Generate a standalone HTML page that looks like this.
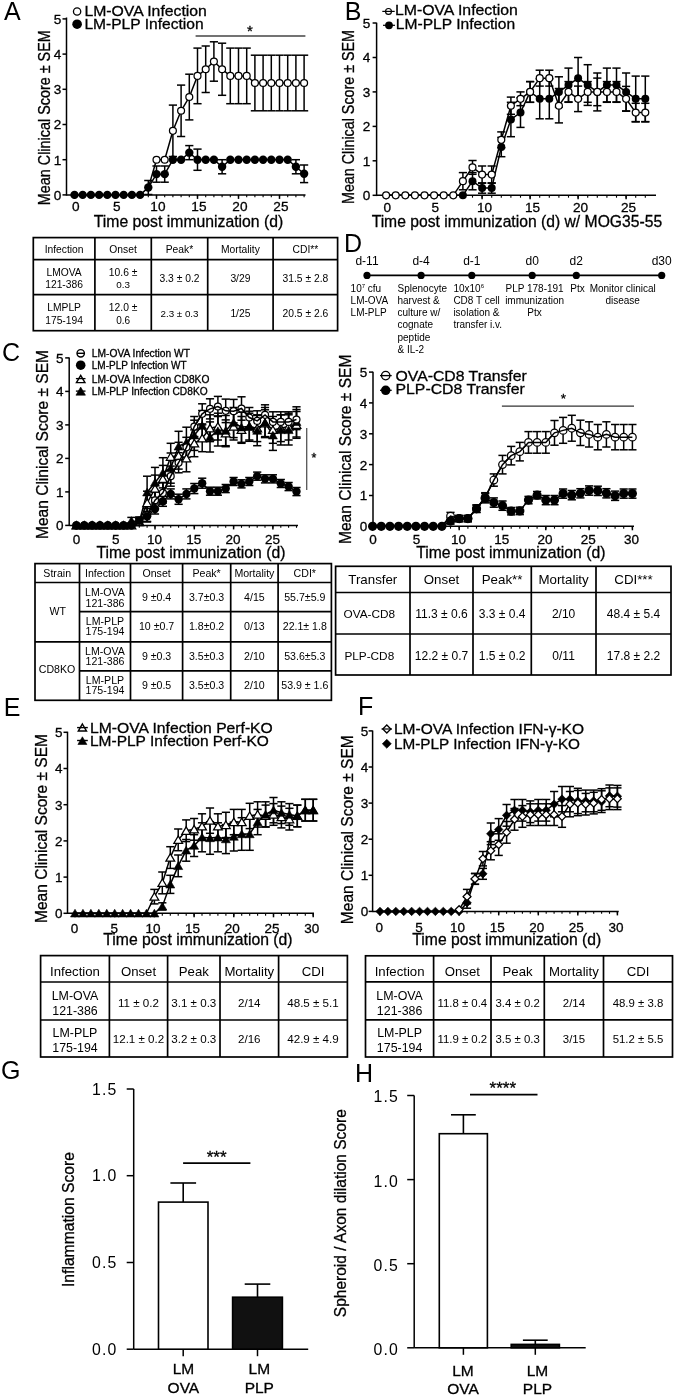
<!DOCTYPE html>
<html><head><meta charset="utf-8"><style>
html,body{margin:0;padding:0;background:#fff;width:675px;height:1396px;overflow:hidden}
svg{display:block;will-change:transform}
text{font-family:"Liberation Sans", sans-serif;fill:#000;stroke:#000;stroke-width:0.3px}
.tb{stroke-width:0}
line,polyline{stroke:#000;stroke-linecap:butt}
</style></head><body>
<svg width="675" height="1396" viewBox="0 0 675 1396">
<rect x="0" y="0" width="675" height="1396" fill="#fff"/>
<text x="3.9" y="19.7" font-size="25" class="tb">A</text>
<line x1="66.5" y1="17.5" x2="66.5" y2="195.7" stroke-width="1.5"/>
<line x1="66.5" y1="194.9" x2="305.5" y2="194.9" stroke-width="1.5"/>
<line x1="62.5" y1="194.9" x2="66.5" y2="194.9" stroke-width="1.5"/>
<text x="61.3" y="199.8" font-size="13.6" text-anchor="end" font-weight="normal">0</text>
<line x1="62.5" y1="159.7" x2="66.5" y2="159.7" stroke-width="1.5"/>
<text x="61.3" y="164.6" font-size="13.6" text-anchor="end" font-weight="normal">1</text>
<line x1="62.5" y1="124.5" x2="66.5" y2="124.5" stroke-width="1.5"/>
<text x="61.3" y="129.4" font-size="13.6" text-anchor="end" font-weight="normal">2</text>
<line x1="62.5" y1="89.3" x2="66.5" y2="89.3" stroke-width="1.5"/>
<text x="61.3" y="94.2" font-size="13.6" text-anchor="end" font-weight="normal">3</text>
<line x1="62.5" y1="54.1" x2="66.5" y2="54.1" stroke-width="1.5"/>
<text x="61.3" y="59.0" font-size="13.6" text-anchor="end" font-weight="normal">4</text>
<line x1="62.5" y1="18.9" x2="66.5" y2="18.9" stroke-width="1.5"/>
<text x="61.3" y="23.8" font-size="13.6" text-anchor="end" font-weight="normal">5</text>
<line x1="74.5" y1="194.9" x2="74.5" y2="197.3" stroke-width="1.1"/>
<line x1="82.7" y1="194.9" x2="82.7" y2="197.3" stroke-width="1.1"/>
<line x1="90.9" y1="194.9" x2="90.9" y2="197.3" stroke-width="1.1"/>
<line x1="99.1" y1="194.9" x2="99.1" y2="197.3" stroke-width="1.1"/>
<line x1="107.3" y1="194.9" x2="107.3" y2="197.3" stroke-width="1.1"/>
<line x1="115.5" y1="194.9" x2="115.5" y2="197.3" stroke-width="1.1"/>
<line x1="123.7" y1="194.9" x2="123.7" y2="197.3" stroke-width="1.1"/>
<line x1="131.9" y1="194.9" x2="131.9" y2="197.3" stroke-width="1.1"/>
<line x1="140.1" y1="194.9" x2="140.1" y2="197.3" stroke-width="1.1"/>
<line x1="148.3" y1="194.9" x2="148.3" y2="197.3" stroke-width="1.1"/>
<line x1="156.5" y1="194.9" x2="156.5" y2="197.3" stroke-width="1.1"/>
<line x1="164.7" y1="194.9" x2="164.7" y2="197.3" stroke-width="1.1"/>
<line x1="172.9" y1="194.9" x2="172.9" y2="197.3" stroke-width="1.1"/>
<line x1="181.1" y1="194.9" x2="181.1" y2="197.3" stroke-width="1.1"/>
<line x1="189.3" y1="194.9" x2="189.3" y2="197.3" stroke-width="1.1"/>
<line x1="197.5" y1="194.9" x2="197.5" y2="197.3" stroke-width="1.1"/>
<line x1="205.7" y1="194.9" x2="205.7" y2="197.3" stroke-width="1.1"/>
<line x1="213.9" y1="194.9" x2="213.9" y2="197.3" stroke-width="1.1"/>
<line x1="222.1" y1="194.9" x2="222.1" y2="197.3" stroke-width="1.1"/>
<line x1="230.3" y1="194.9" x2="230.3" y2="197.3" stroke-width="1.1"/>
<line x1="238.5" y1="194.9" x2="238.5" y2="197.3" stroke-width="1.1"/>
<line x1="246.7" y1="194.9" x2="246.7" y2="197.3" stroke-width="1.1"/>
<line x1="254.9" y1="194.9" x2="254.9" y2="197.3" stroke-width="1.1"/>
<line x1="263.1" y1="194.9" x2="263.1" y2="197.3" stroke-width="1.1"/>
<line x1="271.3" y1="194.9" x2="271.3" y2="197.3" stroke-width="1.1"/>
<line x1="279.5" y1="194.9" x2="279.5" y2="197.3" stroke-width="1.1"/>
<line x1="287.7" y1="194.9" x2="287.7" y2="197.3" stroke-width="1.1"/>
<line x1="295.9" y1="194.9" x2="295.9" y2="197.3" stroke-width="1.1"/>
<line x1="304.1" y1="194.9" x2="304.1" y2="197.3" stroke-width="1.1"/>
<line x1="74.5" y1="194.9" x2="74.5" y2="198.9" stroke-width="1.5"/>
<text x="75.9" y="210.8" font-size="13.6" text-anchor="middle" font-weight="normal">0</text>
<line x1="115.5" y1="194.9" x2="115.5" y2="198.9" stroke-width="1.5"/>
<text x="116.9" y="210.8" font-size="13.6" text-anchor="middle" font-weight="normal">5</text>
<line x1="156.5" y1="194.9" x2="156.5" y2="198.9" stroke-width="1.5"/>
<text x="157.9" y="210.8" font-size="13.6" text-anchor="middle" font-weight="normal">10</text>
<line x1="197.5" y1="194.9" x2="197.5" y2="198.9" stroke-width="1.5"/>
<text x="198.9" y="210.8" font-size="13.6" text-anchor="middle" font-weight="normal">15</text>
<line x1="238.5" y1="194.9" x2="238.5" y2="198.9" stroke-width="1.5"/>
<text x="239.9" y="210.8" font-size="13.6" text-anchor="middle" font-weight="normal">20</text>
<line x1="279.5" y1="194.9" x2="279.5" y2="198.9" stroke-width="1.5"/>
<text x="280.9" y="210.8" font-size="13.6" text-anchor="middle" font-weight="normal">25</text>
<text x="188.5" y="227.1" font-size="16.3" text-anchor="middle" font-weight="normal" textLength="189.4" lengthAdjust="spacingAndGlyphs">Time post immunization (d)</text>
<text transform="translate(50.4,117.7) rotate(-90)" x="0" y="0" font-size="16.3" text-anchor="middle" textLength="175.0" lengthAdjust="spacingAndGlyphs">Mean Clinical Score ± SEM</text>
<circle cx="77.10" cy="11.50" r="3.65" fill="#fff" stroke="#000" stroke-width="1.3"/>
<circle cx="77.10" cy="24.20" r="4.80" fill="#000"/>
<text x="84.4" y="15.6" font-size="15" text-anchor="start" font-weight="normal" textLength="122.5" lengthAdjust="spacingAndGlyphs">LM-OVA Infection</text>
<text x="84.4" y="28.8" font-size="15" text-anchor="start" font-weight="normal" textLength="119.2" lengthAdjust="spacingAndGlyphs">LM-PLP Infection</text>
<line x1="195.6" y1="36.0" x2="305.4" y2="36.0" stroke-width="1.3" style="stroke:#444"/>
<text x="250.0" y="35.7" font-size="15" text-anchor="middle" font-weight="normal">*</text>
<polyline points="148.30,187.86 156.50,159.70 164.70,159.70 172.90,130.84 181.10,110.77 189.30,97.04 197.50,75.92 205.70,69.24 213.90,61.49 222.10,69.24 230.30,75.92 238.50,75.92 246.70,75.92 254.90,82.96 263.10,82.96 271.30,82.96 279.50,82.96 287.70,82.96 295.90,82.96 304.10,82.96" fill="none" stroke="#000" stroke-width="1.5"/>
<line x1="172.9" y1="105.1" x2="172.9" y2="156.5" stroke-width="1.5"/>
<line x1="168.8" y1="105.1" x2="177.0" y2="105.1" stroke-width="1.5"/>
<line x1="168.8" y1="156.5" x2="177.0" y2="156.5" stroke-width="1.5"/>
<line x1="181.1" y1="85.1" x2="181.1" y2="136.5" stroke-width="1.5"/>
<line x1="177.0" y1="85.1" x2="185.2" y2="85.1" stroke-width="1.5"/>
<line x1="177.0" y1="136.5" x2="185.2" y2="136.5" stroke-width="1.5"/>
<line x1="189.3" y1="74.2" x2="189.3" y2="119.9" stroke-width="1.5"/>
<line x1="185.2" y1="74.2" x2="193.4" y2="74.2" stroke-width="1.5"/>
<line x1="185.2" y1="119.9" x2="193.4" y2="119.9" stroke-width="1.5"/>
<line x1="197.5" y1="48.1" x2="197.5" y2="103.7" stroke-width="1.5"/>
<line x1="193.4" y1="48.1" x2="201.6" y2="48.1" stroke-width="1.5"/>
<line x1="193.4" y1="103.7" x2="201.6" y2="103.7" stroke-width="1.5"/>
<line x1="205.7" y1="46.0" x2="205.7" y2="92.5" stroke-width="1.5"/>
<line x1="201.6" y1="46.0" x2="209.8" y2="46.0" stroke-width="1.5"/>
<line x1="201.6" y1="92.5" x2="209.8" y2="92.5" stroke-width="1.5"/>
<line x1="213.9" y1="41.8" x2="213.9" y2="81.2" stroke-width="1.5"/>
<line x1="209.8" y1="41.8" x2="218.0" y2="41.8" stroke-width="1.5"/>
<line x1="209.8" y1="81.2" x2="218.0" y2="81.2" stroke-width="1.5"/>
<line x1="222.1" y1="43.2" x2="222.1" y2="95.3" stroke-width="1.5"/>
<line x1="218.0" y1="43.2" x2="226.2" y2="43.2" stroke-width="1.5"/>
<line x1="218.0" y1="95.3" x2="226.2" y2="95.3" stroke-width="1.5"/>
<line x1="230.3" y1="48.1" x2="230.3" y2="103.7" stroke-width="1.5"/>
<line x1="226.2" y1="48.1" x2="234.4" y2="48.1" stroke-width="1.5"/>
<line x1="226.2" y1="103.7" x2="234.4" y2="103.7" stroke-width="1.5"/>
<line x1="238.5" y1="48.1" x2="238.5" y2="103.7" stroke-width="1.5"/>
<line x1="234.4" y1="48.1" x2="242.6" y2="48.1" stroke-width="1.5"/>
<line x1="234.4" y1="103.7" x2="242.6" y2="103.7" stroke-width="1.5"/>
<line x1="246.7" y1="48.1" x2="246.7" y2="103.7" stroke-width="1.5"/>
<line x1="242.6" y1="48.1" x2="250.8" y2="48.1" stroke-width="1.5"/>
<line x1="242.6" y1="103.7" x2="250.8" y2="103.7" stroke-width="1.5"/>
<line x1="254.9" y1="55.2" x2="254.9" y2="110.8" stroke-width="1.5"/>
<line x1="250.8" y1="55.2" x2="259.0" y2="55.2" stroke-width="1.5"/>
<line x1="250.8" y1="110.8" x2="259.0" y2="110.8" stroke-width="1.5"/>
<line x1="263.1" y1="55.2" x2="263.1" y2="110.8" stroke-width="1.5"/>
<line x1="259.0" y1="55.2" x2="267.2" y2="55.2" stroke-width="1.5"/>
<line x1="259.0" y1="110.8" x2="267.2" y2="110.8" stroke-width="1.5"/>
<line x1="271.3" y1="55.2" x2="271.3" y2="110.8" stroke-width="1.5"/>
<line x1="267.2" y1="55.2" x2="275.4" y2="55.2" stroke-width="1.5"/>
<line x1="267.2" y1="110.8" x2="275.4" y2="110.8" stroke-width="1.5"/>
<line x1="279.5" y1="55.2" x2="279.5" y2="110.8" stroke-width="1.5"/>
<line x1="275.4" y1="55.2" x2="283.6" y2="55.2" stroke-width="1.5"/>
<line x1="275.4" y1="110.8" x2="283.6" y2="110.8" stroke-width="1.5"/>
<line x1="287.7" y1="55.2" x2="287.7" y2="110.8" stroke-width="1.5"/>
<line x1="283.6" y1="55.2" x2="291.8" y2="55.2" stroke-width="1.5"/>
<line x1="283.6" y1="110.8" x2="291.8" y2="110.8" stroke-width="1.5"/>
<line x1="295.9" y1="55.2" x2="295.9" y2="110.8" stroke-width="1.5"/>
<line x1="291.8" y1="55.2" x2="300.0" y2="55.2" stroke-width="1.5"/>
<line x1="291.8" y1="110.8" x2="300.0" y2="110.8" stroke-width="1.5"/>
<line x1="304.1" y1="55.2" x2="304.1" y2="110.8" stroke-width="1.5"/>
<line x1="300.0" y1="55.2" x2="308.2" y2="55.2" stroke-width="1.5"/>
<line x1="300.0" y1="110.8" x2="308.2" y2="110.8" stroke-width="1.5"/>
<circle cx="156.50" cy="159.70" r="3.45" fill="#fff" stroke="#000" stroke-width="1.25"/>
<circle cx="164.70" cy="159.70" r="3.45" fill="#fff" stroke="#000" stroke-width="1.25"/>
<circle cx="172.90" cy="130.84" r="3.45" fill="#fff" stroke="#000" stroke-width="1.25"/>
<circle cx="181.10" cy="110.77" r="3.45" fill="#fff" stroke="#000" stroke-width="1.25"/>
<circle cx="189.30" cy="97.04" r="3.45" fill="#fff" stroke="#000" stroke-width="1.25"/>
<circle cx="197.50" cy="75.92" r="3.45" fill="#fff" stroke="#000" stroke-width="1.25"/>
<circle cx="205.70" cy="69.24" r="3.45" fill="#fff" stroke="#000" stroke-width="1.25"/>
<circle cx="213.90" cy="61.49" r="3.45" fill="#fff" stroke="#000" stroke-width="1.25"/>
<circle cx="222.10" cy="69.24" r="3.45" fill="#fff" stroke="#000" stroke-width="1.25"/>
<circle cx="230.30" cy="75.92" r="3.45" fill="#fff" stroke="#000" stroke-width="1.25"/>
<circle cx="238.50" cy="75.92" r="3.45" fill="#fff" stroke="#000" stroke-width="1.25"/>
<circle cx="246.70" cy="75.92" r="3.45" fill="#fff" stroke="#000" stroke-width="1.25"/>
<circle cx="254.90" cy="82.96" r="3.45" fill="#fff" stroke="#000" stroke-width="1.25"/>
<circle cx="263.10" cy="82.96" r="3.45" fill="#fff" stroke="#000" stroke-width="1.25"/>
<circle cx="271.30" cy="82.96" r="3.45" fill="#fff" stroke="#000" stroke-width="1.25"/>
<circle cx="279.50" cy="82.96" r="3.45" fill="#fff" stroke="#000" stroke-width="1.25"/>
<circle cx="287.70" cy="82.96" r="3.45" fill="#fff" stroke="#000" stroke-width="1.25"/>
<circle cx="295.90" cy="82.96" r="3.45" fill="#fff" stroke="#000" stroke-width="1.25"/>
<circle cx="304.10" cy="82.96" r="3.45" fill="#fff" stroke="#000" stroke-width="1.25"/>
<polyline points="74.50,194.90 82.70,194.90 90.90,194.90 99.10,194.90 107.30,194.90 115.50,194.90 123.70,194.90 131.90,194.90 140.10,194.90 148.30,187.51 156.50,174.13 164.70,174.13 172.90,159.70 181.10,159.70 189.30,152.66 197.50,159.70 205.70,159.70 213.90,159.70 222.10,166.74 230.30,159.70 238.50,159.70 246.70,159.70 254.90,159.70 263.10,159.70 271.30,159.70 279.50,159.70 287.70,159.70 295.90,166.74 304.10,173.78" fill="none" stroke="#000" stroke-width="1.5"/>
<line x1="148.3" y1="180.5" x2="148.3" y2="194.5" stroke-width="1.5"/>
<line x1="144.2" y1="180.5" x2="152.4" y2="180.5" stroke-width="1.5"/>
<line x1="144.2" y1="194.5" x2="152.4" y2="194.5" stroke-width="1.5"/>
<line x1="156.5" y1="166.0" x2="156.5" y2="182.2" stroke-width="1.5"/>
<line x1="152.4" y1="166.0" x2="160.6" y2="166.0" stroke-width="1.5"/>
<line x1="152.4" y1="182.2" x2="160.6" y2="182.2" stroke-width="1.5"/>
<line x1="164.7" y1="166.0" x2="164.7" y2="182.2" stroke-width="1.5"/>
<line x1="160.6" y1="166.0" x2="168.8" y2="166.0" stroke-width="1.5"/>
<line x1="160.6" y1="182.2" x2="168.8" y2="182.2" stroke-width="1.5"/>
<line x1="189.3" y1="145.6" x2="189.3" y2="159.7" stroke-width="1.5"/>
<line x1="185.2" y1="145.6" x2="193.4" y2="145.6" stroke-width="1.5"/>
<line x1="185.2" y1="159.7" x2="193.4" y2="159.7" stroke-width="1.5"/>
<line x1="197.5" y1="149.1" x2="197.5" y2="170.3" stroke-width="1.5"/>
<line x1="193.4" y1="149.1" x2="201.6" y2="149.1" stroke-width="1.5"/>
<line x1="193.4" y1="170.3" x2="201.6" y2="170.3" stroke-width="1.5"/>
<line x1="222.1" y1="159.7" x2="222.1" y2="173.8" stroke-width="1.5"/>
<line x1="218.0" y1="159.7" x2="226.2" y2="159.7" stroke-width="1.5"/>
<line x1="218.0" y1="173.8" x2="226.2" y2="173.8" stroke-width="1.5"/>
<line x1="295.9" y1="159.7" x2="295.9" y2="173.8" stroke-width="1.5"/>
<line x1="291.8" y1="159.7" x2="300.0" y2="159.7" stroke-width="1.5"/>
<line x1="291.8" y1="173.8" x2="300.0" y2="173.8" stroke-width="1.5"/>
<line x1="304.1" y1="165.0" x2="304.1" y2="182.6" stroke-width="1.5"/>
<line x1="300.0" y1="165.0" x2="308.2" y2="165.0" stroke-width="1.5"/>
<line x1="300.0" y1="182.6" x2="308.2" y2="182.6" stroke-width="1.5"/>
<circle cx="74.50" cy="194.90" r="4.20" fill="#000"/>
<circle cx="82.70" cy="194.90" r="4.20" fill="#000"/>
<circle cx="90.90" cy="194.90" r="4.20" fill="#000"/>
<circle cx="99.10" cy="194.90" r="4.20" fill="#000"/>
<circle cx="107.30" cy="194.90" r="4.20" fill="#000"/>
<circle cx="115.50" cy="194.90" r="4.20" fill="#000"/>
<circle cx="123.70" cy="194.90" r="4.20" fill="#000"/>
<circle cx="131.90" cy="194.90" r="4.20" fill="#000"/>
<circle cx="140.10" cy="194.90" r="4.20" fill="#000"/>
<circle cx="148.30" cy="187.51" r="4.20" fill="#000"/>
<circle cx="156.50" cy="174.13" r="4.20" fill="#000"/>
<circle cx="164.70" cy="174.13" r="4.20" fill="#000"/>
<circle cx="172.90" cy="159.70" r="4.20" fill="#000"/>
<circle cx="181.10" cy="159.70" r="4.20" fill="#000"/>
<circle cx="189.30" cy="152.66" r="4.20" fill="#000"/>
<circle cx="197.50" cy="159.70" r="4.20" fill="#000"/>
<circle cx="205.70" cy="159.70" r="4.20" fill="#000"/>
<circle cx="213.90" cy="159.70" r="4.20" fill="#000"/>
<circle cx="222.10" cy="166.74" r="4.20" fill="#000"/>
<circle cx="230.30" cy="159.70" r="4.20" fill="#000"/>
<circle cx="238.50" cy="159.70" r="4.20" fill="#000"/>
<circle cx="246.70" cy="159.70" r="4.20" fill="#000"/>
<circle cx="254.90" cy="159.70" r="4.20" fill="#000"/>
<circle cx="263.10" cy="159.70" r="4.20" fill="#000"/>
<circle cx="271.30" cy="159.70" r="4.20" fill="#000"/>
<circle cx="279.50" cy="159.70" r="4.20" fill="#000"/>
<circle cx="287.70" cy="159.70" r="4.20" fill="#000"/>
<circle cx="295.90" cy="166.74" r="4.20" fill="#000"/>
<circle cx="304.10" cy="173.78" r="4.20" fill="#000"/>
<text x="344.8" y="19.8" font-size="25" class="tb">B</text>
<line x1="376.6" y1="22.7" x2="376.6" y2="196.1" stroke-width="1.5"/>
<line x1="376.6" y1="195.3" x2="656.0" y2="195.3" stroke-width="1.5"/>
<line x1="372.6" y1="195.3" x2="376.6" y2="195.3" stroke-width="1.5"/>
<text x="370.3" y="200.2" font-size="13.6" text-anchor="end" font-weight="normal">0</text>
<line x1="372.6" y1="160.8" x2="376.6" y2="160.8" stroke-width="1.5"/>
<text x="370.3" y="165.7" font-size="13.6" text-anchor="end" font-weight="normal">1</text>
<line x1="372.6" y1="126.4" x2="376.6" y2="126.4" stroke-width="1.5"/>
<text x="370.3" y="131.3" font-size="13.6" text-anchor="end" font-weight="normal">2</text>
<line x1="372.6" y1="91.9" x2="376.6" y2="91.9" stroke-width="1.5"/>
<text x="370.3" y="96.8" font-size="13.6" text-anchor="end" font-weight="normal">3</text>
<line x1="372.6" y1="57.5" x2="376.6" y2="57.5" stroke-width="1.5"/>
<text x="370.3" y="62.4" font-size="13.6" text-anchor="end" font-weight="normal">4</text>
<line x1="372.6" y1="23.0" x2="376.6" y2="23.0" stroke-width="1.5"/>
<text x="370.3" y="27.9" font-size="13.6" text-anchor="end" font-weight="normal">5</text>
<line x1="386.1" y1="195.3" x2="386.1" y2="197.7" stroke-width="1.1"/>
<line x1="395.7" y1="195.3" x2="395.7" y2="197.7" stroke-width="1.1"/>
<line x1="405.3" y1="195.3" x2="405.3" y2="197.7" stroke-width="1.1"/>
<line x1="414.9" y1="195.3" x2="414.9" y2="197.7" stroke-width="1.1"/>
<line x1="424.5" y1="195.3" x2="424.5" y2="197.7" stroke-width="1.1"/>
<line x1="434.1" y1="195.3" x2="434.1" y2="197.7" stroke-width="1.1"/>
<line x1="443.7" y1="195.3" x2="443.7" y2="197.7" stroke-width="1.1"/>
<line x1="453.3" y1="195.3" x2="453.3" y2="197.7" stroke-width="1.1"/>
<line x1="462.9" y1="195.3" x2="462.9" y2="197.7" stroke-width="1.1"/>
<line x1="472.5" y1="195.3" x2="472.5" y2="197.7" stroke-width="1.1"/>
<line x1="482.1" y1="195.3" x2="482.1" y2="197.7" stroke-width="1.1"/>
<line x1="491.7" y1="195.3" x2="491.7" y2="197.7" stroke-width="1.1"/>
<line x1="501.3" y1="195.3" x2="501.3" y2="197.7" stroke-width="1.1"/>
<line x1="510.9" y1="195.3" x2="510.9" y2="197.7" stroke-width="1.1"/>
<line x1="520.5" y1="195.3" x2="520.5" y2="197.7" stroke-width="1.1"/>
<line x1="530.1" y1="195.3" x2="530.1" y2="197.7" stroke-width="1.1"/>
<line x1="539.7" y1="195.3" x2="539.7" y2="197.7" stroke-width="1.1"/>
<line x1="549.3" y1="195.3" x2="549.3" y2="197.7" stroke-width="1.1"/>
<line x1="558.9" y1="195.3" x2="558.9" y2="197.7" stroke-width="1.1"/>
<line x1="568.5" y1="195.3" x2="568.5" y2="197.7" stroke-width="1.1"/>
<line x1="578.1" y1="195.3" x2="578.1" y2="197.7" stroke-width="1.1"/>
<line x1="587.7" y1="195.3" x2="587.7" y2="197.7" stroke-width="1.1"/>
<line x1="597.3" y1="195.3" x2="597.3" y2="197.7" stroke-width="1.1"/>
<line x1="606.9" y1="195.3" x2="606.9" y2="197.7" stroke-width="1.1"/>
<line x1="616.5" y1="195.3" x2="616.5" y2="197.7" stroke-width="1.1"/>
<line x1="626.1" y1="195.3" x2="626.1" y2="197.7" stroke-width="1.1"/>
<line x1="635.7" y1="195.3" x2="635.7" y2="197.7" stroke-width="1.1"/>
<line x1="645.3" y1="195.3" x2="645.3" y2="197.7" stroke-width="1.1"/>
<line x1="386.1" y1="195.3" x2="386.1" y2="199.3" stroke-width="1.5"/>
<text x="387.3" y="211.5" font-size="13.6" text-anchor="middle" font-weight="normal">0</text>
<line x1="434.1" y1="195.3" x2="434.1" y2="199.3" stroke-width="1.5"/>
<text x="435.3" y="211.5" font-size="13.6" text-anchor="middle" font-weight="normal">5</text>
<line x1="482.1" y1="195.3" x2="482.1" y2="199.3" stroke-width="1.5"/>
<text x="484.6" y="211.5" font-size="13.6" text-anchor="middle" font-weight="normal">10</text>
<line x1="530.1" y1="195.3" x2="530.1" y2="199.3" stroke-width="1.5"/>
<text x="532.6" y="211.5" font-size="13.6" text-anchor="middle" font-weight="normal">15</text>
<line x1="578.1" y1="195.3" x2="578.1" y2="199.3" stroke-width="1.5"/>
<text x="580.6" y="211.5" font-size="13.6" text-anchor="middle" font-weight="normal">20</text>
<line x1="626.1" y1="195.3" x2="626.1" y2="199.3" stroke-width="1.5"/>
<text x="628.6" y="211.5" font-size="13.6" text-anchor="middle" font-weight="normal">25</text>
<text x="516.9" y="227.2" font-size="16.3" text-anchor="middle" font-weight="normal" textLength="290.5" lengthAdjust="spacingAndGlyphs">Time post immunization (d) w/ MOG35-55</text>
<text transform="translate(353.8,117.0) rotate(-90)" x="0" y="0" font-size="16.3" text-anchor="middle" textLength="174.0" lengthAdjust="spacingAndGlyphs">Mean Clinical Score ± SEM</text>
<circle cx="388.50" cy="11.40" r="2.95" fill="#fff" stroke="#000" stroke-width="1.15"/>
<line x1="382.3" y1="11.4" x2="394.7" y2="11.4" stroke-width="1.2"/>
<line x1="383.0" y1="25.3" x2="395.0" y2="25.3" stroke-width="1.2"/>
<circle cx="389.00" cy="25.30" r="3.90" fill="#000"/>
<text x="394.9" y="15.3" font-size="15.5" text-anchor="start" font-weight="normal" textLength="122.9" lengthAdjust="spacingAndGlyphs">LM-OVA Infection</text>
<text x="395.8" y="28.9" font-size="15.5" text-anchor="start" font-weight="normal" textLength="119.3" lengthAdjust="spacingAndGlyphs">LM-PLP Infection</text>
<polyline points="386.10,195.30 395.70,195.30 405.30,195.30 414.90,195.30 424.50,195.30 434.10,195.30 443.70,195.30 453.30,195.30 462.90,195.30 472.50,181.17 482.10,188.06 491.70,188.06 501.30,147.06 510.90,119.49 520.50,112.60 530.10,91.92 539.70,98.81 549.30,98.81 558.90,91.92 568.50,85.03 578.10,78.14 587.70,85.03 597.30,91.92 606.90,85.03 616.50,85.03 626.10,91.92 635.70,98.81 645.30,98.81" fill="none" stroke="#000" stroke-width="1.5"/>
<line x1="472.5" y1="172.6" x2="472.5" y2="189.8" stroke-width="1.5"/>
<line x1="468.4" y1="172.6" x2="476.6" y2="172.6" stroke-width="1.5"/>
<line x1="468.4" y1="189.8" x2="476.6" y2="189.8" stroke-width="1.5"/>
<line x1="482.1" y1="182.9" x2="482.1" y2="193.2" stroke-width="1.5"/>
<line x1="478.0" y1="182.9" x2="486.2" y2="182.9" stroke-width="1.5"/>
<line x1="478.0" y1="193.2" x2="486.2" y2="193.2" stroke-width="1.5"/>
<line x1="491.7" y1="182.9" x2="491.7" y2="193.2" stroke-width="1.5"/>
<line x1="487.6" y1="182.9" x2="495.8" y2="182.9" stroke-width="1.5"/>
<line x1="487.6" y1="193.2" x2="495.8" y2="193.2" stroke-width="1.5"/>
<line x1="501.3" y1="137.4" x2="501.3" y2="156.7" stroke-width="1.5"/>
<line x1="497.2" y1="137.4" x2="505.4" y2="137.4" stroke-width="1.5"/>
<line x1="497.2" y1="156.7" x2="505.4" y2="156.7" stroke-width="1.5"/>
<line x1="510.9" y1="102.3" x2="510.9" y2="136.7" stroke-width="1.5"/>
<line x1="506.8" y1="102.3" x2="515.0" y2="102.3" stroke-width="1.5"/>
<line x1="506.8" y1="136.7" x2="515.0" y2="136.7" stroke-width="1.5"/>
<line x1="520.5" y1="97.8" x2="520.5" y2="127.4" stroke-width="1.5"/>
<line x1="516.4" y1="97.8" x2="524.6" y2="97.8" stroke-width="1.5"/>
<line x1="516.4" y1="127.4" x2="524.6" y2="127.4" stroke-width="1.5"/>
<line x1="530.1" y1="81.6" x2="530.1" y2="102.3" stroke-width="1.5"/>
<line x1="526.0" y1="81.6" x2="534.2" y2="81.6" stroke-width="1.5"/>
<line x1="526.0" y1="102.3" x2="534.2" y2="102.3" stroke-width="1.5"/>
<line x1="539.7" y1="78.8" x2="539.7" y2="118.8" stroke-width="1.5"/>
<line x1="535.6" y1="78.8" x2="543.8" y2="78.8" stroke-width="1.5"/>
<line x1="535.6" y1="118.8" x2="543.8" y2="118.8" stroke-width="1.5"/>
<line x1="549.3" y1="78.8" x2="549.3" y2="118.8" stroke-width="1.5"/>
<line x1="545.2" y1="78.8" x2="553.4" y2="78.8" stroke-width="1.5"/>
<line x1="545.2" y1="118.8" x2="553.4" y2="118.8" stroke-width="1.5"/>
<line x1="558.9" y1="76.8" x2="558.9" y2="107.1" stroke-width="1.5"/>
<line x1="554.8" y1="76.8" x2="563.0" y2="76.8" stroke-width="1.5"/>
<line x1="554.8" y1="107.1" x2="563.0" y2="107.1" stroke-width="1.5"/>
<line x1="568.5" y1="68.1" x2="568.5" y2="101.9" stroke-width="1.5"/>
<line x1="564.4" y1="68.1" x2="572.6" y2="68.1" stroke-width="1.5"/>
<line x1="564.4" y1="101.9" x2="572.6" y2="101.9" stroke-width="1.5"/>
<line x1="578.1" y1="57.5" x2="578.1" y2="98.8" stroke-width="1.5"/>
<line x1="574.0" y1="57.5" x2="582.2" y2="57.5" stroke-width="1.5"/>
<line x1="574.0" y1="98.8" x2="582.2" y2="98.8" stroke-width="1.5"/>
<line x1="587.7" y1="64.7" x2="587.7" y2="105.4" stroke-width="1.5"/>
<line x1="583.6" y1="64.7" x2="591.8" y2="64.7" stroke-width="1.5"/>
<line x1="583.6" y1="105.4" x2="591.8" y2="105.4" stroke-width="1.5"/>
<line x1="597.3" y1="73.0" x2="597.3" y2="110.9" stroke-width="1.5"/>
<line x1="593.2" y1="73.0" x2="601.4" y2="73.0" stroke-width="1.5"/>
<line x1="593.2" y1="110.9" x2="601.4" y2="110.9" stroke-width="1.5"/>
<line x1="606.9" y1="68.1" x2="606.9" y2="101.9" stroke-width="1.5"/>
<line x1="602.8" y1="68.1" x2="611.0" y2="68.1" stroke-width="1.5"/>
<line x1="602.8" y1="101.9" x2="611.0" y2="101.9" stroke-width="1.5"/>
<line x1="616.5" y1="68.1" x2="616.5" y2="101.9" stroke-width="1.5"/>
<line x1="612.4" y1="68.1" x2="620.6" y2="68.1" stroke-width="1.5"/>
<line x1="612.4" y1="101.9" x2="620.6" y2="101.9" stroke-width="1.5"/>
<line x1="626.1" y1="73.0" x2="626.1" y2="110.9" stroke-width="1.5"/>
<line x1="622.0" y1="73.0" x2="630.2" y2="73.0" stroke-width="1.5"/>
<line x1="622.0" y1="110.9" x2="630.2" y2="110.9" stroke-width="1.5"/>
<line x1="635.7" y1="76.1" x2="635.7" y2="121.6" stroke-width="1.5"/>
<line x1="631.6" y1="76.1" x2="639.8" y2="76.1" stroke-width="1.5"/>
<line x1="631.6" y1="121.6" x2="639.8" y2="121.6" stroke-width="1.5"/>
<line x1="645.3" y1="76.1" x2="645.3" y2="121.6" stroke-width="1.5"/>
<line x1="641.2" y1="76.1" x2="649.4" y2="76.1" stroke-width="1.5"/>
<line x1="641.2" y1="121.6" x2="649.4" y2="121.6" stroke-width="1.5"/>
<polyline points="386.10,195.30 395.70,195.30 405.30,195.30 414.90,195.30 424.50,195.30 434.10,195.30 443.70,195.30 453.30,195.30 462.90,181.17 472.50,167.39 482.10,174.62 491.70,174.62 501.30,139.82 510.90,105.70 520.50,98.81 530.10,91.92 539.70,78.14 549.30,78.14 558.90,105.70 568.50,91.92 578.10,98.81 587.70,91.92 597.30,91.92 606.90,91.92 616.50,91.92 626.10,98.81 635.70,112.60 645.30,112.60" fill="none" stroke="#000" stroke-width="1.5"/>
<line x1="462.9" y1="172.6" x2="462.9" y2="189.8" stroke-width="1.5"/>
<line x1="458.8" y1="172.6" x2="467.0" y2="172.6" stroke-width="1.5"/>
<line x1="458.8" y1="189.8" x2="467.0" y2="189.8" stroke-width="1.5"/>
<line x1="472.5" y1="160.5" x2="472.5" y2="174.3" stroke-width="1.5"/>
<line x1="468.4" y1="160.5" x2="476.6" y2="160.5" stroke-width="1.5"/>
<line x1="468.4" y1="174.3" x2="476.6" y2="174.3" stroke-width="1.5"/>
<line x1="482.1" y1="166.0" x2="482.1" y2="183.2" stroke-width="1.5"/>
<line x1="478.0" y1="166.0" x2="486.2" y2="166.0" stroke-width="1.5"/>
<line x1="478.0" y1="183.2" x2="486.2" y2="183.2" stroke-width="1.5"/>
<line x1="491.7" y1="166.0" x2="491.7" y2="183.2" stroke-width="1.5"/>
<line x1="487.6" y1="166.0" x2="495.8" y2="166.0" stroke-width="1.5"/>
<line x1="487.6" y1="183.2" x2="495.8" y2="183.2" stroke-width="1.5"/>
<line x1="501.3" y1="131.9" x2="501.3" y2="147.7" stroke-width="1.5"/>
<line x1="497.2" y1="131.9" x2="505.4" y2="131.9" stroke-width="1.5"/>
<line x1="497.2" y1="147.7" x2="505.4" y2="147.7" stroke-width="1.5"/>
<line x1="510.9" y1="97.1" x2="510.9" y2="114.3" stroke-width="1.5"/>
<line x1="506.8" y1="97.1" x2="515.0" y2="97.1" stroke-width="1.5"/>
<line x1="506.8" y1="114.3" x2="515.0" y2="114.3" stroke-width="1.5"/>
<line x1="520.5" y1="91.9" x2="520.5" y2="105.7" stroke-width="1.5"/>
<line x1="516.4" y1="91.9" x2="524.6" y2="91.9" stroke-width="1.5"/>
<line x1="516.4" y1="105.7" x2="524.6" y2="105.7" stroke-width="1.5"/>
<line x1="530.1" y1="81.6" x2="530.1" y2="102.3" stroke-width="1.5"/>
<line x1="526.0" y1="81.6" x2="534.2" y2="81.6" stroke-width="1.5"/>
<line x1="526.0" y1="102.3" x2="534.2" y2="102.3" stroke-width="1.5"/>
<line x1="539.7" y1="70.2" x2="539.7" y2="86.1" stroke-width="1.5"/>
<line x1="535.6" y1="70.2" x2="543.8" y2="70.2" stroke-width="1.5"/>
<line x1="535.6" y1="86.1" x2="543.8" y2="86.1" stroke-width="1.5"/>
<line x1="549.3" y1="70.2" x2="549.3" y2="86.1" stroke-width="1.5"/>
<line x1="545.2" y1="70.2" x2="553.4" y2="70.2" stroke-width="1.5"/>
<line x1="545.2" y1="86.1" x2="553.4" y2="86.1" stroke-width="1.5"/>
<line x1="558.9" y1="88.5" x2="558.9" y2="122.9" stroke-width="1.5"/>
<line x1="554.8" y1="88.5" x2="563.0" y2="88.5" stroke-width="1.5"/>
<line x1="554.8" y1="122.9" x2="563.0" y2="122.9" stroke-width="1.5"/>
<line x1="568.5" y1="81.6" x2="568.5" y2="102.3" stroke-width="1.5"/>
<line x1="564.4" y1="81.6" x2="572.6" y2="81.6" stroke-width="1.5"/>
<line x1="564.4" y1="102.3" x2="572.6" y2="102.3" stroke-width="1.5"/>
<line x1="578.1" y1="86.1" x2="578.1" y2="111.6" stroke-width="1.5"/>
<line x1="574.0" y1="86.1" x2="582.2" y2="86.1" stroke-width="1.5"/>
<line x1="574.0" y1="111.6" x2="582.2" y2="111.6" stroke-width="1.5"/>
<line x1="587.7" y1="81.6" x2="587.7" y2="102.3" stroke-width="1.5"/>
<line x1="583.6" y1="81.6" x2="591.8" y2="81.6" stroke-width="1.5"/>
<line x1="583.6" y1="102.3" x2="591.8" y2="102.3" stroke-width="1.5"/>
<line x1="597.3" y1="78.1" x2="597.3" y2="105.7" stroke-width="1.5"/>
<line x1="593.2" y1="78.1" x2="601.4" y2="78.1" stroke-width="1.5"/>
<line x1="593.2" y1="105.7" x2="601.4" y2="105.7" stroke-width="1.5"/>
<line x1="606.9" y1="81.6" x2="606.9" y2="102.3" stroke-width="1.5"/>
<line x1="602.8" y1="81.6" x2="611.0" y2="81.6" stroke-width="1.5"/>
<line x1="602.8" y1="102.3" x2="611.0" y2="102.3" stroke-width="1.5"/>
<line x1="616.5" y1="81.6" x2="616.5" y2="102.3" stroke-width="1.5"/>
<line x1="612.4" y1="81.6" x2="620.6" y2="81.6" stroke-width="1.5"/>
<line x1="612.4" y1="102.3" x2="620.6" y2="102.3" stroke-width="1.5"/>
<line x1="626.1" y1="86.4" x2="626.1" y2="111.2" stroke-width="1.5"/>
<line x1="622.0" y1="86.4" x2="630.2" y2="86.4" stroke-width="1.5"/>
<line x1="622.0" y1="111.2" x2="630.2" y2="111.2" stroke-width="1.5"/>
<line x1="635.7" y1="103.3" x2="635.7" y2="121.9" stroke-width="1.5"/>
<line x1="631.6" y1="103.3" x2="639.8" y2="103.3" stroke-width="1.5"/>
<line x1="631.6" y1="121.9" x2="639.8" y2="121.9" stroke-width="1.5"/>
<line x1="645.3" y1="103.3" x2="645.3" y2="121.9" stroke-width="1.5"/>
<line x1="641.2" y1="103.3" x2="649.4" y2="103.3" stroke-width="1.5"/>
<line x1="641.2" y1="121.9" x2="649.4" y2="121.9" stroke-width="1.5"/>
<circle cx="462.90" cy="195.30" r="4.00" fill="#000"/>
<circle cx="472.50" cy="181.17" r="4.00" fill="#000"/>
<circle cx="482.10" cy="188.06" r="4.00" fill="#000"/>
<circle cx="491.70" cy="188.06" r="4.00" fill="#000"/>
<circle cx="501.30" cy="147.06" r="4.00" fill="#000"/>
<circle cx="510.90" cy="119.49" r="4.00" fill="#000"/>
<circle cx="520.50" cy="112.60" r="4.00" fill="#000"/>
<circle cx="530.10" cy="91.92" r="4.00" fill="#000"/>
<circle cx="539.70" cy="98.81" r="4.00" fill="#000"/>
<circle cx="549.30" cy="98.81" r="4.00" fill="#000"/>
<circle cx="558.90" cy="91.92" r="4.00" fill="#000"/>
<circle cx="568.50" cy="85.03" r="4.00" fill="#000"/>
<circle cx="578.10" cy="78.14" r="4.00" fill="#000"/>
<circle cx="587.70" cy="85.03" r="4.00" fill="#000"/>
<circle cx="597.30" cy="91.92" r="4.00" fill="#000"/>
<circle cx="606.90" cy="85.03" r="4.00" fill="#000"/>
<circle cx="616.50" cy="85.03" r="4.00" fill="#000"/>
<circle cx="626.10" cy="91.92" r="4.00" fill="#000"/>
<circle cx="635.70" cy="98.81" r="4.00" fill="#000"/>
<circle cx="645.30" cy="98.81" r="4.00" fill="#000"/>
<circle cx="386.10" cy="195.30" r="3.45" fill="#fff" stroke="#000" stroke-width="1.25"/>
<circle cx="395.70" cy="195.30" r="3.45" fill="#fff" stroke="#000" stroke-width="1.25"/>
<circle cx="405.30" cy="195.30" r="3.45" fill="#fff" stroke="#000" stroke-width="1.25"/>
<circle cx="414.90" cy="195.30" r="3.45" fill="#fff" stroke="#000" stroke-width="1.25"/>
<circle cx="424.50" cy="195.30" r="3.45" fill="#fff" stroke="#000" stroke-width="1.25"/>
<circle cx="434.10" cy="195.30" r="3.45" fill="#fff" stroke="#000" stroke-width="1.25"/>
<circle cx="443.70" cy="195.30" r="3.45" fill="#fff" stroke="#000" stroke-width="1.25"/>
<circle cx="453.30" cy="195.30" r="3.45" fill="#fff" stroke="#000" stroke-width="1.25"/>
<circle cx="462.90" cy="181.17" r="3.45" fill="#fff" stroke="#000" stroke-width="1.25"/>
<circle cx="472.50" cy="167.39" r="3.45" fill="#fff" stroke="#000" stroke-width="1.25"/>
<circle cx="482.10" cy="174.62" r="3.45" fill="#fff" stroke="#000" stroke-width="1.25"/>
<circle cx="491.70" cy="174.62" r="3.45" fill="#fff" stroke="#000" stroke-width="1.25"/>
<circle cx="501.30" cy="139.82" r="3.45" fill="#fff" stroke="#000" stroke-width="1.25"/>
<circle cx="510.90" cy="105.70" r="3.45" fill="#fff" stroke="#000" stroke-width="1.25"/>
<circle cx="520.50" cy="98.81" r="3.45" fill="#fff" stroke="#000" stroke-width="1.25"/>
<circle cx="530.10" cy="91.92" r="3.45" fill="#fff" stroke="#000" stroke-width="1.25"/>
<circle cx="539.70" cy="78.14" r="3.45" fill="#fff" stroke="#000" stroke-width="1.25"/>
<circle cx="549.30" cy="78.14" r="3.45" fill="#fff" stroke="#000" stroke-width="1.25"/>
<circle cx="558.90" cy="105.70" r="3.45" fill="#fff" stroke="#000" stroke-width="1.25"/>
<circle cx="568.50" cy="91.92" r="3.45" fill="#fff" stroke="#000" stroke-width="1.25"/>
<circle cx="578.10" cy="98.81" r="3.45" fill="#fff" stroke="#000" stroke-width="1.25"/>
<circle cx="587.70" cy="91.92" r="3.45" fill="#fff" stroke="#000" stroke-width="1.25"/>
<circle cx="597.30" cy="91.92" r="3.45" fill="#fff" stroke="#000" stroke-width="1.25"/>
<circle cx="606.90" cy="91.92" r="3.45" fill="#fff" stroke="#000" stroke-width="1.25"/>
<circle cx="616.50" cy="91.92" r="3.45" fill="#fff" stroke="#000" stroke-width="1.25"/>
<circle cx="626.10" cy="98.81" r="3.45" fill="#fff" stroke="#000" stroke-width="1.25"/>
<circle cx="635.70" cy="112.60" r="3.45" fill="#fff" stroke="#000" stroke-width="1.25"/>
<circle cx="645.30" cy="112.60" r="3.45" fill="#fff" stroke="#000" stroke-width="1.25"/>
<rect x="33.3" y="237.6" width="304.3" height="93.1" fill="none" stroke="#000" stroke-width="1.7"/>
<line x1="94.9" y1="237.6" x2="94.9" y2="330.7" stroke-width="1.7"/>
<line x1="151.3" y1="237.6" x2="151.3" y2="330.7" stroke-width="1.7"/>
<line x1="207.7" y1="237.6" x2="207.7" y2="330.7" stroke-width="1.7"/>
<line x1="273.1" y1="237.6" x2="273.1" y2="330.7" stroke-width="1.7"/>
<line x1="33.3" y1="259.6" x2="337.6" y2="259.6" stroke-width="1.7"/>
<line x1="33.3" y1="294.7" x2="337.6" y2="294.7" stroke-width="1.7"/>
<text x="64.1" y="252.7" font-size="10.3" text-anchor="middle" font-weight="normal" class="tb">Infection</text>
<text x="123.1" y="252.7" font-size="10.3" text-anchor="middle" font-weight="normal" class="tb">Onset</text>
<text x="179.5" y="252.7" font-size="10.3" text-anchor="middle" font-weight="normal" class="tb">Peak*</text>
<text x="240.4" y="252.7" font-size="10.3" text-anchor="middle" font-weight="normal" class="tb">Mortality</text>
<text x="305.4" y="252.7" font-size="10.3" text-anchor="middle" font-weight="normal" class="tb">CDI**</text>
<text x="64.1" y="275.9" font-size="10.3" text-anchor="middle" font-weight="normal" class="tb">LMOVA</text>
<text x="64.1" y="288.2" font-size="10.3" text-anchor="middle" font-weight="normal" class="tb">121-386</text>
<text x="123.1" y="275.9" font-size="10.3" text-anchor="middle" font-weight="normal" class="tb">10.6 ±</text>
<text x="123.1" y="288.3" font-size="9.9" text-anchor="middle" font-weight="normal" class="tb">0.3</text>
<text x="179.5" y="282.3" font-size="10.3" text-anchor="middle" font-weight="normal" class="tb">3.3 ± 0.2</text>
<text x="240.4" y="282.3" font-size="10.3" text-anchor="middle" font-weight="normal" class="tb">3/29</text>
<text x="305.4" y="282.3" font-size="10.3" text-anchor="middle" font-weight="normal" class="tb">31.5 ± 2.8</text>
<text x="64.1" y="310.7" font-size="10.3" text-anchor="middle" font-weight="normal" class="tb">LMPLP</text>
<text x="64.1" y="323.7" font-size="10.3" text-anchor="middle" font-weight="normal" class="tb">175-194</text>
<text x="123.1" y="310.7" font-size="10.3" text-anchor="middle" font-weight="normal" class="tb">12.0 ±</text>
<text x="123.1" y="323.8" font-size="10" text-anchor="middle" font-weight="normal" class="tb">0.6</text>
<text x="179.5" y="317.3" font-size="9.8" text-anchor="middle" font-weight="normal" class="tb">2.3 ± 0.3</text>
<text x="240.4" y="317.2" font-size="10.3" text-anchor="middle" font-weight="normal" class="tb">1/25</text>
<text x="305.4" y="317.2" font-size="10.3" text-anchor="middle" font-weight="normal" class="tb">20.5 ± 2.6</text>
<text x="343.9" y="252.2" font-size="25" class="tb">D</text>
<line x1="367.0" y1="275.4" x2="661.7" y2="275.4" stroke-width="1.8"/>
<circle cx="367.0" cy="275.4" r="3.6" fill="#000"/>
<text x="367.0" y="265.0" font-size="12" text-anchor="middle" font-weight="normal" class="tb">d-11</text>
<circle cx="421.1" cy="275.4" r="3.6" fill="#000"/>
<text x="421.1" y="265.0" font-size="12" text-anchor="middle" font-weight="normal" class="tb">d-4</text>
<circle cx="471.8" cy="275.4" r="3.6" fill="#000"/>
<text x="471.8" y="265.0" font-size="12" text-anchor="middle" font-weight="normal" class="tb">d-1</text>
<circle cx="532.2" cy="275.4" r="3.6" fill="#000"/>
<text x="532.2" y="265.0" font-size="12" text-anchor="middle" font-weight="normal" class="tb">d0</text>
<circle cx="576.3" cy="275.4" r="3.6" fill="#000"/>
<text x="576.3" y="265.0" font-size="12" text-anchor="middle" font-weight="normal" class="tb">d2</text>
<circle cx="661.7" cy="275.4" r="3.6" fill="#000"/>
<text x="661.7" y="265.0" font-size="12" text-anchor="middle" font-weight="normal" class="tb">d30</text>
<text x="350.6" y="292.1" font-size="10" class="tb">10<tspan font-size="6" dy="-4">7</tspan><tspan dy="4"> cfu</tspan></text>
<text x="350.6" y="304.2" font-size="10" text-anchor="start" font-weight="normal" class="tb">LM-OVA</text>
<text x="350.6" y="316.3" font-size="10" text-anchor="start" font-weight="normal" class="tb">LM-PLP</text>
<text x="397.5" y="292.1" font-size="10" text-anchor="start" font-weight="normal" class="tb">Splenocyte</text>
<text x="397.5" y="304.2" font-size="10" text-anchor="start" font-weight="normal" class="tb">harvest &amp;</text>
<text x="397.5" y="316.3" font-size="10" text-anchor="start" font-weight="normal" class="tb">culture w/</text>
<text x="397.5" y="328.4" font-size="10" text-anchor="start" font-weight="normal" class="tb">cognate</text>
<text x="397.5" y="340.5" font-size="10" text-anchor="start" font-weight="normal" class="tb">peptide</text>
<text x="397.5" y="352.6" font-size="10" text-anchor="start" font-weight="normal" class="tb">&amp; IL-2</text>
<text x="453.4" y="292.1" font-size="10" class="tb">10x10<tspan font-size="6" dy="-4">6</tspan></text>
<text x="453.4" y="304.2" font-size="10" text-anchor="start" font-weight="normal" class="tb">CD8 T cell</text>
<text x="453.4" y="316.3" font-size="10" text-anchor="start" font-weight="normal" class="tb">isolation &amp;</text>
<text x="453.4" y="328.4" font-size="10" text-anchor="start" font-weight="normal" class="tb">transfer i.v.</text>
<text x="534.6" y="292.1" font-size="10" text-anchor="middle" font-weight="normal" class="tb">PLP 178-191</text>
<text x="534.6" y="304.2" font-size="10" text-anchor="middle" font-weight="normal" class="tb">immunization</text>
<text x="534.6" y="316.3" font-size="10" text-anchor="middle" font-weight="normal" class="tb">Ptx</text>
<text x="577.6" y="292.1" font-size="10" text-anchor="middle" font-weight="normal" class="tb">Ptx</text>
<text x="622.7" y="292.1" font-size="10" text-anchor="middle" font-weight="normal" class="tb">Monitor clinical</text>
<text x="622.7" y="304.2" font-size="10" text-anchor="middle" font-weight="normal" class="tb">disease</text>
<text x="2.0" y="361.3" font-size="25" class="tb">C</text>
<line x1="69.2" y1="357.6" x2="69.2" y2="526.1" stroke-width="1.5"/>
<line x1="69.2" y1="525.4" x2="298.0" y2="525.4" stroke-width="1.5"/>
<line x1="65.2" y1="525.4" x2="69.2" y2="525.4" stroke-width="1.5"/>
<text x="63.5" y="530.3" font-size="13.5" text-anchor="end" font-weight="normal">0</text>
<line x1="65.2" y1="491.9" x2="69.2" y2="491.9" stroke-width="1.5"/>
<text x="63.5" y="496.8" font-size="13.5" text-anchor="end" font-weight="normal">1</text>
<line x1="65.2" y1="458.4" x2="69.2" y2="458.4" stroke-width="1.5"/>
<text x="63.5" y="463.3" font-size="13.5" text-anchor="end" font-weight="normal">2</text>
<line x1="65.2" y1="424.9" x2="69.2" y2="424.9" stroke-width="1.5"/>
<text x="63.5" y="429.8" font-size="13.5" text-anchor="end" font-weight="normal">3</text>
<line x1="65.2" y1="391.4" x2="69.2" y2="391.4" stroke-width="1.5"/>
<text x="63.5" y="396.3" font-size="13.5" text-anchor="end" font-weight="normal">4</text>
<line x1="65.2" y1="357.9" x2="69.2" y2="357.9" stroke-width="1.5"/>
<text x="63.5" y="362.8" font-size="13.5" text-anchor="end" font-weight="normal">5</text>
<line x1="76.4" y1="525.4" x2="76.4" y2="527.8" stroke-width="1.1"/>
<line x1="84.3" y1="525.4" x2="84.3" y2="527.8" stroke-width="1.1"/>
<line x1="92.1" y1="525.4" x2="92.1" y2="527.8" stroke-width="1.1"/>
<line x1="100.0" y1="525.4" x2="100.0" y2="527.8" stroke-width="1.1"/>
<line x1="107.8" y1="525.4" x2="107.8" y2="527.8" stroke-width="1.1"/>
<line x1="115.7" y1="525.4" x2="115.7" y2="527.8" stroke-width="1.1"/>
<line x1="123.6" y1="525.4" x2="123.6" y2="527.8" stroke-width="1.1"/>
<line x1="131.4" y1="525.4" x2="131.4" y2="527.8" stroke-width="1.1"/>
<line x1="139.3" y1="525.4" x2="139.3" y2="527.8" stroke-width="1.1"/>
<line x1="147.1" y1="525.4" x2="147.1" y2="527.8" stroke-width="1.1"/>
<line x1="155.0" y1="525.4" x2="155.0" y2="527.8" stroke-width="1.1"/>
<line x1="162.9" y1="525.4" x2="162.9" y2="527.8" stroke-width="1.1"/>
<line x1="170.7" y1="525.4" x2="170.7" y2="527.8" stroke-width="1.1"/>
<line x1="178.6" y1="525.4" x2="178.6" y2="527.8" stroke-width="1.1"/>
<line x1="186.4" y1="525.4" x2="186.4" y2="527.8" stroke-width="1.1"/>
<line x1="194.3" y1="525.4" x2="194.3" y2="527.8" stroke-width="1.1"/>
<line x1="202.2" y1="525.4" x2="202.2" y2="527.8" stroke-width="1.1"/>
<line x1="210.0" y1="525.4" x2="210.0" y2="527.8" stroke-width="1.1"/>
<line x1="217.9" y1="525.4" x2="217.9" y2="527.8" stroke-width="1.1"/>
<line x1="225.7" y1="525.4" x2="225.7" y2="527.8" stroke-width="1.1"/>
<line x1="233.6" y1="525.4" x2="233.6" y2="527.8" stroke-width="1.1"/>
<line x1="241.5" y1="525.4" x2="241.5" y2="527.8" stroke-width="1.1"/>
<line x1="249.3" y1="525.4" x2="249.3" y2="527.8" stroke-width="1.1"/>
<line x1="257.2" y1="525.4" x2="257.2" y2="527.8" stroke-width="1.1"/>
<line x1="265.0" y1="525.4" x2="265.0" y2="527.8" stroke-width="1.1"/>
<line x1="272.9" y1="525.4" x2="272.9" y2="527.8" stroke-width="1.1"/>
<line x1="280.8" y1="525.4" x2="280.8" y2="527.8" stroke-width="1.1"/>
<line x1="288.6" y1="525.4" x2="288.6" y2="527.8" stroke-width="1.1"/>
<line x1="296.5" y1="525.4" x2="296.5" y2="527.8" stroke-width="1.1"/>
<line x1="76.4" y1="525.4" x2="76.4" y2="529.4" stroke-width="1.5"/>
<text x="76.4" y="543.9" font-size="13.5" text-anchor="middle" font-weight="normal">0</text>
<line x1="115.7" y1="525.4" x2="115.7" y2="529.4" stroke-width="1.5"/>
<text x="115.7" y="543.9" font-size="13.5" text-anchor="middle" font-weight="normal">5</text>
<line x1="155.0" y1="525.4" x2="155.0" y2="529.4" stroke-width="1.5"/>
<text x="154.5" y="543.9" font-size="13.5" text-anchor="middle" font-weight="normal">10</text>
<line x1="194.3" y1="525.4" x2="194.3" y2="529.4" stroke-width="1.5"/>
<text x="193.8" y="543.9" font-size="13.5" text-anchor="middle" font-weight="normal">15</text>
<line x1="233.6" y1="525.4" x2="233.6" y2="529.4" stroke-width="1.5"/>
<text x="233.1" y="543.9" font-size="13.5" text-anchor="middle" font-weight="normal">20</text>
<line x1="272.9" y1="525.4" x2="272.9" y2="529.4" stroke-width="1.5"/>
<text x="272.4" y="543.9" font-size="13.5" text-anchor="middle" font-weight="normal">25</text>
<text x="190.9" y="558.1" font-size="16.3" text-anchor="middle" font-weight="normal" textLength="189.0" lengthAdjust="spacingAndGlyphs">Time post immunization (d)</text>
<text transform="translate(47.9,444.5) rotate(-90)" x="0" y="0" font-size="16.5" text-anchor="middle" textLength="189.0" lengthAdjust="spacingAndGlyphs">Mean Clinical Score ± SEM</text>
<circle cx="80.70" cy="353.30" r="3.70" fill="#fff" stroke="#000" stroke-width="1.4"/>
<line x1="77.00" y1="353.30" x2="84.40" y2="353.30" stroke-width="1.4"/>
<circle cx="80.70" cy="365.20" r="4.80" fill="#000"/>
<polygon points="80.70,375.39 84.95,382.67 76.45,382.67" fill="#fff" stroke="#000" stroke-width="1.4" stroke-linejoin="miter"/>
<line x1="75.9" y1="378.6" x2="85.5" y2="378.6" stroke-width="1.3"/>
<polygon points="80.70,387.04 85.45,395.18 75.95,395.18" fill="#000" stroke="#000" stroke-width="0.6"/>
<line x1="75.9" y1="391.1" x2="85.5" y2="391.1" stroke-width="1.3"/>
<text x="91.8" y="356.5" font-size="10.3" text-anchor="start" font-weight="normal" textLength="98.2" lengthAdjust="spacingAndGlyphs">LM-OVA Infection WT</text>
<text x="91.8" y="368.9" font-size="10.3" text-anchor="start" font-weight="normal" textLength="94.8" lengthAdjust="spacingAndGlyphs">LM-PLP Infection WT</text>
<text x="91.8" y="382.7" font-size="10.3" text-anchor="start" font-weight="normal" textLength="117.6" lengthAdjust="spacingAndGlyphs">LM-OVA Infection CD8KO</text>
<text x="91.8" y="395.1" font-size="10.3" text-anchor="start" font-weight="normal" textLength="115.8" lengthAdjust="spacingAndGlyphs">LM-PLP Infection CD8KO</text>
<line x1="306.7" y1="428.0" x2="306.7" y2="490.0" stroke-width="1.3" style="stroke:#555"/>
<text x="314.0" y="462.3" font-size="12.5" text-anchor="middle" font-weight="normal">*</text>
<polyline points="76.40,525.40 84.26,525.40 92.12,525.40 99.98,525.40 107.84,525.40 115.70,525.40 123.56,525.40 131.42,520.71 139.28,522.05 147.14,492.23 155.00,482.52 162.86,472.80 170.72,468.12 178.58,446.34 186.44,442.32 194.30,435.28 202.16,425.57 210.02,436.96 217.88,430.93 225.74,430.59 233.60,422.55 241.46,427.25 249.32,426.24 257.18,430.59 265.04,422.55 272.90,435.28 280.76,429.92 288.62,429.92 296.48,421.88" fill="none" stroke="#000" stroke-width="1.5"/>
<line x1="131.4" y1="517.4" x2="131.4" y2="524.1" stroke-width="1.5"/>
<line x1="127.3" y1="517.4" x2="135.5" y2="517.4" stroke-width="1.5"/>
<line x1="127.3" y1="524.1" x2="135.5" y2="524.1" stroke-width="1.5"/>
<line x1="139.3" y1="517.0" x2="139.3" y2="525.4" stroke-width="1.5"/>
<line x1="135.2" y1="517.0" x2="143.4" y2="517.0" stroke-width="1.5"/>
<line x1="147.1" y1="476.2" x2="147.1" y2="508.3" stroke-width="1.5"/>
<line x1="143.0" y1="476.2" x2="151.2" y2="476.2" stroke-width="1.5"/>
<line x1="143.0" y1="508.3" x2="151.2" y2="508.3" stroke-width="1.5"/>
<line x1="155.0" y1="467.4" x2="155.0" y2="497.6" stroke-width="1.5"/>
<line x1="150.9" y1="467.4" x2="159.1" y2="467.4" stroke-width="1.5"/>
<line x1="150.9" y1="497.6" x2="159.1" y2="497.6" stroke-width="1.5"/>
<line x1="162.9" y1="457.7" x2="162.9" y2="487.9" stroke-width="1.5"/>
<line x1="158.8" y1="457.7" x2="167.0" y2="457.7" stroke-width="1.5"/>
<line x1="158.8" y1="487.9" x2="167.0" y2="487.9" stroke-width="1.5"/>
<line x1="170.7" y1="453.0" x2="170.7" y2="483.2" stroke-width="1.5"/>
<line x1="166.6" y1="453.0" x2="174.8" y2="453.0" stroke-width="1.5"/>
<line x1="166.6" y1="483.2" x2="174.8" y2="483.2" stroke-width="1.5"/>
<line x1="178.6" y1="431.3" x2="178.6" y2="461.4" stroke-width="1.5"/>
<line x1="174.5" y1="431.3" x2="182.7" y2="431.3" stroke-width="1.5"/>
<line x1="174.5" y1="461.4" x2="182.7" y2="461.4" stroke-width="1.5"/>
<line x1="186.4" y1="427.2" x2="186.4" y2="457.4" stroke-width="1.5"/>
<line x1="182.3" y1="427.2" x2="190.5" y2="427.2" stroke-width="1.5"/>
<line x1="182.3" y1="457.4" x2="190.5" y2="457.4" stroke-width="1.5"/>
<line x1="194.3" y1="420.2" x2="194.3" y2="450.4" stroke-width="1.5"/>
<line x1="190.2" y1="420.2" x2="198.4" y2="420.2" stroke-width="1.5"/>
<line x1="190.2" y1="450.4" x2="198.4" y2="450.4" stroke-width="1.5"/>
<line x1="202.2" y1="410.5" x2="202.2" y2="440.6" stroke-width="1.5"/>
<line x1="198.1" y1="410.5" x2="206.3" y2="410.5" stroke-width="1.5"/>
<line x1="198.1" y1="440.6" x2="206.3" y2="440.6" stroke-width="1.5"/>
<line x1="210.0" y1="421.9" x2="210.0" y2="452.0" stroke-width="1.5"/>
<line x1="205.9" y1="421.9" x2="214.1" y2="421.9" stroke-width="1.5"/>
<line x1="205.9" y1="452.0" x2="214.1" y2="452.0" stroke-width="1.5"/>
<line x1="217.9" y1="415.9" x2="217.9" y2="446.0" stroke-width="1.5"/>
<line x1="213.8" y1="415.9" x2="222.0" y2="415.9" stroke-width="1.5"/>
<line x1="213.8" y1="446.0" x2="222.0" y2="446.0" stroke-width="1.5"/>
<line x1="225.7" y1="415.5" x2="225.7" y2="445.7" stroke-width="1.5"/>
<line x1="221.6" y1="415.5" x2="229.8" y2="415.5" stroke-width="1.5"/>
<line x1="221.6" y1="445.7" x2="229.8" y2="445.7" stroke-width="1.5"/>
<line x1="233.6" y1="407.5" x2="233.6" y2="437.6" stroke-width="1.5"/>
<line x1="229.5" y1="407.5" x2="237.7" y2="407.5" stroke-width="1.5"/>
<line x1="229.5" y1="437.6" x2="237.7" y2="437.6" stroke-width="1.5"/>
<line x1="241.5" y1="412.2" x2="241.5" y2="442.3" stroke-width="1.5"/>
<line x1="237.4" y1="412.2" x2="245.6" y2="412.2" stroke-width="1.5"/>
<line x1="237.4" y1="442.3" x2="245.6" y2="442.3" stroke-width="1.5"/>
<line x1="249.3" y1="411.2" x2="249.3" y2="441.3" stroke-width="1.5"/>
<line x1="245.2" y1="411.2" x2="253.4" y2="411.2" stroke-width="1.5"/>
<line x1="245.2" y1="441.3" x2="253.4" y2="441.3" stroke-width="1.5"/>
<line x1="257.2" y1="415.5" x2="257.2" y2="445.7" stroke-width="1.5"/>
<line x1="253.1" y1="415.5" x2="261.3" y2="415.5" stroke-width="1.5"/>
<line x1="253.1" y1="445.7" x2="261.3" y2="445.7" stroke-width="1.5"/>
<line x1="265.0" y1="407.5" x2="265.0" y2="437.6" stroke-width="1.5"/>
<line x1="260.9" y1="407.5" x2="269.1" y2="407.5" stroke-width="1.5"/>
<line x1="260.9" y1="437.6" x2="269.1" y2="437.6" stroke-width="1.5"/>
<line x1="272.9" y1="420.2" x2="272.9" y2="450.4" stroke-width="1.5"/>
<line x1="268.8" y1="420.2" x2="277.0" y2="420.2" stroke-width="1.5"/>
<line x1="268.8" y1="450.4" x2="277.0" y2="450.4" stroke-width="1.5"/>
<line x1="280.8" y1="414.8" x2="280.8" y2="445.0" stroke-width="1.5"/>
<line x1="276.7" y1="414.8" x2="284.9" y2="414.8" stroke-width="1.5"/>
<line x1="276.7" y1="445.0" x2="284.9" y2="445.0" stroke-width="1.5"/>
<line x1="288.6" y1="414.8" x2="288.6" y2="445.0" stroke-width="1.5"/>
<line x1="284.5" y1="414.8" x2="292.7" y2="414.8" stroke-width="1.5"/>
<line x1="284.5" y1="445.0" x2="292.7" y2="445.0" stroke-width="1.5"/>
<line x1="296.5" y1="406.8" x2="296.5" y2="437.0" stroke-width="1.5"/>
<line x1="292.4" y1="406.8" x2="300.6" y2="406.8" stroke-width="1.5"/>
<line x1="292.4" y1="437.0" x2="300.6" y2="437.0" stroke-width="1.5"/>
<polyline points="76.40,525.40 84.26,525.40 92.12,525.40 99.98,525.40 107.84,525.40 115.70,525.40 123.56,525.40 131.42,525.40 139.28,522.05 147.14,502.95 155.00,488.55 162.86,478.83 170.72,456.72 178.58,455.72 186.44,458.40 194.30,443.32 202.16,438.30 210.02,428.25 217.88,426.57 225.74,433.27 233.60,426.57 241.46,429.92 249.32,426.57 257.18,428.25 265.04,423.22 272.90,429.92 280.76,428.25 288.62,426.57 296.48,424.90" fill="none" stroke="#000" stroke-width="1.5"/>
<line x1="139.3" y1="518.7" x2="139.3" y2="525.4" stroke-width="1.5"/>
<line x1="135.2" y1="518.7" x2="143.4" y2="518.7" stroke-width="1.5"/>
<line x1="147.1" y1="491.2" x2="147.1" y2="514.7" stroke-width="1.5"/>
<line x1="143.0" y1="491.2" x2="151.2" y2="491.2" stroke-width="1.5"/>
<line x1="143.0" y1="514.7" x2="151.2" y2="514.7" stroke-width="1.5"/>
<line x1="155.0" y1="475.1" x2="155.0" y2="501.9" stroke-width="1.5"/>
<line x1="150.9" y1="475.1" x2="159.1" y2="475.1" stroke-width="1.5"/>
<line x1="150.9" y1="501.9" x2="159.1" y2="501.9" stroke-width="1.5"/>
<line x1="162.9" y1="465.4" x2="162.9" y2="492.2" stroke-width="1.5"/>
<line x1="158.8" y1="465.4" x2="167.0" y2="465.4" stroke-width="1.5"/>
<line x1="158.8" y1="492.2" x2="167.0" y2="492.2" stroke-width="1.5"/>
<line x1="170.7" y1="443.3" x2="170.7" y2="470.1" stroke-width="1.5"/>
<line x1="166.6" y1="443.3" x2="174.8" y2="443.3" stroke-width="1.5"/>
<line x1="166.6" y1="470.1" x2="174.8" y2="470.1" stroke-width="1.5"/>
<line x1="178.6" y1="442.3" x2="178.6" y2="469.1" stroke-width="1.5"/>
<line x1="174.5" y1="442.3" x2="182.7" y2="442.3" stroke-width="1.5"/>
<line x1="174.5" y1="469.1" x2="182.7" y2="469.1" stroke-width="1.5"/>
<line x1="186.4" y1="445.0" x2="186.4" y2="471.8" stroke-width="1.5"/>
<line x1="182.3" y1="445.0" x2="190.5" y2="445.0" stroke-width="1.5"/>
<line x1="182.3" y1="471.8" x2="190.5" y2="471.8" stroke-width="1.5"/>
<line x1="194.3" y1="429.9" x2="194.3" y2="456.7" stroke-width="1.5"/>
<line x1="190.2" y1="429.9" x2="198.4" y2="429.9" stroke-width="1.5"/>
<line x1="190.2" y1="456.7" x2="198.4" y2="456.7" stroke-width="1.5"/>
<line x1="202.2" y1="424.9" x2="202.2" y2="451.7" stroke-width="1.5"/>
<line x1="198.1" y1="424.9" x2="206.3" y2="424.9" stroke-width="1.5"/>
<line x1="198.1" y1="451.7" x2="206.3" y2="451.7" stroke-width="1.5"/>
<line x1="210.0" y1="414.8" x2="210.0" y2="441.6" stroke-width="1.5"/>
<line x1="205.9" y1="414.8" x2="214.1" y2="414.8" stroke-width="1.5"/>
<line x1="205.9" y1="441.6" x2="214.1" y2="441.6" stroke-width="1.5"/>
<line x1="217.9" y1="413.2" x2="217.9" y2="440.0" stroke-width="1.5"/>
<line x1="213.8" y1="413.2" x2="222.0" y2="413.2" stroke-width="1.5"/>
<line x1="213.8" y1="440.0" x2="222.0" y2="440.0" stroke-width="1.5"/>
<line x1="225.7" y1="419.9" x2="225.7" y2="446.7" stroke-width="1.5"/>
<line x1="221.6" y1="419.9" x2="229.8" y2="419.9" stroke-width="1.5"/>
<line x1="221.6" y1="446.7" x2="229.8" y2="446.7" stroke-width="1.5"/>
<line x1="233.6" y1="413.2" x2="233.6" y2="440.0" stroke-width="1.5"/>
<line x1="229.5" y1="413.2" x2="237.7" y2="413.2" stroke-width="1.5"/>
<line x1="229.5" y1="440.0" x2="237.7" y2="440.0" stroke-width="1.5"/>
<line x1="241.5" y1="416.5" x2="241.5" y2="443.3" stroke-width="1.5"/>
<line x1="237.4" y1="416.5" x2="245.6" y2="416.5" stroke-width="1.5"/>
<line x1="237.4" y1="443.3" x2="245.6" y2="443.3" stroke-width="1.5"/>
<line x1="249.3" y1="413.2" x2="249.3" y2="440.0" stroke-width="1.5"/>
<line x1="245.2" y1="413.2" x2="253.4" y2="413.2" stroke-width="1.5"/>
<line x1="245.2" y1="440.0" x2="253.4" y2="440.0" stroke-width="1.5"/>
<line x1="257.2" y1="414.8" x2="257.2" y2="441.6" stroke-width="1.5"/>
<line x1="253.1" y1="414.8" x2="261.3" y2="414.8" stroke-width="1.5"/>
<line x1="253.1" y1="441.6" x2="261.3" y2="441.6" stroke-width="1.5"/>
<line x1="265.0" y1="409.8" x2="265.0" y2="436.6" stroke-width="1.5"/>
<line x1="260.9" y1="409.8" x2="269.1" y2="409.8" stroke-width="1.5"/>
<line x1="260.9" y1="436.6" x2="269.1" y2="436.6" stroke-width="1.5"/>
<line x1="272.9" y1="416.5" x2="272.9" y2="443.3" stroke-width="1.5"/>
<line x1="268.8" y1="416.5" x2="277.0" y2="416.5" stroke-width="1.5"/>
<line x1="268.8" y1="443.3" x2="277.0" y2="443.3" stroke-width="1.5"/>
<line x1="280.8" y1="414.8" x2="280.8" y2="441.6" stroke-width="1.5"/>
<line x1="276.7" y1="414.8" x2="284.9" y2="414.8" stroke-width="1.5"/>
<line x1="276.7" y1="441.6" x2="284.9" y2="441.6" stroke-width="1.5"/>
<line x1="288.6" y1="413.2" x2="288.6" y2="440.0" stroke-width="1.5"/>
<line x1="284.5" y1="413.2" x2="292.7" y2="413.2" stroke-width="1.5"/>
<line x1="284.5" y1="440.0" x2="292.7" y2="440.0" stroke-width="1.5"/>
<line x1="296.5" y1="411.5" x2="296.5" y2="438.3" stroke-width="1.5"/>
<line x1="292.4" y1="411.5" x2="300.6" y2="411.5" stroke-width="1.5"/>
<line x1="292.4" y1="438.3" x2="300.6" y2="438.3" stroke-width="1.5"/>
<polyline points="76.40,525.40 84.26,525.40 92.12,525.40 99.98,525.40 107.84,525.40 115.70,525.40 123.56,525.40 131.42,525.40 139.28,522.05 147.14,515.35 155.00,500.27 162.86,492.90 170.72,476.15 178.58,462.75 186.44,447.34 194.30,426.57 202.16,413.84 210.02,408.82 217.88,406.47 225.74,410.83 233.60,411.16 241.46,408.48 249.32,417.53 257.18,420.88 265.04,414.85 272.90,421.88 280.76,421.88 288.62,421.88 296.48,419.54" fill="none" stroke="#000" stroke-width="1.5"/>
<line x1="139.3" y1="518.7" x2="139.3" y2="525.4" stroke-width="1.5"/>
<line x1="135.2" y1="518.7" x2="143.4" y2="518.7" stroke-width="1.5"/>
<line x1="147.1" y1="508.6" x2="147.1" y2="522.0" stroke-width="1.5"/>
<line x1="143.0" y1="508.6" x2="151.2" y2="508.6" stroke-width="1.5"/>
<line x1="143.0" y1="522.0" x2="151.2" y2="522.0" stroke-width="1.5"/>
<line x1="155.0" y1="491.9" x2="155.0" y2="508.6" stroke-width="1.5"/>
<line x1="150.9" y1="491.9" x2="159.1" y2="491.9" stroke-width="1.5"/>
<line x1="150.9" y1="508.6" x2="159.1" y2="508.6" stroke-width="1.5"/>
<line x1="162.9" y1="482.9" x2="162.9" y2="503.0" stroke-width="1.5"/>
<line x1="158.8" y1="482.9" x2="167.0" y2="482.9" stroke-width="1.5"/>
<line x1="158.8" y1="503.0" x2="167.0" y2="503.0" stroke-width="1.5"/>
<line x1="170.7" y1="466.1" x2="170.7" y2="486.2" stroke-width="1.5"/>
<line x1="166.6" y1="466.1" x2="174.8" y2="466.1" stroke-width="1.5"/>
<line x1="166.6" y1="486.2" x2="174.8" y2="486.2" stroke-width="1.5"/>
<line x1="178.6" y1="452.7" x2="178.6" y2="472.8" stroke-width="1.5"/>
<line x1="174.5" y1="452.7" x2="182.7" y2="452.7" stroke-width="1.5"/>
<line x1="174.5" y1="472.8" x2="182.7" y2="472.8" stroke-width="1.5"/>
<line x1="186.4" y1="437.3" x2="186.4" y2="457.4" stroke-width="1.5"/>
<line x1="182.3" y1="437.3" x2="190.5" y2="437.3" stroke-width="1.5"/>
<line x1="182.3" y1="457.4" x2="190.5" y2="457.4" stroke-width="1.5"/>
<line x1="194.3" y1="416.5" x2="194.3" y2="436.6" stroke-width="1.5"/>
<line x1="190.2" y1="416.5" x2="198.4" y2="416.5" stroke-width="1.5"/>
<line x1="190.2" y1="436.6" x2="198.4" y2="436.6" stroke-width="1.5"/>
<line x1="202.2" y1="403.8" x2="202.2" y2="423.9" stroke-width="1.5"/>
<line x1="198.1" y1="403.8" x2="206.3" y2="403.8" stroke-width="1.5"/>
<line x1="198.1" y1="423.9" x2="206.3" y2="423.9" stroke-width="1.5"/>
<line x1="210.0" y1="398.8" x2="210.0" y2="418.9" stroke-width="1.5"/>
<line x1="205.9" y1="398.8" x2="214.1" y2="398.8" stroke-width="1.5"/>
<line x1="205.9" y1="418.9" x2="214.1" y2="418.9" stroke-width="1.5"/>
<line x1="217.9" y1="396.4" x2="217.9" y2="416.5" stroke-width="1.5"/>
<line x1="213.8" y1="396.4" x2="222.0" y2="396.4" stroke-width="1.5"/>
<line x1="213.8" y1="416.5" x2="222.0" y2="416.5" stroke-width="1.5"/>
<line x1="225.7" y1="399.1" x2="225.7" y2="422.6" stroke-width="1.5"/>
<line x1="221.6" y1="399.1" x2="229.8" y2="399.1" stroke-width="1.5"/>
<line x1="221.6" y1="422.6" x2="229.8" y2="422.6" stroke-width="1.5"/>
<line x1="233.6" y1="399.4" x2="233.6" y2="422.9" stroke-width="1.5"/>
<line x1="229.5" y1="399.4" x2="237.7" y2="399.4" stroke-width="1.5"/>
<line x1="229.5" y1="422.9" x2="237.7" y2="422.9" stroke-width="1.5"/>
<line x1="241.5" y1="396.8" x2="241.5" y2="420.2" stroke-width="1.5"/>
<line x1="237.4" y1="396.8" x2="245.6" y2="396.8" stroke-width="1.5"/>
<line x1="237.4" y1="420.2" x2="245.6" y2="420.2" stroke-width="1.5"/>
<line x1="249.3" y1="407.5" x2="249.3" y2="427.6" stroke-width="1.5"/>
<line x1="245.2" y1="407.5" x2="253.4" y2="407.5" stroke-width="1.5"/>
<line x1="245.2" y1="427.6" x2="253.4" y2="427.6" stroke-width="1.5"/>
<line x1="257.2" y1="410.8" x2="257.2" y2="430.9" stroke-width="1.5"/>
<line x1="253.1" y1="410.8" x2="261.3" y2="410.8" stroke-width="1.5"/>
<line x1="253.1" y1="430.9" x2="261.3" y2="430.9" stroke-width="1.5"/>
<line x1="265.0" y1="404.8" x2="265.0" y2="424.9" stroke-width="1.5"/>
<line x1="260.9" y1="404.8" x2="269.1" y2="404.8" stroke-width="1.5"/>
<line x1="260.9" y1="424.9" x2="269.1" y2="424.9" stroke-width="1.5"/>
<line x1="272.9" y1="411.8" x2="272.9" y2="431.9" stroke-width="1.5"/>
<line x1="268.8" y1="411.8" x2="277.0" y2="411.8" stroke-width="1.5"/>
<line x1="268.8" y1="431.9" x2="277.0" y2="431.9" stroke-width="1.5"/>
<line x1="280.8" y1="411.8" x2="280.8" y2="431.9" stroke-width="1.5"/>
<line x1="276.7" y1="411.8" x2="284.9" y2="411.8" stroke-width="1.5"/>
<line x1="276.7" y1="431.9" x2="284.9" y2="431.9" stroke-width="1.5"/>
<line x1="288.6" y1="411.8" x2="288.6" y2="431.9" stroke-width="1.5"/>
<line x1="284.5" y1="411.8" x2="292.7" y2="411.8" stroke-width="1.5"/>
<line x1="284.5" y1="431.9" x2="292.7" y2="431.9" stroke-width="1.5"/>
<line x1="296.5" y1="409.5" x2="296.5" y2="429.6" stroke-width="1.5"/>
<line x1="292.4" y1="409.5" x2="300.6" y2="409.5" stroke-width="1.5"/>
<line x1="292.4" y1="429.6" x2="300.6" y2="429.6" stroke-width="1.5"/>
<polyline points="76.40,525.40 84.26,525.40 92.12,525.40 99.98,525.40 107.84,525.40 115.70,525.40 123.56,525.40 131.42,525.40 139.28,520.71 147.14,516.36 155.00,508.98 162.86,501.28 170.72,493.91 178.58,499.27 186.44,493.91 194.30,488.55 202.16,483.19 210.02,491.23 217.88,491.23 225.74,488.55 233.60,481.51 241.46,483.86 249.32,481.51 257.18,476.15 265.04,478.83 272.90,478.83 280.76,483.52 288.62,486.54 296.48,491.56" fill="none" stroke="#000" stroke-width="1.5"/>
<line x1="139.3" y1="517.4" x2="139.3" y2="524.1" stroke-width="1.5"/>
<line x1="135.2" y1="517.4" x2="143.4" y2="517.4" stroke-width="1.5"/>
<line x1="135.2" y1="524.1" x2="143.4" y2="524.1" stroke-width="1.5"/>
<line x1="147.1" y1="511.3" x2="147.1" y2="521.4" stroke-width="1.5"/>
<line x1="143.0" y1="511.3" x2="151.2" y2="511.3" stroke-width="1.5"/>
<line x1="143.0" y1="521.4" x2="151.2" y2="521.4" stroke-width="1.5"/>
<line x1="155.0" y1="504.0" x2="155.0" y2="514.0" stroke-width="1.5"/>
<line x1="150.9" y1="504.0" x2="159.1" y2="504.0" stroke-width="1.5"/>
<line x1="150.9" y1="514.0" x2="159.1" y2="514.0" stroke-width="1.5"/>
<line x1="162.9" y1="496.3" x2="162.9" y2="506.3" stroke-width="1.5"/>
<line x1="158.8" y1="496.3" x2="167.0" y2="496.3" stroke-width="1.5"/>
<line x1="158.8" y1="506.3" x2="167.0" y2="506.3" stroke-width="1.5"/>
<line x1="170.7" y1="488.9" x2="170.7" y2="498.9" stroke-width="1.5"/>
<line x1="166.6" y1="488.9" x2="174.8" y2="488.9" stroke-width="1.5"/>
<line x1="166.6" y1="498.9" x2="174.8" y2="498.9" stroke-width="1.5"/>
<line x1="178.6" y1="494.2" x2="178.6" y2="504.3" stroke-width="1.5"/>
<line x1="174.5" y1="494.2" x2="182.7" y2="494.2" stroke-width="1.5"/>
<line x1="174.5" y1="504.3" x2="182.7" y2="504.3" stroke-width="1.5"/>
<line x1="186.4" y1="488.9" x2="186.4" y2="498.9" stroke-width="1.5"/>
<line x1="182.3" y1="488.9" x2="190.5" y2="488.9" stroke-width="1.5"/>
<line x1="182.3" y1="498.9" x2="190.5" y2="498.9" stroke-width="1.5"/>
<line x1="194.3" y1="483.5" x2="194.3" y2="493.6" stroke-width="1.5"/>
<line x1="190.2" y1="483.5" x2="198.4" y2="483.5" stroke-width="1.5"/>
<line x1="190.2" y1="493.6" x2="198.4" y2="493.6" stroke-width="1.5"/>
<line x1="202.2" y1="478.2" x2="202.2" y2="488.2" stroke-width="1.5"/>
<line x1="198.1" y1="478.2" x2="206.3" y2="478.2" stroke-width="1.5"/>
<line x1="198.1" y1="488.2" x2="206.3" y2="488.2" stroke-width="1.5"/>
<line x1="210.0" y1="487.2" x2="210.0" y2="495.2" stroke-width="1.5"/>
<line x1="205.9" y1="487.2" x2="214.1" y2="487.2" stroke-width="1.5"/>
<line x1="205.9" y1="495.2" x2="214.1" y2="495.2" stroke-width="1.5"/>
<line x1="217.9" y1="487.2" x2="217.9" y2="495.2" stroke-width="1.5"/>
<line x1="213.8" y1="487.2" x2="222.0" y2="487.2" stroke-width="1.5"/>
<line x1="213.8" y1="495.2" x2="222.0" y2="495.2" stroke-width="1.5"/>
<line x1="225.7" y1="484.5" x2="225.7" y2="492.6" stroke-width="1.5"/>
<line x1="221.6" y1="484.5" x2="229.8" y2="484.5" stroke-width="1.5"/>
<line x1="221.6" y1="492.6" x2="229.8" y2="492.6" stroke-width="1.5"/>
<line x1="233.6" y1="477.5" x2="233.6" y2="485.5" stroke-width="1.5"/>
<line x1="229.5" y1="477.5" x2="237.7" y2="477.5" stroke-width="1.5"/>
<line x1="229.5" y1="485.5" x2="237.7" y2="485.5" stroke-width="1.5"/>
<line x1="241.5" y1="479.8" x2="241.5" y2="487.9" stroke-width="1.5"/>
<line x1="237.4" y1="479.8" x2="245.6" y2="479.8" stroke-width="1.5"/>
<line x1="237.4" y1="487.9" x2="245.6" y2="487.9" stroke-width="1.5"/>
<line x1="249.3" y1="477.5" x2="249.3" y2="485.5" stroke-width="1.5"/>
<line x1="245.2" y1="477.5" x2="253.4" y2="477.5" stroke-width="1.5"/>
<line x1="245.2" y1="485.5" x2="253.4" y2="485.5" stroke-width="1.5"/>
<line x1="257.2" y1="472.1" x2="257.2" y2="480.2" stroke-width="1.5"/>
<line x1="253.1" y1="472.1" x2="261.3" y2="472.1" stroke-width="1.5"/>
<line x1="253.1" y1="480.2" x2="261.3" y2="480.2" stroke-width="1.5"/>
<line x1="265.0" y1="474.8" x2="265.0" y2="482.9" stroke-width="1.5"/>
<line x1="260.9" y1="474.8" x2="269.1" y2="474.8" stroke-width="1.5"/>
<line x1="260.9" y1="482.9" x2="269.1" y2="482.9" stroke-width="1.5"/>
<line x1="272.9" y1="474.8" x2="272.9" y2="482.9" stroke-width="1.5"/>
<line x1="268.8" y1="474.8" x2="277.0" y2="474.8" stroke-width="1.5"/>
<line x1="268.8" y1="482.9" x2="277.0" y2="482.9" stroke-width="1.5"/>
<line x1="280.8" y1="479.5" x2="280.8" y2="487.5" stroke-width="1.5"/>
<line x1="276.7" y1="479.5" x2="284.9" y2="479.5" stroke-width="1.5"/>
<line x1="276.7" y1="487.5" x2="284.9" y2="487.5" stroke-width="1.5"/>
<line x1="288.6" y1="482.5" x2="288.6" y2="490.6" stroke-width="1.5"/>
<line x1="284.5" y1="482.5" x2="292.7" y2="482.5" stroke-width="1.5"/>
<line x1="284.5" y1="490.6" x2="292.7" y2="490.6" stroke-width="1.5"/>
<line x1="296.5" y1="487.5" x2="296.5" y2="495.6" stroke-width="1.5"/>
<line x1="292.4" y1="487.5" x2="300.6" y2="487.5" stroke-width="1.5"/>
<line x1="292.4" y1="495.6" x2="300.6" y2="495.6" stroke-width="1.5"/>
<polygon points="76.40,521.48 80.78,528.97 72.03,528.97" fill="#fff" stroke="#000" stroke-width="1.25" stroke-linejoin="miter"/>
<polygon points="84.26,521.48 88.64,528.97 79.89,528.97" fill="#fff" stroke="#000" stroke-width="1.25" stroke-linejoin="miter"/>
<polygon points="92.12,521.48 96.50,528.97 87.75,528.97" fill="#fff" stroke="#000" stroke-width="1.25" stroke-linejoin="miter"/>
<polygon points="99.98,521.48 104.36,528.97 95.61,528.97" fill="#fff" stroke="#000" stroke-width="1.25" stroke-linejoin="miter"/>
<polygon points="107.84,521.48 112.22,528.97 103.47,528.97" fill="#fff" stroke="#000" stroke-width="1.25" stroke-linejoin="miter"/>
<polygon points="115.70,521.48 120.08,528.97 111.33,528.97" fill="#fff" stroke="#000" stroke-width="1.25" stroke-linejoin="miter"/>
<polygon points="123.56,521.48 127.94,528.97 119.19,528.97" fill="#fff" stroke="#000" stroke-width="1.25" stroke-linejoin="miter"/>
<polygon points="131.42,521.48 135.80,528.97 127.05,528.97" fill="#fff" stroke="#000" stroke-width="1.25" stroke-linejoin="miter"/>
<polygon points="139.28,518.13 143.66,525.62 134.91,525.62" fill="#fff" stroke="#000" stroke-width="1.25" stroke-linejoin="miter"/>
<polygon points="147.14,499.03 151.52,506.52 142.77,506.52" fill="#fff" stroke="#000" stroke-width="1.25" stroke-linejoin="miter"/>
<polygon points="155.00,484.63 159.38,492.12 150.62,492.12" fill="#fff" stroke="#000" stroke-width="1.25" stroke-linejoin="miter"/>
<polygon points="162.86,474.91 167.24,482.40 158.49,482.40" fill="#fff" stroke="#000" stroke-width="1.25" stroke-linejoin="miter"/>
<polygon points="170.72,452.80 175.10,460.29 166.35,460.29" fill="#fff" stroke="#000" stroke-width="1.25" stroke-linejoin="miter"/>
<polygon points="178.58,451.80 182.96,459.29 174.21,459.29" fill="#fff" stroke="#000" stroke-width="1.25" stroke-linejoin="miter"/>
<polygon points="186.44,454.48 190.81,461.97 182.06,461.97" fill="#fff" stroke="#000" stroke-width="1.25" stroke-linejoin="miter"/>
<polygon points="194.30,439.40 198.68,446.89 189.93,446.89" fill="#fff" stroke="#000" stroke-width="1.25" stroke-linejoin="miter"/>
<polygon points="202.16,434.38 206.54,441.87 197.79,441.87" fill="#fff" stroke="#000" stroke-width="1.25" stroke-linejoin="miter"/>
<polygon points="210.02,424.33 214.40,431.82 205.65,431.82" fill="#fff" stroke="#000" stroke-width="1.25" stroke-linejoin="miter"/>
<polygon points="217.88,422.65 222.26,430.14 213.51,430.14" fill="#fff" stroke="#000" stroke-width="1.25" stroke-linejoin="miter"/>
<polygon points="225.74,429.35 230.12,436.84 221.37,436.84" fill="#fff" stroke="#000" stroke-width="1.25" stroke-linejoin="miter"/>
<polygon points="233.60,422.65 237.98,430.14 229.23,430.14" fill="#fff" stroke="#000" stroke-width="1.25" stroke-linejoin="miter"/>
<polygon points="241.46,426.00 245.84,433.49 237.09,433.49" fill="#fff" stroke="#000" stroke-width="1.25" stroke-linejoin="miter"/>
<polygon points="249.32,422.65 253.70,430.14 244.95,430.14" fill="#fff" stroke="#000" stroke-width="1.25" stroke-linejoin="miter"/>
<polygon points="257.18,424.33 261.56,431.82 252.81,431.82" fill="#fff" stroke="#000" stroke-width="1.25" stroke-linejoin="miter"/>
<polygon points="265.04,419.30 269.42,426.79 260.67,426.79" fill="#fff" stroke="#000" stroke-width="1.25" stroke-linejoin="miter"/>
<polygon points="272.90,426.00 277.27,433.49 268.52,433.49" fill="#fff" stroke="#000" stroke-width="1.25" stroke-linejoin="miter"/>
<polygon points="280.76,424.33 285.13,431.82 276.38,431.82" fill="#fff" stroke="#000" stroke-width="1.25" stroke-linejoin="miter"/>
<polygon points="288.62,422.65 293.00,430.14 284.25,430.14" fill="#fff" stroke="#000" stroke-width="1.25" stroke-linejoin="miter"/>
<polygon points="296.48,420.98 300.86,428.47 292.11,428.47" fill="#fff" stroke="#000" stroke-width="1.25" stroke-linejoin="miter"/>
<polygon points="76.40,521.37 80.90,529.07 71.90,529.07" fill="#000" stroke="#000" stroke-width="0.6"/>
<polygon points="84.26,521.37 88.76,529.07 79.76,529.07" fill="#000" stroke="#000" stroke-width="0.6"/>
<polygon points="92.12,521.37 96.62,529.07 87.62,529.07" fill="#000" stroke="#000" stroke-width="0.6"/>
<polygon points="99.98,521.37 104.48,529.07 95.48,529.07" fill="#000" stroke="#000" stroke-width="0.6"/>
<polygon points="107.84,521.37 112.34,529.07 103.34,529.07" fill="#000" stroke="#000" stroke-width="0.6"/>
<polygon points="115.70,521.37 120.20,529.07 111.20,529.07" fill="#000" stroke="#000" stroke-width="0.6"/>
<polygon points="123.56,521.37 128.06,529.07 119.06,529.07" fill="#000" stroke="#000" stroke-width="0.6"/>
<polygon points="131.42,516.68 135.92,524.38 126.92,524.38" fill="#000" stroke="#000" stroke-width="0.6"/>
<polygon points="139.28,518.02 143.78,525.72 134.78,525.72" fill="#000" stroke="#000" stroke-width="0.6"/>
<polygon points="147.14,488.20 151.64,495.91 142.64,495.91" fill="#000" stroke="#000" stroke-width="0.6"/>
<polygon points="155.00,478.49 159.50,486.19 150.50,486.19" fill="#000" stroke="#000" stroke-width="0.6"/>
<polygon points="162.86,468.77 167.36,476.48 158.36,476.48" fill="#000" stroke="#000" stroke-width="0.6"/>
<polygon points="170.72,464.08 175.22,471.79 166.22,471.79" fill="#000" stroke="#000" stroke-width="0.6"/>
<polygon points="178.58,442.31 183.08,450.01 174.08,450.01" fill="#000" stroke="#000" stroke-width="0.6"/>
<polygon points="186.44,438.29 190.94,445.99 181.94,445.99" fill="#000" stroke="#000" stroke-width="0.6"/>
<polygon points="194.30,431.25 198.80,438.96 189.80,438.96" fill="#000" stroke="#000" stroke-width="0.6"/>
<polygon points="202.16,421.54 206.66,429.24 197.66,429.24" fill="#000" stroke="#000" stroke-width="0.6"/>
<polygon points="210.02,432.93 214.52,440.63 205.52,440.63" fill="#000" stroke="#000" stroke-width="0.6"/>
<polygon points="217.88,426.90 222.38,434.60 213.38,434.60" fill="#000" stroke="#000" stroke-width="0.6"/>
<polygon points="225.74,426.56 230.24,434.27 221.24,434.27" fill="#000" stroke="#000" stroke-width="0.6"/>
<polygon points="233.60,418.52 238.10,426.23 229.10,426.23" fill="#000" stroke="#000" stroke-width="0.6"/>
<polygon points="241.46,423.21 245.96,430.92 236.96,430.92" fill="#000" stroke="#000" stroke-width="0.6"/>
<polygon points="249.32,422.21 253.82,429.91 244.82,429.91" fill="#000" stroke="#000" stroke-width="0.6"/>
<polygon points="257.18,426.56 261.68,434.27 252.68,434.27" fill="#000" stroke="#000" stroke-width="0.6"/>
<polygon points="265.04,418.52 269.54,426.23 260.54,426.23" fill="#000" stroke="#000" stroke-width="0.6"/>
<polygon points="272.90,431.25 277.40,438.96 268.40,438.96" fill="#000" stroke="#000" stroke-width="0.6"/>
<polygon points="280.76,425.89 285.26,433.60 276.26,433.60" fill="#000" stroke="#000" stroke-width="0.6"/>
<polygon points="288.62,425.89 293.12,433.60 284.12,433.60" fill="#000" stroke="#000" stroke-width="0.6"/>
<polygon points="296.48,417.85 300.98,425.56 291.98,425.56" fill="#000" stroke="#000" stroke-width="0.6"/>
<circle cx="76.40" cy="525.40" r="3.45" fill="#fff" stroke="#000" stroke-width="1.25"/>
<circle cx="84.26" cy="525.40" r="3.45" fill="#fff" stroke="#000" stroke-width="1.25"/>
<circle cx="92.12" cy="525.40" r="3.45" fill="#fff" stroke="#000" stroke-width="1.25"/>
<circle cx="99.98" cy="525.40" r="3.45" fill="#fff" stroke="#000" stroke-width="1.25"/>
<circle cx="107.84" cy="525.40" r="3.45" fill="#fff" stroke="#000" stroke-width="1.25"/>
<circle cx="115.70" cy="525.40" r="3.45" fill="#fff" stroke="#000" stroke-width="1.25"/>
<circle cx="123.56" cy="525.40" r="3.45" fill="#fff" stroke="#000" stroke-width="1.25"/>
<circle cx="131.42" cy="525.40" r="3.45" fill="#fff" stroke="#000" stroke-width="1.25"/>
<circle cx="139.28" cy="522.05" r="3.45" fill="#fff" stroke="#000" stroke-width="1.25"/>
<circle cx="147.14" cy="515.35" r="3.45" fill="#fff" stroke="#000" stroke-width="1.25"/>
<circle cx="155.00" cy="500.27" r="3.45" fill="#fff" stroke="#000" stroke-width="1.25"/>
<circle cx="162.86" cy="492.90" r="3.45" fill="#fff" stroke="#000" stroke-width="1.25"/>
<circle cx="170.72" cy="476.15" r="3.45" fill="#fff" stroke="#000" stroke-width="1.25"/>
<circle cx="178.58" cy="462.75" r="3.45" fill="#fff" stroke="#000" stroke-width="1.25"/>
<circle cx="186.44" cy="447.34" r="3.45" fill="#fff" stroke="#000" stroke-width="1.25"/>
<circle cx="194.30" cy="426.57" r="3.45" fill="#fff" stroke="#000" stroke-width="1.25"/>
<circle cx="202.16" cy="413.84" r="3.45" fill="#fff" stroke="#000" stroke-width="1.25"/>
<circle cx="210.02" cy="408.82" r="3.45" fill="#fff" stroke="#000" stroke-width="1.25"/>
<circle cx="217.88" cy="406.47" r="3.45" fill="#fff" stroke="#000" stroke-width="1.25"/>
<circle cx="225.74" cy="410.83" r="3.45" fill="#fff" stroke="#000" stroke-width="1.25"/>
<circle cx="233.60" cy="411.16" r="3.45" fill="#fff" stroke="#000" stroke-width="1.25"/>
<circle cx="241.46" cy="408.48" r="3.45" fill="#fff" stroke="#000" stroke-width="1.25"/>
<circle cx="249.32" cy="417.53" r="3.45" fill="#fff" stroke="#000" stroke-width="1.25"/>
<circle cx="257.18" cy="420.88" r="3.45" fill="#fff" stroke="#000" stroke-width="1.25"/>
<circle cx="265.04" cy="414.85" r="3.45" fill="#fff" stroke="#000" stroke-width="1.25"/>
<circle cx="272.90" cy="421.88" r="3.45" fill="#fff" stroke="#000" stroke-width="1.25"/>
<circle cx="280.76" cy="421.88" r="3.45" fill="#fff" stroke="#000" stroke-width="1.25"/>
<circle cx="288.62" cy="421.88" r="3.45" fill="#fff" stroke="#000" stroke-width="1.25"/>
<circle cx="296.48" cy="419.54" r="3.45" fill="#fff" stroke="#000" stroke-width="1.25"/>
<polyline points="76.40,525.40 84.26,525.40 92.12,525.40 99.98,525.40 107.84,525.40 115.70,525.40 123.56,525.40 131.42,525.40 139.28,522.05 147.14,515.35 155.00,500.27 162.86,492.90 170.72,476.15 178.58,462.75 186.44,447.34 194.30,426.57 202.16,413.84 210.02,408.82 217.88,406.47 225.74,410.83 233.60,411.16 241.46,408.48 249.32,417.53 257.18,420.88 265.04,414.85 272.90,421.88 280.76,421.88 288.62,421.88 296.48,419.54" fill="none" stroke="#000" stroke-width="1.5"/>
<circle cx="76.40" cy="525.40" r="4.20" fill="#000"/>
<circle cx="84.26" cy="525.40" r="4.20" fill="#000"/>
<circle cx="92.12" cy="525.40" r="4.20" fill="#000"/>
<circle cx="99.98" cy="525.40" r="4.20" fill="#000"/>
<circle cx="107.84" cy="525.40" r="4.20" fill="#000"/>
<circle cx="115.70" cy="525.40" r="4.20" fill="#000"/>
<circle cx="123.56" cy="525.40" r="4.20" fill="#000"/>
<circle cx="131.42" cy="525.40" r="4.20" fill="#000"/>
<circle cx="139.28" cy="520.71" r="4.20" fill="#000"/>
<circle cx="147.14" cy="516.36" r="4.20" fill="#000"/>
<circle cx="155.00" cy="508.98" r="4.20" fill="#000"/>
<circle cx="162.86" cy="501.28" r="4.20" fill="#000"/>
<circle cx="170.72" cy="493.91" r="4.20" fill="#000"/>
<circle cx="178.58" cy="499.27" r="4.20" fill="#000"/>
<circle cx="186.44" cy="493.91" r="4.20" fill="#000"/>
<circle cx="194.30" cy="488.55" r="4.20" fill="#000"/>
<circle cx="202.16" cy="483.19" r="4.20" fill="#000"/>
<circle cx="210.02" cy="491.23" r="4.20" fill="#000"/>
<circle cx="217.88" cy="491.23" r="4.20" fill="#000"/>
<circle cx="225.74" cy="488.55" r="4.20" fill="#000"/>
<circle cx="233.60" cy="481.51" r="4.20" fill="#000"/>
<circle cx="241.46" cy="483.86" r="4.20" fill="#000"/>
<circle cx="249.32" cy="481.51" r="4.20" fill="#000"/>
<circle cx="257.18" cy="476.15" r="4.20" fill="#000"/>
<circle cx="265.04" cy="478.83" r="4.20" fill="#000"/>
<circle cx="272.90" cy="478.83" r="4.20" fill="#000"/>
<circle cx="280.76" cy="483.52" r="4.20" fill="#000"/>
<circle cx="288.62" cy="486.54" r="4.20" fill="#000"/>
<circle cx="296.48" cy="491.56" r="4.20" fill="#000"/>
<line x1="373.0" y1="371.7" x2="373.0" y2="527.0" stroke-width="1.5"/>
<line x1="373.0" y1="526.3" x2="634.0" y2="526.3" stroke-width="1.5"/>
<line x1="369.0" y1="526.3" x2="373.0" y2="526.3" stroke-width="1.5"/>
<text x="367.2" y="531.2" font-size="13.5" text-anchor="end" font-weight="normal">0</text>
<line x1="369.0" y1="495.5" x2="373.0" y2="495.5" stroke-width="1.5"/>
<text x="367.2" y="500.3" font-size="13.5" text-anchor="end" font-weight="normal">1</text>
<line x1="369.0" y1="464.6" x2="373.0" y2="464.6" stroke-width="1.5"/>
<text x="367.2" y="469.5" font-size="13.5" text-anchor="end" font-weight="normal">2</text>
<line x1="369.0" y1="433.8" x2="373.0" y2="433.8" stroke-width="1.5"/>
<text x="367.2" y="438.6" font-size="13.5" text-anchor="end" font-weight="normal">3</text>
<line x1="369.0" y1="402.9" x2="373.0" y2="402.9" stroke-width="1.5"/>
<text x="367.2" y="407.8" font-size="13.5" text-anchor="end" font-weight="normal">4</text>
<line x1="369.0" y1="372.1" x2="373.0" y2="372.1" stroke-width="1.5"/>
<text x="367.2" y="377.0" font-size="13.5" text-anchor="end" font-weight="normal">5</text>
<line x1="372.6" y1="526.3" x2="372.6" y2="528.7" stroke-width="1.1"/>
<line x1="381.3" y1="526.3" x2="381.3" y2="528.7" stroke-width="1.1"/>
<line x1="389.9" y1="526.3" x2="389.9" y2="528.7" stroke-width="1.1"/>
<line x1="398.6" y1="526.3" x2="398.6" y2="528.7" stroke-width="1.1"/>
<line x1="407.2" y1="526.3" x2="407.2" y2="528.7" stroke-width="1.1"/>
<line x1="415.9" y1="526.3" x2="415.9" y2="528.7" stroke-width="1.1"/>
<line x1="424.6" y1="526.3" x2="424.6" y2="528.7" stroke-width="1.1"/>
<line x1="433.2" y1="526.3" x2="433.2" y2="528.7" stroke-width="1.1"/>
<line x1="441.9" y1="526.3" x2="441.9" y2="528.7" stroke-width="1.1"/>
<line x1="450.5" y1="526.3" x2="450.5" y2="528.7" stroke-width="1.1"/>
<line x1="459.2" y1="526.3" x2="459.2" y2="528.7" stroke-width="1.1"/>
<line x1="467.9" y1="526.3" x2="467.9" y2="528.7" stroke-width="1.1"/>
<line x1="476.5" y1="526.3" x2="476.5" y2="528.7" stroke-width="1.1"/>
<line x1="485.2" y1="526.3" x2="485.2" y2="528.7" stroke-width="1.1"/>
<line x1="493.8" y1="526.3" x2="493.8" y2="528.7" stroke-width="1.1"/>
<line x1="502.5" y1="526.3" x2="502.5" y2="528.7" stroke-width="1.1"/>
<line x1="511.2" y1="526.3" x2="511.2" y2="528.7" stroke-width="1.1"/>
<line x1="519.8" y1="526.3" x2="519.8" y2="528.7" stroke-width="1.1"/>
<line x1="528.5" y1="526.3" x2="528.5" y2="528.7" stroke-width="1.1"/>
<line x1="537.1" y1="526.3" x2="537.1" y2="528.7" stroke-width="1.1"/>
<line x1="545.8" y1="526.3" x2="545.8" y2="528.7" stroke-width="1.1"/>
<line x1="554.5" y1="526.3" x2="554.5" y2="528.7" stroke-width="1.1"/>
<line x1="563.1" y1="526.3" x2="563.1" y2="528.7" stroke-width="1.1"/>
<line x1="571.8" y1="526.3" x2="571.8" y2="528.7" stroke-width="1.1"/>
<line x1="580.4" y1="526.3" x2="580.4" y2="528.7" stroke-width="1.1"/>
<line x1="589.1" y1="526.3" x2="589.1" y2="528.7" stroke-width="1.1"/>
<line x1="597.8" y1="526.3" x2="597.8" y2="528.7" stroke-width="1.1"/>
<line x1="606.4" y1="526.3" x2="606.4" y2="528.7" stroke-width="1.1"/>
<line x1="615.1" y1="526.3" x2="615.1" y2="528.7" stroke-width="1.1"/>
<line x1="623.7" y1="526.3" x2="623.7" y2="528.7" stroke-width="1.1"/>
<line x1="632.4" y1="526.3" x2="632.4" y2="528.7" stroke-width="1.1"/>
<line x1="372.6" y1="526.3" x2="372.6" y2="530.3" stroke-width="1.5"/>
<text x="373.1" y="544.4" font-size="13.5" text-anchor="middle" font-weight="normal">0</text>
<line x1="415.9" y1="526.3" x2="415.9" y2="530.3" stroke-width="1.5"/>
<text x="416.4" y="544.4" font-size="13.5" text-anchor="middle" font-weight="normal">5</text>
<line x1="459.2" y1="526.3" x2="459.2" y2="530.3" stroke-width="1.5"/>
<text x="458.4" y="544.4" font-size="13.5" text-anchor="middle" font-weight="normal">10</text>
<line x1="502.5" y1="526.3" x2="502.5" y2="530.3" stroke-width="1.5"/>
<text x="501.7" y="544.4" font-size="13.5" text-anchor="middle" font-weight="normal">15</text>
<line x1="545.8" y1="526.3" x2="545.8" y2="530.3" stroke-width="1.5"/>
<text x="545.0" y="544.4" font-size="13.5" text-anchor="middle" font-weight="normal">20</text>
<line x1="589.1" y1="526.3" x2="589.1" y2="530.3" stroke-width="1.5"/>
<text x="588.3" y="544.4" font-size="13.5" text-anchor="middle" font-weight="normal">25</text>
<line x1="632.4" y1="526.3" x2="632.4" y2="530.3" stroke-width="1.5"/>
<text x="631.6" y="544.4" font-size="13.5" text-anchor="middle" font-weight="normal">30</text>
<text x="510.8" y="558.4" font-size="16.3" text-anchor="middle" font-weight="normal" textLength="189.3" lengthAdjust="spacingAndGlyphs">Time post immunization (d)</text>
<text transform="translate(351.0,449.3) rotate(-90)" x="0" y="0" font-size="16.5" text-anchor="middle" textLength="189.5" lengthAdjust="spacingAndGlyphs">Mean Clinical Score ± SEM</text>
<line x1="380.0" y1="375.6" x2="391.7" y2="375.6" stroke-width="1.3"/>
<circle cx="385.70" cy="375.60" r="4.20" fill="#fff" stroke="#000" stroke-width="1.35"/>
<line x1="381.50" y1="375.60" x2="389.90" y2="375.60" stroke-width="1.35"/>
<line x1="380.0" y1="390.3" x2="391.7" y2="390.3" stroke-width="1.3"/>
<circle cx="385.70" cy="390.30" r="4.75" fill="#000"/>
<text x="395.5" y="380.7" font-size="15" text-anchor="start" font-weight="normal" textLength="131.3" lengthAdjust="spacingAndGlyphs">OVA-CD8 Transfer</text>
<text x="395.5" y="394.0" font-size="15" text-anchor="start" font-weight="normal" textLength="129.2" lengthAdjust="spacingAndGlyphs">PLP-CD8 Transfer</text>
<line x1="501.9" y1="406.2" x2="634.0" y2="406.2" stroke-width="1.3" style="stroke:#333"/>
<text x="563.5" y="403.1" font-size="13.5" text-anchor="middle" font-weight="normal">*</text>
<polyline points="372.60,526.30 381.26,526.30 389.92,526.30 398.58,526.30 407.24,526.30 415.90,526.30 424.56,526.30 433.22,526.30 441.88,526.30 450.54,516.12 459.20,518.59 467.86,518.59 476.52,508.72 485.18,497.31 493.84,480.04 502.50,464.62 511.16,455.68 519.82,451.67 528.48,442.42 537.14,442.42 545.80,442.42 554.46,432.85 563.12,430.39 571.78,428.23 580.44,432.85 589.10,434.40 597.76,437.17 606.42,434.40 615.08,437.17 623.74,437.17 632.40,437.17" fill="none" stroke="#000" stroke-width="1.5"/>
<line x1="450.5" y1="512.4" x2="450.5" y2="519.8" stroke-width="1.5"/>
<line x1="446.4" y1="512.4" x2="454.6" y2="512.4" stroke-width="1.5"/>
<line x1="446.4" y1="519.8" x2="454.6" y2="519.8" stroke-width="1.5"/>
<line x1="459.2" y1="515.5" x2="459.2" y2="521.7" stroke-width="1.5"/>
<line x1="455.1" y1="515.5" x2="463.3" y2="515.5" stroke-width="1.5"/>
<line x1="455.1" y1="521.7" x2="463.3" y2="521.7" stroke-width="1.5"/>
<line x1="467.9" y1="515.5" x2="467.9" y2="521.7" stroke-width="1.5"/>
<line x1="463.8" y1="515.5" x2="472.0" y2="515.5" stroke-width="1.5"/>
<line x1="463.8" y1="521.7" x2="472.0" y2="521.7" stroke-width="1.5"/>
<line x1="476.5" y1="505.0" x2="476.5" y2="512.4" stroke-width="1.5"/>
<line x1="472.4" y1="505.0" x2="480.6" y2="505.0" stroke-width="1.5"/>
<line x1="472.4" y1="512.4" x2="480.6" y2="512.4" stroke-width="1.5"/>
<line x1="485.2" y1="492.7" x2="485.2" y2="501.9" stroke-width="1.5"/>
<line x1="481.1" y1="492.7" x2="489.3" y2="492.7" stroke-width="1.5"/>
<line x1="481.1" y1="501.9" x2="489.3" y2="501.9" stroke-width="1.5"/>
<line x1="493.8" y1="473.9" x2="493.8" y2="486.2" stroke-width="1.5"/>
<line x1="489.7" y1="473.9" x2="497.9" y2="473.9" stroke-width="1.5"/>
<line x1="489.7" y1="486.2" x2="497.9" y2="486.2" stroke-width="1.5"/>
<line x1="502.5" y1="455.4" x2="502.5" y2="473.9" stroke-width="1.5"/>
<line x1="498.4" y1="455.4" x2="506.6" y2="455.4" stroke-width="1.5"/>
<line x1="498.4" y1="473.9" x2="506.6" y2="473.9" stroke-width="1.5"/>
<line x1="511.2" y1="446.4" x2="511.2" y2="464.9" stroke-width="1.5"/>
<line x1="507.1" y1="446.4" x2="515.3" y2="446.4" stroke-width="1.5"/>
<line x1="507.1" y1="464.9" x2="515.3" y2="464.9" stroke-width="1.5"/>
<line x1="519.8" y1="442.4" x2="519.8" y2="460.9" stroke-width="1.5"/>
<line x1="515.7" y1="442.4" x2="523.9" y2="442.4" stroke-width="1.5"/>
<line x1="515.7" y1="460.9" x2="523.9" y2="460.9" stroke-width="1.5"/>
<line x1="528.5" y1="431.6" x2="528.5" y2="453.2" stroke-width="1.5"/>
<line x1="524.4" y1="431.6" x2="532.6" y2="431.6" stroke-width="1.5"/>
<line x1="524.4" y1="453.2" x2="532.6" y2="453.2" stroke-width="1.5"/>
<line x1="537.1" y1="431.6" x2="537.1" y2="453.2" stroke-width="1.5"/>
<line x1="533.0" y1="431.6" x2="541.2" y2="431.6" stroke-width="1.5"/>
<line x1="533.0" y1="453.2" x2="541.2" y2="453.2" stroke-width="1.5"/>
<line x1="545.8" y1="431.6" x2="545.8" y2="453.2" stroke-width="1.5"/>
<line x1="541.7" y1="431.6" x2="549.9" y2="431.6" stroke-width="1.5"/>
<line x1="541.7" y1="453.2" x2="549.9" y2="453.2" stroke-width="1.5"/>
<line x1="554.5" y1="420.5" x2="554.5" y2="445.2" stroke-width="1.5"/>
<line x1="550.4" y1="420.5" x2="558.6" y2="420.5" stroke-width="1.5"/>
<line x1="550.4" y1="445.2" x2="558.6" y2="445.2" stroke-width="1.5"/>
<line x1="563.1" y1="417.4" x2="563.1" y2="443.3" stroke-width="1.5"/>
<line x1="559.0" y1="417.4" x2="567.2" y2="417.4" stroke-width="1.5"/>
<line x1="559.0" y1="443.3" x2="567.2" y2="443.3" stroke-width="1.5"/>
<line x1="571.8" y1="415.3" x2="571.8" y2="441.2" stroke-width="1.5"/>
<line x1="567.7" y1="415.3" x2="575.9" y2="415.3" stroke-width="1.5"/>
<line x1="567.7" y1="441.2" x2="575.9" y2="441.2" stroke-width="1.5"/>
<line x1="580.4" y1="420.2" x2="580.4" y2="445.5" stroke-width="1.5"/>
<line x1="576.3" y1="420.2" x2="584.5" y2="420.2" stroke-width="1.5"/>
<line x1="576.3" y1="445.5" x2="584.5" y2="445.5" stroke-width="1.5"/>
<line x1="589.1" y1="421.8" x2="589.1" y2="447.0" stroke-width="1.5"/>
<line x1="585.0" y1="421.8" x2="593.2" y2="421.8" stroke-width="1.5"/>
<line x1="585.0" y1="447.0" x2="593.2" y2="447.0" stroke-width="1.5"/>
<line x1="597.8" y1="424.5" x2="597.8" y2="449.8" stroke-width="1.5"/>
<line x1="593.7" y1="424.5" x2="601.9" y2="424.5" stroke-width="1.5"/>
<line x1="593.7" y1="449.8" x2="601.9" y2="449.8" stroke-width="1.5"/>
<line x1="606.4" y1="421.8" x2="606.4" y2="447.0" stroke-width="1.5"/>
<line x1="602.3" y1="421.8" x2="610.5" y2="421.8" stroke-width="1.5"/>
<line x1="602.3" y1="447.0" x2="610.5" y2="447.0" stroke-width="1.5"/>
<line x1="615.1" y1="424.5" x2="615.1" y2="449.8" stroke-width="1.5"/>
<line x1="611.0" y1="424.5" x2="619.2" y2="424.5" stroke-width="1.5"/>
<line x1="611.0" y1="449.8" x2="619.2" y2="449.8" stroke-width="1.5"/>
<line x1="623.7" y1="424.5" x2="623.7" y2="449.8" stroke-width="1.5"/>
<line x1="619.6" y1="424.5" x2="627.8" y2="424.5" stroke-width="1.5"/>
<line x1="619.6" y1="449.8" x2="627.8" y2="449.8" stroke-width="1.5"/>
<line x1="632.4" y1="424.5" x2="632.4" y2="449.8" stroke-width="1.5"/>
<line x1="628.3" y1="424.5" x2="636.5" y2="424.5" stroke-width="1.5"/>
<line x1="628.3" y1="449.8" x2="636.5" y2="449.8" stroke-width="1.5"/>
<polyline points="372.60,526.30 381.26,526.30 389.92,526.30 398.58,526.30 407.24,526.30 415.90,526.30 424.56,526.30 433.22,526.30 441.88,526.30 450.54,521.06 459.20,518.59 467.86,518.59 476.52,508.72 485.18,498.24 493.84,502.55 502.50,505.64 511.16,511.19 519.82,510.88 528.48,500.09 537.14,495.15 545.80,500.09 554.46,500.09 563.12,493.61 571.78,495.15 580.44,493.30 589.10,490.53 597.76,490.83 606.42,493.30 615.08,495.77 623.74,493.61 632.40,493.61" fill="none" stroke="#000" stroke-width="1.5"/>
<line x1="450.5" y1="518.0" x2="450.5" y2="524.1" stroke-width="1.5"/>
<line x1="446.4" y1="518.0" x2="454.6" y2="518.0" stroke-width="1.5"/>
<line x1="446.4" y1="524.1" x2="454.6" y2="524.1" stroke-width="1.5"/>
<line x1="459.2" y1="515.5" x2="459.2" y2="521.7" stroke-width="1.5"/>
<line x1="455.1" y1="515.5" x2="463.3" y2="515.5" stroke-width="1.5"/>
<line x1="455.1" y1="521.7" x2="463.3" y2="521.7" stroke-width="1.5"/>
<line x1="467.9" y1="515.5" x2="467.9" y2="521.7" stroke-width="1.5"/>
<line x1="463.8" y1="515.5" x2="472.0" y2="515.5" stroke-width="1.5"/>
<line x1="463.8" y1="521.7" x2="472.0" y2="521.7" stroke-width="1.5"/>
<line x1="476.5" y1="505.0" x2="476.5" y2="512.4" stroke-width="1.5"/>
<line x1="472.4" y1="505.0" x2="480.6" y2="505.0" stroke-width="1.5"/>
<line x1="472.4" y1="512.4" x2="480.6" y2="512.4" stroke-width="1.5"/>
<line x1="485.2" y1="493.6" x2="485.2" y2="502.9" stroke-width="1.5"/>
<line x1="481.1" y1="493.6" x2="489.3" y2="493.6" stroke-width="1.5"/>
<line x1="481.1" y1="502.9" x2="489.3" y2="502.9" stroke-width="1.5"/>
<line x1="493.8" y1="497.9" x2="493.8" y2="507.2" stroke-width="1.5"/>
<line x1="489.7" y1="497.9" x2="497.9" y2="497.9" stroke-width="1.5"/>
<line x1="489.7" y1="507.2" x2="497.9" y2="507.2" stroke-width="1.5"/>
<line x1="502.5" y1="501.0" x2="502.5" y2="510.3" stroke-width="1.5"/>
<line x1="498.4" y1="501.0" x2="506.6" y2="501.0" stroke-width="1.5"/>
<line x1="498.4" y1="510.3" x2="506.6" y2="510.3" stroke-width="1.5"/>
<line x1="511.2" y1="507.5" x2="511.2" y2="514.9" stroke-width="1.5"/>
<line x1="507.1" y1="507.5" x2="515.3" y2="507.5" stroke-width="1.5"/>
<line x1="507.1" y1="514.9" x2="515.3" y2="514.9" stroke-width="1.5"/>
<line x1="519.8" y1="507.2" x2="519.8" y2="514.6" stroke-width="1.5"/>
<line x1="515.7" y1="507.2" x2="523.9" y2="507.2" stroke-width="1.5"/>
<line x1="515.7" y1="514.6" x2="523.9" y2="514.6" stroke-width="1.5"/>
<line x1="528.5" y1="496.4" x2="528.5" y2="503.8" stroke-width="1.5"/>
<line x1="524.4" y1="496.4" x2="532.6" y2="496.4" stroke-width="1.5"/>
<line x1="524.4" y1="503.8" x2="532.6" y2="503.8" stroke-width="1.5"/>
<line x1="537.1" y1="491.5" x2="537.1" y2="498.9" stroke-width="1.5"/>
<line x1="533.0" y1="491.5" x2="541.2" y2="491.5" stroke-width="1.5"/>
<line x1="533.0" y1="498.9" x2="541.2" y2="498.9" stroke-width="1.5"/>
<line x1="545.8" y1="495.5" x2="545.8" y2="504.7" stroke-width="1.5"/>
<line x1="541.7" y1="495.5" x2="549.9" y2="495.5" stroke-width="1.5"/>
<line x1="541.7" y1="504.7" x2="549.9" y2="504.7" stroke-width="1.5"/>
<line x1="554.5" y1="495.5" x2="554.5" y2="504.7" stroke-width="1.5"/>
<line x1="550.4" y1="495.5" x2="558.6" y2="495.5" stroke-width="1.5"/>
<line x1="550.4" y1="504.7" x2="558.6" y2="504.7" stroke-width="1.5"/>
<line x1="563.1" y1="489.0" x2="563.1" y2="498.2" stroke-width="1.5"/>
<line x1="559.0" y1="489.0" x2="567.2" y2="489.0" stroke-width="1.5"/>
<line x1="559.0" y1="498.2" x2="567.2" y2="498.2" stroke-width="1.5"/>
<line x1="571.8" y1="490.5" x2="571.8" y2="499.8" stroke-width="1.5"/>
<line x1="567.7" y1="490.5" x2="575.9" y2="490.5" stroke-width="1.5"/>
<line x1="567.7" y1="499.8" x2="575.9" y2="499.8" stroke-width="1.5"/>
<line x1="580.4" y1="488.7" x2="580.4" y2="497.9" stroke-width="1.5"/>
<line x1="576.3" y1="488.7" x2="584.5" y2="488.7" stroke-width="1.5"/>
<line x1="576.3" y1="497.9" x2="584.5" y2="497.9" stroke-width="1.5"/>
<line x1="589.1" y1="485.9" x2="589.1" y2="495.2" stroke-width="1.5"/>
<line x1="585.0" y1="485.9" x2="593.2" y2="485.9" stroke-width="1.5"/>
<line x1="585.0" y1="495.2" x2="593.2" y2="495.2" stroke-width="1.5"/>
<line x1="597.8" y1="486.2" x2="597.8" y2="495.5" stroke-width="1.5"/>
<line x1="593.7" y1="486.2" x2="601.9" y2="486.2" stroke-width="1.5"/>
<line x1="593.7" y1="495.5" x2="601.9" y2="495.5" stroke-width="1.5"/>
<line x1="606.4" y1="488.7" x2="606.4" y2="497.9" stroke-width="1.5"/>
<line x1="602.3" y1="488.7" x2="610.5" y2="488.7" stroke-width="1.5"/>
<line x1="602.3" y1="497.9" x2="610.5" y2="497.9" stroke-width="1.5"/>
<line x1="615.1" y1="491.1" x2="615.1" y2="500.4" stroke-width="1.5"/>
<line x1="611.0" y1="491.1" x2="619.2" y2="491.1" stroke-width="1.5"/>
<line x1="611.0" y1="500.4" x2="619.2" y2="500.4" stroke-width="1.5"/>
<line x1="623.7" y1="489.0" x2="623.7" y2="498.2" stroke-width="1.5"/>
<line x1="619.6" y1="489.0" x2="627.8" y2="489.0" stroke-width="1.5"/>
<line x1="619.6" y1="498.2" x2="627.8" y2="498.2" stroke-width="1.5"/>
<line x1="632.4" y1="489.0" x2="632.4" y2="498.2" stroke-width="1.5"/>
<line x1="628.3" y1="489.0" x2="636.5" y2="489.0" stroke-width="1.5"/>
<line x1="628.3" y1="498.2" x2="636.5" y2="498.2" stroke-width="1.5"/>
<circle cx="450.54" cy="516.12" r="3.80" fill="#fff" stroke="#000" stroke-width="1.25"/>
<circle cx="459.20" cy="518.59" r="3.80" fill="#fff" stroke="#000" stroke-width="1.25"/>
<circle cx="467.86" cy="518.59" r="3.80" fill="#fff" stroke="#000" stroke-width="1.25"/>
<circle cx="476.52" cy="508.72" r="3.80" fill="#fff" stroke="#000" stroke-width="1.25"/>
<circle cx="485.18" cy="497.31" r="3.80" fill="#fff" stroke="#000" stroke-width="1.25"/>
<circle cx="493.84" cy="480.04" r="3.80" fill="#fff" stroke="#000" stroke-width="1.25"/>
<circle cx="502.50" cy="464.62" r="3.80" fill="#fff" stroke="#000" stroke-width="1.25"/>
<circle cx="511.16" cy="455.68" r="3.80" fill="#fff" stroke="#000" stroke-width="1.25"/>
<circle cx="519.82" cy="451.67" r="3.80" fill="#fff" stroke="#000" stroke-width="1.25"/>
<circle cx="528.48" cy="442.42" r="3.80" fill="#fff" stroke="#000" stroke-width="1.25"/>
<circle cx="537.14" cy="442.42" r="3.80" fill="#fff" stroke="#000" stroke-width="1.25"/>
<circle cx="545.80" cy="442.42" r="3.80" fill="#fff" stroke="#000" stroke-width="1.25"/>
<circle cx="554.46" cy="432.85" r="3.80" fill="#fff" stroke="#000" stroke-width="1.25"/>
<circle cx="563.12" cy="430.39" r="3.80" fill="#fff" stroke="#000" stroke-width="1.25"/>
<circle cx="571.78" cy="428.23" r="3.80" fill="#fff" stroke="#000" stroke-width="1.25"/>
<circle cx="580.44" cy="432.85" r="3.80" fill="#fff" stroke="#000" stroke-width="1.25"/>
<circle cx="589.10" cy="434.40" r="3.80" fill="#fff" stroke="#000" stroke-width="1.25"/>
<circle cx="597.76" cy="437.17" r="3.80" fill="#fff" stroke="#000" stroke-width="1.25"/>
<circle cx="606.42" cy="434.40" r="3.80" fill="#fff" stroke="#000" stroke-width="1.25"/>
<circle cx="615.08" cy="437.17" r="3.80" fill="#fff" stroke="#000" stroke-width="1.25"/>
<circle cx="623.74" cy="437.17" r="3.80" fill="#fff" stroke="#000" stroke-width="1.25"/>
<circle cx="632.40" cy="437.17" r="3.80" fill="#fff" stroke="#000" stroke-width="1.25"/>
<polyline points="372.60,526.30 381.26,526.30 389.92,526.30 398.58,526.30 407.24,526.30 415.90,526.30 424.56,526.30 433.22,526.30 441.88,526.30 450.54,516.12 459.20,518.59 467.86,518.59 476.52,508.72 485.18,497.31 493.84,480.04 502.50,464.62 511.16,455.68 519.82,451.67 528.48,442.42 537.14,442.42 545.80,442.42 554.46,432.85 563.12,430.39 571.78,428.23 580.44,432.85 589.10,434.40 597.76,437.17 606.42,434.40 615.08,437.17 623.74,437.17 632.40,437.17" fill="none" stroke="#000" stroke-width="1.5"/>
<circle cx="372.60" cy="526.30" r="4.60" fill="#000"/>
<circle cx="381.26" cy="526.30" r="4.60" fill="#000"/>
<circle cx="389.92" cy="526.30" r="4.60" fill="#000"/>
<circle cx="398.58" cy="526.30" r="4.60" fill="#000"/>
<circle cx="407.24" cy="526.30" r="4.60" fill="#000"/>
<circle cx="415.90" cy="526.30" r="4.60" fill="#000"/>
<circle cx="424.56" cy="526.30" r="4.60" fill="#000"/>
<circle cx="433.22" cy="526.30" r="4.60" fill="#000"/>
<circle cx="441.88" cy="526.30" r="4.60" fill="#000"/>
<circle cx="450.54" cy="521.06" r="4.60" fill="#000"/>
<circle cx="459.20" cy="518.59" r="4.60" fill="#000"/>
<circle cx="467.86" cy="518.59" r="4.60" fill="#000"/>
<circle cx="476.52" cy="508.72" r="4.60" fill="#000"/>
<circle cx="485.18" cy="498.24" r="4.60" fill="#000"/>
<circle cx="493.84" cy="502.55" r="4.60" fill="#000"/>
<circle cx="502.50" cy="505.64" r="4.60" fill="#000"/>
<circle cx="511.16" cy="511.19" r="4.60" fill="#000"/>
<circle cx="519.82" cy="510.88" r="4.60" fill="#000"/>
<circle cx="528.48" cy="500.09" r="4.60" fill="#000"/>
<circle cx="537.14" cy="495.15" r="4.60" fill="#000"/>
<circle cx="545.80" cy="500.09" r="4.60" fill="#000"/>
<circle cx="554.46" cy="500.09" r="4.60" fill="#000"/>
<circle cx="563.12" cy="493.61" r="4.60" fill="#000"/>
<circle cx="571.78" cy="495.15" r="4.60" fill="#000"/>
<circle cx="580.44" cy="493.30" r="4.60" fill="#000"/>
<circle cx="589.10" cy="490.53" r="4.60" fill="#000"/>
<circle cx="597.76" cy="490.83" r="4.60" fill="#000"/>
<circle cx="606.42" cy="493.30" r="4.60" fill="#000"/>
<circle cx="615.08" cy="495.77" r="4.60" fill="#000"/>
<circle cx="623.74" cy="493.61" r="4.60" fill="#000"/>
<circle cx="632.40" cy="493.61" r="4.60" fill="#000"/>
<rect x="35.0" y="563.6" width="296.4" height="136.7" fill="none" stroke="#000" stroke-width="1.7"/>
<line x1="79.5" y1="563.6" x2="79.5" y2="700.3" stroke-width="1.7"/>
<line x1="130.5" y1="563.6" x2="130.5" y2="700.3" stroke-width="1.7"/>
<line x1="182.6" y1="563.6" x2="182.6" y2="700.3" stroke-width="1.7"/>
<line x1="230.7" y1="563.6" x2="230.7" y2="700.3" stroke-width="1.7"/>
<line x1="278.1" y1="563.6" x2="278.1" y2="700.3" stroke-width="1.7"/>
<line x1="35.0" y1="582.5" x2="331.4" y2="582.5" stroke-width="1.7"/>
<line x1="35.0" y1="641.8" x2="331.4" y2="641.8" stroke-width="1.7"/>
<line x1="79.5" y1="611.7" x2="331.4" y2="611.7" stroke-width="1.7"/>
<line x1="79.5" y1="670.9" x2="331.4" y2="670.9" stroke-width="1.7"/>
<text x="57.2" y="576.8" font-size="10.6" text-anchor="middle" font-weight="normal" class="tb">Strain</text>
<text x="105.0" y="576.8" font-size="10.6" text-anchor="middle" font-weight="normal" class="tb">Infection</text>
<text x="156.6" y="576.8" font-size="10.6" text-anchor="middle" font-weight="normal" class="tb">Onset</text>
<text x="206.6" y="576.8" font-size="10.6" text-anchor="middle" font-weight="normal" class="tb">Peak*</text>
<text x="254.4" y="576.8" font-size="10.6" text-anchor="middle" font-weight="normal" class="tb">Mortality</text>
<text x="304.8" y="576.8" font-size="10.6" text-anchor="middle" font-weight="normal" class="tb">CDI*</text>
<text x="57.7" y="615.3" font-size="10.6" text-anchor="middle" font-weight="normal" class="tb">WT</text>
<text x="57.0" y="673.3" font-size="10.6" text-anchor="middle" font-weight="normal" class="tb">CD8KO</text>
<text x="105.0" y="595.8" font-size="10.6" text-anchor="middle" font-weight="normal" class="tb">LM-OVA</text>
<text x="105.0" y="606.5" font-size="10.6" text-anchor="middle" font-weight="normal" class="tb">121-386</text>
<text x="156.6" y="601.2" font-size="10.6" text-anchor="middle" font-weight="normal" class="tb">9 ±0.4</text>
<text x="206.6" y="601.2" font-size="10.6" text-anchor="middle" font-weight="normal" class="tb">3.7±0.3</text>
<text x="254.4" y="601.2" font-size="10.6" text-anchor="middle" font-weight="normal" class="tb">4/15</text>
<text x="304.8" y="601.2" font-size="10.6" text-anchor="middle" font-weight="normal" class="tb">55.7±5.9</text>
<text x="105.0" y="625.0" font-size="10.6" text-anchor="middle" font-weight="normal" class="tb">LM-PLP</text>
<text x="105.0" y="635.3" font-size="10.6" text-anchor="middle" font-weight="normal" class="tb">175-194</text>
<text x="156.6" y="630.2" font-size="10.6" text-anchor="middle" font-weight="normal" class="tb">10 ±0.7</text>
<text x="206.6" y="630.2" font-size="10.6" text-anchor="middle" font-weight="normal" class="tb">1.8±0.2</text>
<text x="254.4" y="630.2" font-size="10.6" text-anchor="middle" font-weight="normal" class="tb">0/13</text>
<text x="304.8" y="630.2" font-size="10.6" text-anchor="middle" font-weight="normal" class="tb">22.1± 1.8</text>
<text x="105.0" y="654.6" font-size="10.6" text-anchor="middle" font-weight="normal" class="tb">LM-OVA</text>
<text x="105.0" y="665.2" font-size="10.6" text-anchor="middle" font-weight="normal" class="tb">121-386</text>
<text x="156.6" y="659.8" font-size="10.6" text-anchor="middle" font-weight="normal" class="tb">9 ±0.3</text>
<text x="206.6" y="659.8" font-size="10.6" text-anchor="middle" font-weight="normal" class="tb">3.5±0.3</text>
<text x="254.4" y="659.8" font-size="10.6" text-anchor="middle" font-weight="normal" class="tb">2/10</text>
<text x="304.8" y="659.8" font-size="10.6" text-anchor="middle" font-weight="normal" class="tb">53.6±5.3</text>
<text x="105.0" y="684.2" font-size="10.6" text-anchor="middle" font-weight="normal" class="tb">LM-PLP</text>
<text x="105.0" y="694.4" font-size="10.6" text-anchor="middle" font-weight="normal" class="tb">175-194</text>
<text x="156.6" y="688.9" font-size="10.6" text-anchor="middle" font-weight="normal" class="tb">9 ±0.5</text>
<text x="206.6" y="688.9" font-size="10.6" text-anchor="middle" font-weight="normal" class="tb">3.5±0.3</text>
<text x="254.4" y="688.9" font-size="10.6" text-anchor="middle" font-weight="normal" class="tb">2/10</text>
<text x="304.8" y="688.9" font-size="10.6" text-anchor="middle" font-weight="normal" class="tb">53.9 ± 1.6</text>
<rect x="335.6" y="566.3" width="335.4" height="108.7" fill="none" stroke="#000" stroke-width="1.7"/>
<line x1="410.0" y1="566.3" x2="410.0" y2="675.0" stroke-width="1.7"/>
<line x1="473.0" y1="566.3" x2="473.0" y2="675.0" stroke-width="1.7"/>
<line x1="531.3" y1="566.3" x2="531.3" y2="675.0" stroke-width="1.7"/>
<line x1="596.0" y1="566.3" x2="596.0" y2="675.0" stroke-width="1.7"/>
<line x1="335.6" y1="592.5" x2="671.0" y2="592.5" stroke-width="1.7"/>
<line x1="335.6" y1="634.0" x2="671.0" y2="634.0" stroke-width="1.7"/>
<text x="372.8" y="584.3" font-size="13.3" text-anchor="middle" font-weight="normal" class="tb">Transfer</text>
<text x="441.5" y="584.3" font-size="13.3" text-anchor="middle" font-weight="normal" class="tb">Onset</text>
<text x="502.1" y="584.3" font-size="13.3" text-anchor="middle" font-weight="normal" class="tb">Peak**</text>
<text x="563.6" y="584.3" font-size="13.3" text-anchor="middle" font-weight="normal" class="tb">Mortality</text>
<text x="633.5" y="584.3" font-size="13.3" text-anchor="middle" font-weight="normal" class="tb">CDI***</text>
<text x="369.3" y="618.2" font-size="11.8" text-anchor="middle" font-weight="normal" class="tb">OVA-CD8</text>
<text x="441.5" y="618.3" font-size="12" text-anchor="middle" font-weight="normal" class="tb">11.3 ± 0.6</text>
<text x="502.1" y="618.3" font-size="12" text-anchor="middle" font-weight="normal" class="tb">3.3 ± 0.4</text>
<text x="563.6" y="618.3" font-size="12" text-anchor="middle" font-weight="normal" class="tb">2/10</text>
<text x="633.5" y="618.3" font-size="12" text-anchor="middle" font-weight="normal" class="tb">48.4 ± 5.4</text>
<text x="369.3" y="659.7" font-size="11.8" text-anchor="middle" font-weight="normal" class="tb">PLP-CD8</text>
<text x="441.5" y="659.8" font-size="12" text-anchor="middle" font-weight="normal" class="tb">12.2 ± 0.7</text>
<text x="502.1" y="659.8" font-size="12" text-anchor="middle" font-weight="normal" class="tb">1.5 ± 0.2</text>
<text x="563.6" y="659.8" font-size="12" text-anchor="middle" font-weight="normal" class="tb">0/11</text>
<text x="633.5" y="659.8" font-size="12" text-anchor="middle" font-weight="normal" class="tb">17.8 ± 2.2</text>
<text x="3.7" y="715.6" font-size="25" class="tb">E</text>
<line x1="67.5" y1="731.7" x2="67.5" y2="914.0" stroke-width="1.5"/>
<line x1="67.5" y1="913.3" x2="314.0" y2="913.3" stroke-width="1.5"/>
<line x1="63.5" y1="913.3" x2="67.5" y2="913.3" stroke-width="1.5"/>
<text x="62.5" y="918.2" font-size="13.5" text-anchor="end" font-weight="normal">0</text>
<line x1="63.5" y1="877.1" x2="67.5" y2="877.1" stroke-width="1.5"/>
<text x="62.5" y="882.0" font-size="13.5" text-anchor="end" font-weight="normal">1</text>
<line x1="63.5" y1="840.9" x2="67.5" y2="840.9" stroke-width="1.5"/>
<text x="62.5" y="845.8" font-size="13.5" text-anchor="end" font-weight="normal">2</text>
<line x1="63.5" y1="804.7" x2="67.5" y2="804.7" stroke-width="1.5"/>
<text x="62.5" y="809.6" font-size="13.5" text-anchor="end" font-weight="normal">3</text>
<line x1="63.5" y1="768.5" x2="67.5" y2="768.5" stroke-width="1.5"/>
<text x="62.5" y="773.4" font-size="13.5" text-anchor="end" font-weight="normal">4</text>
<line x1="63.5" y1="732.3" x2="67.5" y2="732.3" stroke-width="1.5"/>
<text x="62.5" y="737.2" font-size="13.5" text-anchor="end" font-weight="normal">5</text>
<line x1="75.0" y1="913.3" x2="75.0" y2="915.7" stroke-width="1.1"/>
<line x1="82.9" y1="913.3" x2="82.9" y2="915.7" stroke-width="1.1"/>
<line x1="90.9" y1="913.3" x2="90.9" y2="915.7" stroke-width="1.1"/>
<line x1="98.8" y1="913.3" x2="98.8" y2="915.7" stroke-width="1.1"/>
<line x1="106.8" y1="913.3" x2="106.8" y2="915.7" stroke-width="1.1"/>
<line x1="114.7" y1="913.3" x2="114.7" y2="915.7" stroke-width="1.1"/>
<line x1="122.6" y1="913.3" x2="122.6" y2="915.7" stroke-width="1.1"/>
<line x1="130.6" y1="913.3" x2="130.6" y2="915.7" stroke-width="1.1"/>
<line x1="138.5" y1="913.3" x2="138.5" y2="915.7" stroke-width="1.1"/>
<line x1="146.5" y1="913.3" x2="146.5" y2="915.7" stroke-width="1.1"/>
<line x1="154.4" y1="913.3" x2="154.4" y2="915.7" stroke-width="1.1"/>
<line x1="162.3" y1="913.3" x2="162.3" y2="915.7" stroke-width="1.1"/>
<line x1="170.3" y1="913.3" x2="170.3" y2="915.7" stroke-width="1.1"/>
<line x1="178.2" y1="913.3" x2="178.2" y2="915.7" stroke-width="1.1"/>
<line x1="186.2" y1="913.3" x2="186.2" y2="915.7" stroke-width="1.1"/>
<line x1="194.1" y1="913.3" x2="194.1" y2="915.7" stroke-width="1.1"/>
<line x1="202.0" y1="913.3" x2="202.0" y2="915.7" stroke-width="1.1"/>
<line x1="210.0" y1="913.3" x2="210.0" y2="915.7" stroke-width="1.1"/>
<line x1="217.9" y1="913.3" x2="217.9" y2="915.7" stroke-width="1.1"/>
<line x1="225.9" y1="913.3" x2="225.9" y2="915.7" stroke-width="1.1"/>
<line x1="233.8" y1="913.3" x2="233.8" y2="915.7" stroke-width="1.1"/>
<line x1="241.7" y1="913.3" x2="241.7" y2="915.7" stroke-width="1.1"/>
<line x1="249.7" y1="913.3" x2="249.7" y2="915.7" stroke-width="1.1"/>
<line x1="257.6" y1="913.3" x2="257.6" y2="915.7" stroke-width="1.1"/>
<line x1="265.6" y1="913.3" x2="265.6" y2="915.7" stroke-width="1.1"/>
<line x1="273.5" y1="913.3" x2="273.5" y2="915.7" stroke-width="1.1"/>
<line x1="281.4" y1="913.3" x2="281.4" y2="915.7" stroke-width="1.1"/>
<line x1="289.4" y1="913.3" x2="289.4" y2="915.7" stroke-width="1.1"/>
<line x1="297.3" y1="913.3" x2="297.3" y2="915.7" stroke-width="1.1"/>
<line x1="305.3" y1="913.3" x2="305.3" y2="915.7" stroke-width="1.1"/>
<line x1="313.2" y1="913.3" x2="313.2" y2="915.7" stroke-width="1.1"/>
<line x1="75.0" y1="913.3" x2="75.0" y2="917.3" stroke-width="1.5"/>
<text x="74.5" y="932.9" font-size="13.5" text-anchor="middle" font-weight="normal">0</text>
<line x1="114.7" y1="913.3" x2="114.7" y2="917.3" stroke-width="1.5"/>
<text x="114.2" y="932.9" font-size="13.5" text-anchor="middle" font-weight="normal">5</text>
<line x1="154.4" y1="913.3" x2="154.4" y2="917.3" stroke-width="1.5"/>
<text x="152.9" y="932.9" font-size="13.5" text-anchor="middle" font-weight="normal">10</text>
<line x1="194.1" y1="913.3" x2="194.1" y2="917.3" stroke-width="1.5"/>
<text x="192.6" y="932.9" font-size="13.5" text-anchor="middle" font-weight="normal">15</text>
<line x1="233.8" y1="913.3" x2="233.8" y2="917.3" stroke-width="1.5"/>
<text x="232.3" y="932.9" font-size="13.5" text-anchor="middle" font-weight="normal">20</text>
<line x1="273.5" y1="913.3" x2="273.5" y2="917.3" stroke-width="1.5"/>
<text x="272.0" y="932.9" font-size="13.5" text-anchor="middle" font-weight="normal">25</text>
<line x1="313.2" y1="913.3" x2="313.2" y2="917.3" stroke-width="1.5"/>
<text x="311.7" y="932.9" font-size="13.5" text-anchor="middle" font-weight="normal">30</text>
<text x="197.9" y="945.2" font-size="16.3" text-anchor="middle" font-weight="normal" textLength="189.2" lengthAdjust="spacingAndGlyphs">Time post immunization (d)</text>
<text transform="translate(46.8,828.5) rotate(-90)" x="0" y="0" font-size="16.5" text-anchor="middle" textLength="189.0" lengthAdjust="spacingAndGlyphs">Mean Clinical Score ± SEM</text>
<polygon points="82.40,724.00 86.53,731.07 78.28,731.07" fill="#fff" stroke="#000" stroke-width="1.4" stroke-linejoin="miter"/>
<line x1="77.1" y1="727.6" x2="87.8" y2="727.6" stroke-width="1.4"/>
<polygon points="82.40,736.77 86.90,744.47 77.90,744.47" fill="#000" stroke="#000" stroke-width="0.6"/>
<line x1="77.1" y1="740.5" x2="87.8" y2="740.5" stroke-width="1.4"/>
<text x="90.0" y="733.2" font-size="15" text-anchor="start" font-weight="normal" textLength="182.8" lengthAdjust="spacingAndGlyphs">LM-OVA Infection Perf-KO</text>
<text x="90.0" y="746.4" font-size="15" text-anchor="start" font-weight="normal" textLength="178.8" lengthAdjust="spacingAndGlyphs">LM-PLP Infection Perf-KO</text>
<polyline points="75.00,913.30 82.94,913.30 90.88,913.30 98.82,913.30 106.76,913.30 114.70,913.30 122.64,913.30 130.58,913.30 138.52,913.30 146.46,913.30 154.40,896.65 162.34,882.89 170.28,857.55 178.22,839.81 186.16,830.76 194.10,829.32 202.04,826.42 209.98,820.63 217.92,826.42 225.86,824.97 233.80,822.08 241.74,822.08 249.68,815.92 257.62,814.47 265.56,815.92 273.50,814.47 281.44,817.01 289.38,819.18 297.32,815.92 305.26,810.13 313.20,810.13" fill="none" stroke="#000" stroke-width="1.5"/>
<line x1="154.4" y1="889.4" x2="154.4" y2="903.9" stroke-width="1.5"/>
<line x1="150.3" y1="889.4" x2="158.5" y2="889.4" stroke-width="1.5"/>
<line x1="150.3" y1="903.9" x2="158.5" y2="903.9" stroke-width="1.5"/>
<line x1="162.3" y1="872.0" x2="162.3" y2="893.8" stroke-width="1.5"/>
<line x1="158.2" y1="872.0" x2="166.4" y2="872.0" stroke-width="1.5"/>
<line x1="158.2" y1="893.8" x2="166.4" y2="893.8" stroke-width="1.5"/>
<line x1="170.3" y1="846.7" x2="170.3" y2="868.4" stroke-width="1.5"/>
<line x1="166.2" y1="846.7" x2="174.4" y2="846.7" stroke-width="1.5"/>
<line x1="166.2" y1="868.4" x2="174.4" y2="868.4" stroke-width="1.5"/>
<line x1="178.2" y1="829.0" x2="178.2" y2="850.7" stroke-width="1.5"/>
<line x1="174.1" y1="829.0" x2="182.3" y2="829.0" stroke-width="1.5"/>
<line x1="174.1" y1="850.7" x2="182.3" y2="850.7" stroke-width="1.5"/>
<line x1="186.2" y1="819.9" x2="186.2" y2="841.6" stroke-width="1.5"/>
<line x1="182.1" y1="819.9" x2="190.3" y2="819.9" stroke-width="1.5"/>
<line x1="182.1" y1="841.6" x2="190.3" y2="841.6" stroke-width="1.5"/>
<line x1="194.1" y1="818.5" x2="194.1" y2="840.2" stroke-width="1.5"/>
<line x1="190.0" y1="818.5" x2="198.2" y2="818.5" stroke-width="1.5"/>
<line x1="190.0" y1="840.2" x2="198.2" y2="840.2" stroke-width="1.5"/>
<line x1="202.0" y1="813.8" x2="202.0" y2="839.1" stroke-width="1.5"/>
<line x1="197.9" y1="813.8" x2="206.1" y2="813.8" stroke-width="1.5"/>
<line x1="197.9" y1="839.1" x2="206.1" y2="839.1" stroke-width="1.5"/>
<line x1="210.0" y1="808.0" x2="210.0" y2="833.3" stroke-width="1.5"/>
<line x1="205.9" y1="808.0" x2="214.1" y2="808.0" stroke-width="1.5"/>
<line x1="205.9" y1="833.3" x2="214.1" y2="833.3" stroke-width="1.5"/>
<line x1="217.9" y1="813.8" x2="217.9" y2="839.1" stroke-width="1.5"/>
<line x1="213.8" y1="813.8" x2="222.0" y2="813.8" stroke-width="1.5"/>
<line x1="213.8" y1="839.1" x2="222.0" y2="839.1" stroke-width="1.5"/>
<line x1="225.9" y1="812.3" x2="225.9" y2="837.6" stroke-width="1.5"/>
<line x1="221.8" y1="812.3" x2="230.0" y2="812.3" stroke-width="1.5"/>
<line x1="221.8" y1="837.6" x2="230.0" y2="837.6" stroke-width="1.5"/>
<line x1="233.8" y1="809.4" x2="233.8" y2="834.7" stroke-width="1.5"/>
<line x1="229.7" y1="809.4" x2="237.9" y2="809.4" stroke-width="1.5"/>
<line x1="229.7" y1="834.7" x2="237.9" y2="834.7" stroke-width="1.5"/>
<line x1="241.7" y1="809.4" x2="241.7" y2="834.7" stroke-width="1.5"/>
<line x1="237.6" y1="809.4" x2="245.8" y2="809.4" stroke-width="1.5"/>
<line x1="237.6" y1="834.7" x2="245.8" y2="834.7" stroke-width="1.5"/>
<line x1="249.7" y1="803.3" x2="249.7" y2="828.6" stroke-width="1.5"/>
<line x1="245.6" y1="803.3" x2="253.8" y2="803.3" stroke-width="1.5"/>
<line x1="245.6" y1="828.6" x2="253.8" y2="828.6" stroke-width="1.5"/>
<line x1="257.6" y1="801.8" x2="257.6" y2="827.1" stroke-width="1.5"/>
<line x1="253.5" y1="801.8" x2="261.7" y2="801.8" stroke-width="1.5"/>
<line x1="253.5" y1="827.1" x2="261.7" y2="827.1" stroke-width="1.5"/>
<line x1="265.6" y1="805.1" x2="265.6" y2="826.8" stroke-width="1.5"/>
<line x1="261.5" y1="805.1" x2="269.7" y2="805.1" stroke-width="1.5"/>
<line x1="261.5" y1="826.8" x2="269.7" y2="826.8" stroke-width="1.5"/>
<line x1="273.5" y1="803.6" x2="273.5" y2="825.3" stroke-width="1.5"/>
<line x1="269.4" y1="803.6" x2="277.6" y2="803.6" stroke-width="1.5"/>
<line x1="269.4" y1="825.3" x2="277.6" y2="825.3" stroke-width="1.5"/>
<line x1="281.4" y1="806.1" x2="281.4" y2="827.9" stroke-width="1.5"/>
<line x1="277.3" y1="806.1" x2="285.5" y2="806.1" stroke-width="1.5"/>
<line x1="277.3" y1="827.9" x2="285.5" y2="827.9" stroke-width="1.5"/>
<line x1="289.4" y1="808.3" x2="289.4" y2="830.0" stroke-width="1.5"/>
<line x1="285.3" y1="808.3" x2="293.5" y2="808.3" stroke-width="1.5"/>
<line x1="285.3" y1="830.0" x2="293.5" y2="830.0" stroke-width="1.5"/>
<line x1="297.3" y1="805.1" x2="297.3" y2="826.8" stroke-width="1.5"/>
<line x1="293.2" y1="805.1" x2="301.4" y2="805.1" stroke-width="1.5"/>
<line x1="293.2" y1="826.8" x2="301.4" y2="826.8" stroke-width="1.5"/>
<line x1="305.3" y1="799.3" x2="305.3" y2="821.0" stroke-width="1.5"/>
<line x1="301.2" y1="799.3" x2="309.4" y2="799.3" stroke-width="1.5"/>
<line x1="301.2" y1="821.0" x2="309.4" y2="821.0" stroke-width="1.5"/>
<line x1="313.2" y1="799.3" x2="313.2" y2="821.0" stroke-width="1.5"/>
<line x1="309.1" y1="799.3" x2="317.3" y2="799.3" stroke-width="1.5"/>
<line x1="309.1" y1="821.0" x2="317.3" y2="821.0" stroke-width="1.5"/>
<polyline points="75.00,913.30 82.94,913.30 90.88,913.30 98.82,913.30 106.76,913.30 114.70,913.30 122.64,913.30 130.58,913.30 138.52,913.30 146.46,913.30 154.40,913.30 162.34,906.42 170.28,884.34 178.22,865.88 186.16,850.31 194.10,845.61 202.04,837.28 209.98,838.00 217.92,837.28 225.86,839.09 233.80,836.56 241.74,834.02 249.68,834.02 257.62,822.08 265.56,814.47 273.50,810.13 281.44,812.66 289.38,814.47 297.32,815.92 305.26,810.13 313.20,810.13" fill="none" stroke="#000" stroke-width="1.5"/>
<line x1="162.3" y1="902.8" x2="162.3" y2="910.0" stroke-width="1.5"/>
<line x1="158.2" y1="902.8" x2="166.4" y2="902.8" stroke-width="1.5"/>
<line x1="158.2" y1="910.0" x2="166.4" y2="910.0" stroke-width="1.5"/>
<line x1="170.3" y1="875.3" x2="170.3" y2="893.4" stroke-width="1.5"/>
<line x1="166.2" y1="875.3" x2="174.4" y2="875.3" stroke-width="1.5"/>
<line x1="166.2" y1="893.4" x2="174.4" y2="893.4" stroke-width="1.5"/>
<line x1="178.2" y1="855.0" x2="178.2" y2="876.7" stroke-width="1.5"/>
<line x1="174.1" y1="855.0" x2="182.3" y2="855.0" stroke-width="1.5"/>
<line x1="174.1" y1="876.7" x2="182.3" y2="876.7" stroke-width="1.5"/>
<line x1="186.2" y1="839.5" x2="186.2" y2="861.2" stroke-width="1.5"/>
<line x1="182.1" y1="839.5" x2="190.3" y2="839.5" stroke-width="1.5"/>
<line x1="182.1" y1="861.2" x2="190.3" y2="861.2" stroke-width="1.5"/>
<line x1="194.1" y1="834.7" x2="194.1" y2="856.5" stroke-width="1.5"/>
<line x1="190.0" y1="834.7" x2="198.2" y2="834.7" stroke-width="1.5"/>
<line x1="190.0" y1="856.5" x2="198.2" y2="856.5" stroke-width="1.5"/>
<line x1="202.0" y1="822.8" x2="202.0" y2="851.8" stroke-width="1.5"/>
<line x1="197.9" y1="822.8" x2="206.1" y2="822.8" stroke-width="1.5"/>
<line x1="197.9" y1="851.8" x2="206.1" y2="851.8" stroke-width="1.5"/>
<line x1="210.0" y1="821.7" x2="210.0" y2="854.3" stroke-width="1.5"/>
<line x1="205.9" y1="821.7" x2="214.1" y2="821.7" stroke-width="1.5"/>
<line x1="205.9" y1="854.3" x2="214.1" y2="854.3" stroke-width="1.5"/>
<line x1="217.9" y1="822.8" x2="217.9" y2="851.8" stroke-width="1.5"/>
<line x1="213.8" y1="822.8" x2="222.0" y2="822.8" stroke-width="1.5"/>
<line x1="213.8" y1="851.8" x2="222.0" y2="851.8" stroke-width="1.5"/>
<line x1="225.9" y1="824.6" x2="225.9" y2="853.6" stroke-width="1.5"/>
<line x1="221.8" y1="824.6" x2="230.0" y2="824.6" stroke-width="1.5"/>
<line x1="221.8" y1="853.6" x2="230.0" y2="853.6" stroke-width="1.5"/>
<line x1="233.8" y1="822.1" x2="233.8" y2="851.0" stroke-width="1.5"/>
<line x1="229.7" y1="822.1" x2="237.9" y2="822.1" stroke-width="1.5"/>
<line x1="229.7" y1="851.0" x2="237.9" y2="851.0" stroke-width="1.5"/>
<line x1="241.7" y1="817.7" x2="241.7" y2="850.3" stroke-width="1.5"/>
<line x1="237.6" y1="817.7" x2="245.8" y2="817.7" stroke-width="1.5"/>
<line x1="237.6" y1="850.3" x2="245.8" y2="850.3" stroke-width="1.5"/>
<line x1="249.7" y1="817.7" x2="249.7" y2="850.3" stroke-width="1.5"/>
<line x1="245.6" y1="817.7" x2="253.8" y2="817.7" stroke-width="1.5"/>
<line x1="245.6" y1="850.3" x2="253.8" y2="850.3" stroke-width="1.5"/>
<line x1="257.6" y1="809.4" x2="257.6" y2="834.7" stroke-width="1.5"/>
<line x1="253.5" y1="809.4" x2="261.7" y2="809.4" stroke-width="1.5"/>
<line x1="253.5" y1="834.7" x2="261.7" y2="834.7" stroke-width="1.5"/>
<line x1="265.6" y1="801.8" x2="265.6" y2="827.1" stroke-width="1.5"/>
<line x1="261.5" y1="801.8" x2="269.7" y2="801.8" stroke-width="1.5"/>
<line x1="261.5" y1="827.1" x2="269.7" y2="827.1" stroke-width="1.5"/>
<line x1="273.5" y1="797.5" x2="273.5" y2="822.8" stroke-width="1.5"/>
<line x1="269.4" y1="797.5" x2="277.6" y2="797.5" stroke-width="1.5"/>
<line x1="269.4" y1="822.8" x2="277.6" y2="822.8" stroke-width="1.5"/>
<line x1="281.4" y1="801.8" x2="281.4" y2="823.5" stroke-width="1.5"/>
<line x1="277.3" y1="801.8" x2="285.5" y2="801.8" stroke-width="1.5"/>
<line x1="277.3" y1="823.5" x2="285.5" y2="823.5" stroke-width="1.5"/>
<line x1="289.4" y1="803.6" x2="289.4" y2="825.3" stroke-width="1.5"/>
<line x1="285.3" y1="803.6" x2="293.5" y2="803.6" stroke-width="1.5"/>
<line x1="285.3" y1="825.3" x2="293.5" y2="825.3" stroke-width="1.5"/>
<line x1="297.3" y1="805.1" x2="297.3" y2="826.8" stroke-width="1.5"/>
<line x1="293.2" y1="805.1" x2="301.4" y2="805.1" stroke-width="1.5"/>
<line x1="293.2" y1="826.8" x2="301.4" y2="826.8" stroke-width="1.5"/>
<line x1="305.3" y1="799.3" x2="305.3" y2="821.0" stroke-width="1.5"/>
<line x1="301.2" y1="799.3" x2="309.4" y2="799.3" stroke-width="1.5"/>
<line x1="301.2" y1="821.0" x2="309.4" y2="821.0" stroke-width="1.5"/>
<line x1="313.2" y1="799.3" x2="313.2" y2="821.0" stroke-width="1.5"/>
<line x1="309.1" y1="799.3" x2="317.3" y2="799.3" stroke-width="1.5"/>
<line x1="309.1" y1="821.0" x2="317.3" y2="821.0" stroke-width="1.5"/>
<polygon points="154.40,892.73 158.78,900.22 150.03,900.22" fill="#fff" stroke="#000" stroke-width="1.25" stroke-linejoin="miter"/>
<polygon points="162.34,878.97 166.72,886.46 157.97,886.46" fill="#fff" stroke="#000" stroke-width="1.25" stroke-linejoin="miter"/>
<polygon points="170.28,853.63 174.66,861.12 165.91,861.12" fill="#fff" stroke="#000" stroke-width="1.25" stroke-linejoin="miter"/>
<polygon points="178.22,835.89 182.59,843.38 173.84,843.38" fill="#fff" stroke="#000" stroke-width="1.25" stroke-linejoin="miter"/>
<polygon points="186.16,826.84 190.54,834.33 181.79,834.33" fill="#fff" stroke="#000" stroke-width="1.25" stroke-linejoin="miter"/>
<polygon points="194.10,825.40 198.48,832.89 189.73,832.89" fill="#fff" stroke="#000" stroke-width="1.25" stroke-linejoin="miter"/>
<polygon points="202.04,822.50 206.42,829.99 197.67,829.99" fill="#fff" stroke="#000" stroke-width="1.25" stroke-linejoin="miter"/>
<polygon points="209.98,816.71 214.36,824.20 205.61,824.20" fill="#fff" stroke="#000" stroke-width="1.25" stroke-linejoin="miter"/>
<polygon points="217.92,822.50 222.30,829.99 213.55,829.99" fill="#fff" stroke="#000" stroke-width="1.25" stroke-linejoin="miter"/>
<polygon points="225.86,821.05 230.24,828.54 221.49,828.54" fill="#fff" stroke="#000" stroke-width="1.25" stroke-linejoin="miter"/>
<polygon points="233.80,818.16 238.18,825.65 229.43,825.65" fill="#fff" stroke="#000" stroke-width="1.25" stroke-linejoin="miter"/>
<polygon points="241.74,818.16 246.12,825.65 237.37,825.65" fill="#fff" stroke="#000" stroke-width="1.25" stroke-linejoin="miter"/>
<polygon points="249.68,812.00 254.06,819.49 245.31,819.49" fill="#fff" stroke="#000" stroke-width="1.25" stroke-linejoin="miter"/>
<polygon points="257.62,810.55 262.00,818.04 253.25,818.04" fill="#fff" stroke="#000" stroke-width="1.25" stroke-linejoin="miter"/>
<polygon points="265.56,812.00 269.94,819.49 261.19,819.49" fill="#fff" stroke="#000" stroke-width="1.25" stroke-linejoin="miter"/>
<polygon points="273.50,810.55 277.88,818.04 269.12,818.04" fill="#fff" stroke="#000" stroke-width="1.25" stroke-linejoin="miter"/>
<polygon points="281.44,813.09 285.81,820.58 277.06,820.58" fill="#fff" stroke="#000" stroke-width="1.25" stroke-linejoin="miter"/>
<polygon points="289.38,815.26 293.75,822.75 285.00,822.75" fill="#fff" stroke="#000" stroke-width="1.25" stroke-linejoin="miter"/>
<polygon points="297.32,812.00 301.70,819.49 292.95,819.49" fill="#fff" stroke="#000" stroke-width="1.25" stroke-linejoin="miter"/>
<polygon points="305.26,806.21 309.63,813.70 300.88,813.70" fill="#fff" stroke="#000" stroke-width="1.25" stroke-linejoin="miter"/>
<polygon points="313.20,806.21 317.58,813.70 308.83,813.70" fill="#fff" stroke="#000" stroke-width="1.25" stroke-linejoin="miter"/>
<polygon points="75.00,909.27 79.50,916.97 70.50,916.97" fill="#000" stroke="#000" stroke-width="0.6"/>
<polygon points="82.94,909.27 87.44,916.97 78.44,916.97" fill="#000" stroke="#000" stroke-width="0.6"/>
<polygon points="90.88,909.27 95.38,916.97 86.38,916.97" fill="#000" stroke="#000" stroke-width="0.6"/>
<polygon points="98.82,909.27 103.32,916.97 94.32,916.97" fill="#000" stroke="#000" stroke-width="0.6"/>
<polygon points="106.76,909.27 111.26,916.97 102.26,916.97" fill="#000" stroke="#000" stroke-width="0.6"/>
<polygon points="114.70,909.27 119.20,916.97 110.20,916.97" fill="#000" stroke="#000" stroke-width="0.6"/>
<polygon points="122.64,909.27 127.14,916.97 118.14,916.97" fill="#000" stroke="#000" stroke-width="0.6"/>
<polygon points="130.58,909.27 135.08,916.97 126.08,916.97" fill="#000" stroke="#000" stroke-width="0.6"/>
<polygon points="138.52,909.27 143.02,916.97 134.02,916.97" fill="#000" stroke="#000" stroke-width="0.6"/>
<polygon points="146.46,909.27 150.96,916.97 141.96,916.97" fill="#000" stroke="#000" stroke-width="0.6"/>
<polygon points="154.40,909.27 158.90,916.97 149.90,916.97" fill="#000" stroke="#000" stroke-width="0.6"/>
<polygon points="162.34,902.39 166.84,910.09 157.84,910.09" fill="#000" stroke="#000" stroke-width="0.6"/>
<polygon points="170.28,880.31 174.78,888.01 165.78,888.01" fill="#000" stroke="#000" stroke-width="0.6"/>
<polygon points="178.22,861.85 182.72,869.55 173.72,869.55" fill="#000" stroke="#000" stroke-width="0.6"/>
<polygon points="186.16,846.28 190.66,853.98 181.66,853.98" fill="#000" stroke="#000" stroke-width="0.6"/>
<polygon points="194.10,841.57 198.60,849.28 189.60,849.28" fill="#000" stroke="#000" stroke-width="0.6"/>
<polygon points="202.04,833.25 206.54,840.95 197.54,840.95" fill="#000" stroke="#000" stroke-width="0.6"/>
<polygon points="209.98,833.97 214.48,841.68 205.48,841.68" fill="#000" stroke="#000" stroke-width="0.6"/>
<polygon points="217.92,833.25 222.42,840.95 213.42,840.95" fill="#000" stroke="#000" stroke-width="0.6"/>
<polygon points="225.86,835.06 230.36,842.76 221.36,842.76" fill="#000" stroke="#000" stroke-width="0.6"/>
<polygon points="233.80,832.52 238.30,840.23 229.30,840.23" fill="#000" stroke="#000" stroke-width="0.6"/>
<polygon points="241.74,829.99 246.24,837.69 237.24,837.69" fill="#000" stroke="#000" stroke-width="0.6"/>
<polygon points="249.68,829.99 254.18,837.69 245.18,837.69" fill="#000" stroke="#000" stroke-width="0.6"/>
<polygon points="257.62,818.04 262.12,825.75 253.12,825.75" fill="#000" stroke="#000" stroke-width="0.6"/>
<polygon points="265.56,810.44 270.06,818.15 261.06,818.15" fill="#000" stroke="#000" stroke-width="0.6"/>
<polygon points="273.50,806.10 278.00,813.80 269.00,813.80" fill="#000" stroke="#000" stroke-width="0.6"/>
<polygon points="281.44,808.63 285.94,816.34 276.94,816.34" fill="#000" stroke="#000" stroke-width="0.6"/>
<polygon points="289.38,810.44 293.88,818.15 284.88,818.15" fill="#000" stroke="#000" stroke-width="0.6"/>
<polygon points="297.32,811.89 301.82,819.59 292.82,819.59" fill="#000" stroke="#000" stroke-width="0.6"/>
<polygon points="305.26,806.10 309.76,813.80 300.76,813.80" fill="#000" stroke="#000" stroke-width="0.6"/>
<polygon points="313.20,806.10 317.70,813.80 308.70,813.80" fill="#000" stroke="#000" stroke-width="0.6"/>
<text x="357.9" y="715.0" font-size="25" class="tb">F</text>
<line x1="372.6" y1="730.5" x2="372.6" y2="912.1" stroke-width="1.5"/>
<line x1="372.6" y1="911.4" x2="618.7" y2="911.4" stroke-width="1.5"/>
<line x1="368.6" y1="911.4" x2="372.6" y2="911.4" stroke-width="1.5"/>
<text x="368.3" y="916.3" font-size="13.5" text-anchor="end" font-weight="normal">0</text>
<line x1="368.6" y1="875.3" x2="372.6" y2="875.3" stroke-width="1.5"/>
<text x="368.3" y="880.2" font-size="13.5" text-anchor="end" font-weight="normal">1</text>
<line x1="368.6" y1="839.2" x2="372.6" y2="839.2" stroke-width="1.5"/>
<text x="368.3" y="844.1" font-size="13.5" text-anchor="end" font-weight="normal">2</text>
<line x1="368.6" y1="803.1" x2="372.6" y2="803.1" stroke-width="1.5"/>
<text x="368.3" y="808.0" font-size="13.5" text-anchor="end" font-weight="normal">3</text>
<line x1="368.6" y1="767.0" x2="372.6" y2="767.0" stroke-width="1.5"/>
<text x="368.3" y="771.9" font-size="13.5" text-anchor="end" font-weight="normal">4</text>
<line x1="368.6" y1="730.9" x2="372.6" y2="730.9" stroke-width="1.5"/>
<text x="368.3" y="735.8" font-size="13.5" text-anchor="end" font-weight="normal">5</text>
<line x1="380.0" y1="911.4" x2="380.0" y2="913.8" stroke-width="1.1"/>
<line x1="387.9" y1="911.4" x2="387.9" y2="913.8" stroke-width="1.1"/>
<line x1="395.8" y1="911.4" x2="395.8" y2="913.8" stroke-width="1.1"/>
<line x1="403.7" y1="911.4" x2="403.7" y2="913.8" stroke-width="1.1"/>
<line x1="411.7" y1="911.4" x2="411.7" y2="913.8" stroke-width="1.1"/>
<line x1="419.6" y1="911.4" x2="419.6" y2="913.8" stroke-width="1.1"/>
<line x1="427.5" y1="911.4" x2="427.5" y2="913.8" stroke-width="1.1"/>
<line x1="435.4" y1="911.4" x2="435.4" y2="913.8" stroke-width="1.1"/>
<line x1="443.3" y1="911.4" x2="443.3" y2="913.8" stroke-width="1.1"/>
<line x1="451.2" y1="911.4" x2="451.2" y2="913.8" stroke-width="1.1"/>
<line x1="459.1" y1="911.4" x2="459.1" y2="913.8" stroke-width="1.1"/>
<line x1="467.0" y1="911.4" x2="467.0" y2="913.8" stroke-width="1.1"/>
<line x1="475.0" y1="911.4" x2="475.0" y2="913.8" stroke-width="1.1"/>
<line x1="482.9" y1="911.4" x2="482.9" y2="913.8" stroke-width="1.1"/>
<line x1="490.8" y1="911.4" x2="490.8" y2="913.8" stroke-width="1.1"/>
<line x1="498.7" y1="911.4" x2="498.7" y2="913.8" stroke-width="1.1"/>
<line x1="506.6" y1="911.4" x2="506.6" y2="913.8" stroke-width="1.1"/>
<line x1="514.5" y1="911.4" x2="514.5" y2="913.8" stroke-width="1.1"/>
<line x1="522.4" y1="911.4" x2="522.4" y2="913.8" stroke-width="1.1"/>
<line x1="530.3" y1="911.4" x2="530.3" y2="913.8" stroke-width="1.1"/>
<line x1="538.3" y1="911.4" x2="538.3" y2="913.8" stroke-width="1.1"/>
<line x1="546.2" y1="911.4" x2="546.2" y2="913.8" stroke-width="1.1"/>
<line x1="554.1" y1="911.4" x2="554.1" y2="913.8" stroke-width="1.1"/>
<line x1="562.0" y1="911.4" x2="562.0" y2="913.8" stroke-width="1.1"/>
<line x1="569.9" y1="911.4" x2="569.9" y2="913.8" stroke-width="1.1"/>
<line x1="577.8" y1="911.4" x2="577.8" y2="913.8" stroke-width="1.1"/>
<line x1="585.7" y1="911.4" x2="585.7" y2="913.8" stroke-width="1.1"/>
<line x1="593.7" y1="911.4" x2="593.7" y2="913.8" stroke-width="1.1"/>
<line x1="601.6" y1="911.4" x2="601.6" y2="913.8" stroke-width="1.1"/>
<line x1="609.5" y1="911.4" x2="609.5" y2="913.8" stroke-width="1.1"/>
<line x1="617.4" y1="911.4" x2="617.4" y2="913.8" stroke-width="1.1"/>
<line x1="380.0" y1="911.4" x2="380.0" y2="915.4" stroke-width="1.5"/>
<text x="379.3" y="931.9" font-size="13.5" text-anchor="middle" font-weight="normal">0</text>
<line x1="419.6" y1="911.4" x2="419.6" y2="915.4" stroke-width="1.5"/>
<text x="418.9" y="931.9" font-size="13.5" text-anchor="middle" font-weight="normal">5</text>
<line x1="459.1" y1="911.4" x2="459.1" y2="915.4" stroke-width="1.5"/>
<text x="457.6" y="931.9" font-size="13.5" text-anchor="middle" font-weight="normal">10</text>
<line x1="498.7" y1="911.4" x2="498.7" y2="915.4" stroke-width="1.5"/>
<text x="497.2" y="931.9" font-size="13.5" text-anchor="middle" font-weight="normal">15</text>
<line x1="538.3" y1="911.4" x2="538.3" y2="915.4" stroke-width="1.5"/>
<text x="536.8" y="931.9" font-size="13.5" text-anchor="middle" font-weight="normal">20</text>
<line x1="577.8" y1="911.4" x2="577.8" y2="915.4" stroke-width="1.5"/>
<text x="576.3" y="931.9" font-size="13.5" text-anchor="middle" font-weight="normal">25</text>
<line x1="617.4" y1="911.4" x2="617.4" y2="915.4" stroke-width="1.5"/>
<text x="615.9" y="931.9" font-size="13.5" text-anchor="middle" font-weight="normal">30</text>
<text x="506.8" y="945.0" font-size="16.3" text-anchor="middle" font-weight="normal" textLength="188.9" lengthAdjust="spacingAndGlyphs">Time post immunization (d)</text>
<text transform="translate(352.7,829.7) rotate(-90)" x="0" y="0" font-size="16.5" text-anchor="middle" textLength="189.0" lengthAdjust="spacingAndGlyphs">Mean Clinical Score ± SEM</text>
<polygon points="386.80,724.97 390.83,729.00 386.80,733.03 382.77,729.00" fill="#fff" stroke="#000" stroke-width="1.3"/>
<line x1="381.5" y1="729.0" x2="392.0" y2="729.0" stroke-width="1.2"/>
<polygon points="386.80,739.29 391.31,743.80 386.80,748.31 382.29,743.80" fill="#000" stroke="#000" stroke-width="0.6"/>
<text x="394.0" y="734.4" font-size="15" text-anchor="start" font-weight="normal" textLength="190.0" lengthAdjust="spacingAndGlyphs">LM-OVA Infection IFN-γ-KO</text>
<text x="394.0" y="749.2" font-size="15" text-anchor="start" font-weight="normal" textLength="186.0" lengthAdjust="spacingAndGlyphs">LM-PLP Infection IFN-γ-KO</text>
<polyline points="380.00,911.40 387.91,911.40 395.83,911.40 403.74,911.40 411.65,911.40 419.56,911.40 427.48,911.40 435.39,911.40 443.30,911.40 451.22,911.40 459.13,911.40 467.04,902.74 474.96,878.91 482.87,873.86 490.78,833.78 498.69,829.45 506.61,815.37 514.52,810.32 522.43,810.32 530.35,811.76 538.26,810.32 546.17,810.32 554.09,804.18 562.00,799.13 569.91,799.13 577.83,800.93 585.74,800.93 593.65,800.93 601.56,801.66 609.48,795.88 617.39,796.24" fill="none" stroke="#000" stroke-width="1.5"/>
<line x1="467.0" y1="897.3" x2="467.0" y2="908.2" stroke-width="1.5"/>
<line x1="462.9" y1="897.3" x2="471.1" y2="897.3" stroke-width="1.5"/>
<line x1="462.9" y1="908.2" x2="471.1" y2="908.2" stroke-width="1.5"/>
<line x1="475.0" y1="873.5" x2="475.0" y2="884.3" stroke-width="1.5"/>
<line x1="470.9" y1="873.5" x2="479.1" y2="873.5" stroke-width="1.5"/>
<line x1="470.9" y1="884.3" x2="479.1" y2="884.3" stroke-width="1.5"/>
<line x1="482.9" y1="868.4" x2="482.9" y2="879.3" stroke-width="1.5"/>
<line x1="478.8" y1="868.4" x2="487.0" y2="868.4" stroke-width="1.5"/>
<line x1="478.8" y1="879.3" x2="487.0" y2="879.3" stroke-width="1.5"/>
<line x1="490.8" y1="823.0" x2="490.8" y2="844.6" stroke-width="1.5"/>
<line x1="486.7" y1="823.0" x2="494.9" y2="823.0" stroke-width="1.5"/>
<line x1="486.7" y1="844.6" x2="494.9" y2="844.6" stroke-width="1.5"/>
<line x1="498.7" y1="818.6" x2="498.7" y2="840.3" stroke-width="1.5"/>
<line x1="494.6" y1="818.6" x2="502.8" y2="818.6" stroke-width="1.5"/>
<line x1="494.6" y1="840.3" x2="502.8" y2="840.3" stroke-width="1.5"/>
<line x1="506.6" y1="804.5" x2="506.6" y2="826.2" stroke-width="1.5"/>
<line x1="502.5" y1="804.5" x2="510.7" y2="804.5" stroke-width="1.5"/>
<line x1="502.5" y1="826.2" x2="510.7" y2="826.2" stroke-width="1.5"/>
<line x1="514.5" y1="799.5" x2="514.5" y2="821.1" stroke-width="1.5"/>
<line x1="510.4" y1="799.5" x2="518.6" y2="799.5" stroke-width="1.5"/>
<line x1="510.4" y1="821.1" x2="518.6" y2="821.1" stroke-width="1.5"/>
<line x1="522.4" y1="799.5" x2="522.4" y2="821.1" stroke-width="1.5"/>
<line x1="518.3" y1="799.5" x2="526.5" y2="799.5" stroke-width="1.5"/>
<line x1="518.3" y1="821.1" x2="526.5" y2="821.1" stroke-width="1.5"/>
<line x1="530.3" y1="800.9" x2="530.3" y2="822.6" stroke-width="1.5"/>
<line x1="526.2" y1="800.9" x2="534.4" y2="800.9" stroke-width="1.5"/>
<line x1="526.2" y1="822.6" x2="534.4" y2="822.6" stroke-width="1.5"/>
<line x1="538.3" y1="799.5" x2="538.3" y2="821.1" stroke-width="1.5"/>
<line x1="534.2" y1="799.5" x2="542.4" y2="799.5" stroke-width="1.5"/>
<line x1="534.2" y1="821.1" x2="542.4" y2="821.1" stroke-width="1.5"/>
<line x1="546.2" y1="799.5" x2="546.2" y2="821.1" stroke-width="1.5"/>
<line x1="542.1" y1="799.5" x2="550.3" y2="799.5" stroke-width="1.5"/>
<line x1="542.1" y1="821.1" x2="550.3" y2="821.1" stroke-width="1.5"/>
<line x1="554.1" y1="791.5" x2="554.1" y2="816.8" stroke-width="1.5"/>
<line x1="550.0" y1="791.5" x2="558.2" y2="791.5" stroke-width="1.5"/>
<line x1="550.0" y1="816.8" x2="558.2" y2="816.8" stroke-width="1.5"/>
<line x1="562.0" y1="786.5" x2="562.0" y2="811.8" stroke-width="1.5"/>
<line x1="557.9" y1="786.5" x2="566.1" y2="786.5" stroke-width="1.5"/>
<line x1="557.9" y1="811.8" x2="566.1" y2="811.8" stroke-width="1.5"/>
<line x1="569.9" y1="786.5" x2="569.9" y2="811.8" stroke-width="1.5"/>
<line x1="565.8" y1="786.5" x2="574.0" y2="786.5" stroke-width="1.5"/>
<line x1="565.8" y1="811.8" x2="574.0" y2="811.8" stroke-width="1.5"/>
<line x1="577.8" y1="788.3" x2="577.8" y2="813.6" stroke-width="1.5"/>
<line x1="573.7" y1="788.3" x2="581.9" y2="788.3" stroke-width="1.5"/>
<line x1="573.7" y1="813.6" x2="581.9" y2="813.6" stroke-width="1.5"/>
<line x1="585.7" y1="790.1" x2="585.7" y2="811.8" stroke-width="1.5"/>
<line x1="581.6" y1="790.1" x2="589.8" y2="790.1" stroke-width="1.5"/>
<line x1="581.6" y1="811.8" x2="589.8" y2="811.8" stroke-width="1.5"/>
<line x1="593.7" y1="790.1" x2="593.7" y2="811.8" stroke-width="1.5"/>
<line x1="589.6" y1="790.1" x2="597.8" y2="790.1" stroke-width="1.5"/>
<line x1="589.6" y1="811.8" x2="597.8" y2="811.8" stroke-width="1.5"/>
<line x1="601.6" y1="790.8" x2="601.6" y2="812.5" stroke-width="1.5"/>
<line x1="597.5" y1="790.8" x2="605.7" y2="790.8" stroke-width="1.5"/>
<line x1="597.5" y1="812.5" x2="605.7" y2="812.5" stroke-width="1.5"/>
<line x1="609.5" y1="785.0" x2="609.5" y2="806.7" stroke-width="1.5"/>
<line x1="605.4" y1="785.0" x2="613.6" y2="785.0" stroke-width="1.5"/>
<line x1="605.4" y1="806.7" x2="613.6" y2="806.7" stroke-width="1.5"/>
<line x1="617.4" y1="785.4" x2="617.4" y2="807.1" stroke-width="1.5"/>
<line x1="613.3" y1="785.4" x2="621.5" y2="785.4" stroke-width="1.5"/>
<line x1="613.3" y1="807.1" x2="621.5" y2="807.1" stroke-width="1.5"/>
<polyline points="380.00,911.40 387.91,911.40 395.83,911.40 403.74,911.40 411.65,911.40 419.56,911.40 427.48,911.40 435.39,911.40 443.30,911.40 451.22,911.40 459.13,909.60 467.04,896.60 474.96,878.91 482.87,858.69 490.78,850.75 498.69,844.62 506.61,832.34 514.52,819.35 522.43,816.46 530.35,814.65 538.26,814.65 546.17,814.65 554.09,814.65 562.00,816.46 569.91,804.18 577.83,803.10 585.74,804.18 593.65,803.10 601.56,799.49 609.48,798.77 617.39,798.77" fill="none" stroke="#000" stroke-width="1.5"/>
<line x1="467.0" y1="889.4" x2="467.0" y2="903.8" stroke-width="1.5"/>
<line x1="462.9" y1="889.4" x2="471.1" y2="889.4" stroke-width="1.5"/>
<line x1="462.9" y1="903.8" x2="471.1" y2="903.8" stroke-width="1.5"/>
<line x1="475.0" y1="873.5" x2="475.0" y2="884.3" stroke-width="1.5"/>
<line x1="470.9" y1="873.5" x2="479.1" y2="873.5" stroke-width="1.5"/>
<line x1="470.9" y1="884.3" x2="479.1" y2="884.3" stroke-width="1.5"/>
<line x1="482.9" y1="851.5" x2="482.9" y2="865.9" stroke-width="1.5"/>
<line x1="478.8" y1="851.5" x2="487.0" y2="851.5" stroke-width="1.5"/>
<line x1="478.8" y1="865.9" x2="487.0" y2="865.9" stroke-width="1.5"/>
<line x1="490.8" y1="841.7" x2="490.8" y2="859.8" stroke-width="1.5"/>
<line x1="486.7" y1="841.7" x2="494.9" y2="841.7" stroke-width="1.5"/>
<line x1="486.7" y1="859.8" x2="494.9" y2="859.8" stroke-width="1.5"/>
<line x1="498.7" y1="833.8" x2="498.7" y2="855.4" stroke-width="1.5"/>
<line x1="494.6" y1="833.8" x2="502.8" y2="833.8" stroke-width="1.5"/>
<line x1="494.6" y1="855.4" x2="502.8" y2="855.4" stroke-width="1.5"/>
<line x1="506.6" y1="821.5" x2="506.6" y2="843.2" stroke-width="1.5"/>
<line x1="502.5" y1="821.5" x2="510.7" y2="821.5" stroke-width="1.5"/>
<line x1="502.5" y1="843.2" x2="510.7" y2="843.2" stroke-width="1.5"/>
<line x1="514.5" y1="808.5" x2="514.5" y2="830.2" stroke-width="1.5"/>
<line x1="510.4" y1="808.5" x2="518.6" y2="808.5" stroke-width="1.5"/>
<line x1="510.4" y1="830.2" x2="518.6" y2="830.2" stroke-width="1.5"/>
<line x1="522.4" y1="805.6" x2="522.4" y2="827.3" stroke-width="1.5"/>
<line x1="518.3" y1="805.6" x2="526.5" y2="805.6" stroke-width="1.5"/>
<line x1="518.3" y1="827.3" x2="526.5" y2="827.3" stroke-width="1.5"/>
<line x1="530.3" y1="803.8" x2="530.3" y2="825.5" stroke-width="1.5"/>
<line x1="526.2" y1="803.8" x2="534.4" y2="803.8" stroke-width="1.5"/>
<line x1="526.2" y1="825.5" x2="534.4" y2="825.5" stroke-width="1.5"/>
<line x1="538.3" y1="803.8" x2="538.3" y2="825.5" stroke-width="1.5"/>
<line x1="534.2" y1="803.8" x2="542.4" y2="803.8" stroke-width="1.5"/>
<line x1="534.2" y1="825.5" x2="542.4" y2="825.5" stroke-width="1.5"/>
<line x1="546.2" y1="803.8" x2="546.2" y2="825.5" stroke-width="1.5"/>
<line x1="542.1" y1="803.8" x2="550.3" y2="803.8" stroke-width="1.5"/>
<line x1="542.1" y1="825.5" x2="550.3" y2="825.5" stroke-width="1.5"/>
<line x1="554.1" y1="803.8" x2="554.1" y2="825.5" stroke-width="1.5"/>
<line x1="550.0" y1="803.8" x2="558.2" y2="803.8" stroke-width="1.5"/>
<line x1="550.0" y1="825.5" x2="558.2" y2="825.5" stroke-width="1.5"/>
<line x1="562.0" y1="805.6" x2="562.0" y2="827.3" stroke-width="1.5"/>
<line x1="557.9" y1="805.6" x2="566.1" y2="805.6" stroke-width="1.5"/>
<line x1="557.9" y1="827.3" x2="566.1" y2="827.3" stroke-width="1.5"/>
<line x1="569.9" y1="791.5" x2="569.9" y2="816.8" stroke-width="1.5"/>
<line x1="565.8" y1="791.5" x2="574.0" y2="791.5" stroke-width="1.5"/>
<line x1="565.8" y1="816.8" x2="574.0" y2="816.8" stroke-width="1.5"/>
<line x1="577.8" y1="790.5" x2="577.8" y2="815.7" stroke-width="1.5"/>
<line x1="573.7" y1="790.5" x2="581.9" y2="790.5" stroke-width="1.5"/>
<line x1="573.7" y1="815.7" x2="581.9" y2="815.7" stroke-width="1.5"/>
<line x1="585.7" y1="793.4" x2="585.7" y2="815.0" stroke-width="1.5"/>
<line x1="581.6" y1="793.4" x2="589.8" y2="793.4" stroke-width="1.5"/>
<line x1="581.6" y1="815.0" x2="589.8" y2="815.0" stroke-width="1.5"/>
<line x1="593.7" y1="792.3" x2="593.7" y2="813.9" stroke-width="1.5"/>
<line x1="589.6" y1="792.3" x2="597.8" y2="792.3" stroke-width="1.5"/>
<line x1="589.6" y1="813.9" x2="597.8" y2="813.9" stroke-width="1.5"/>
<line x1="601.6" y1="788.7" x2="601.6" y2="810.3" stroke-width="1.5"/>
<line x1="597.5" y1="788.7" x2="605.7" y2="788.7" stroke-width="1.5"/>
<line x1="597.5" y1="810.3" x2="605.7" y2="810.3" stroke-width="1.5"/>
<line x1="609.5" y1="787.9" x2="609.5" y2="809.6" stroke-width="1.5"/>
<line x1="605.4" y1="787.9" x2="613.6" y2="787.9" stroke-width="1.5"/>
<line x1="605.4" y1="809.6" x2="613.6" y2="809.6" stroke-width="1.5"/>
<line x1="617.4" y1="787.9" x2="617.4" y2="809.6" stroke-width="1.5"/>
<line x1="613.3" y1="787.9" x2="621.5" y2="787.9" stroke-width="1.5"/>
<line x1="613.3" y1="809.6" x2="621.5" y2="809.6" stroke-width="1.5"/>
<polygon points="380.00,907.13 384.27,911.40 380.00,915.67 375.73,911.40" fill="#000" stroke="#000" stroke-width="0.6"/>
<polygon points="387.91,907.13 392.18,911.40 387.91,915.67 383.64,911.40" fill="#000" stroke="#000" stroke-width="0.6"/>
<polygon points="395.83,907.13 400.10,911.40 395.83,915.67 391.56,911.40" fill="#000" stroke="#000" stroke-width="0.6"/>
<polygon points="403.74,907.13 408.01,911.40 403.74,915.67 399.47,911.40" fill="#000" stroke="#000" stroke-width="0.6"/>
<polygon points="411.65,907.13 415.92,911.40 411.65,915.67 407.38,911.40" fill="#000" stroke="#000" stroke-width="0.6"/>
<polygon points="419.56,907.13 423.83,911.40 419.56,915.67 415.30,911.40" fill="#000" stroke="#000" stroke-width="0.6"/>
<polygon points="427.48,907.13 431.75,911.40 427.48,915.67 423.21,911.40" fill="#000" stroke="#000" stroke-width="0.6"/>
<polygon points="435.39,907.13 439.66,911.40 435.39,915.67 431.12,911.40" fill="#000" stroke="#000" stroke-width="0.6"/>
<polygon points="443.30,907.13 447.57,911.40 443.30,915.67 439.03,911.40" fill="#000" stroke="#000" stroke-width="0.6"/>
<polygon points="451.22,907.13 455.49,911.40 451.22,915.67 446.95,911.40" fill="#000" stroke="#000" stroke-width="0.6"/>
<polygon points="459.13,907.13 463.40,911.40 459.13,915.67 454.86,911.40" fill="#000" stroke="#000" stroke-width="0.6"/>
<polygon points="467.04,898.47 471.31,902.74 467.04,907.01 462.77,902.74" fill="#000" stroke="#000" stroke-width="0.6"/>
<polygon points="474.96,874.64 479.23,878.91 474.96,883.18 470.69,878.91" fill="#000" stroke="#000" stroke-width="0.6"/>
<polygon points="482.87,869.59 487.14,873.86 482.87,878.13 478.60,873.86" fill="#000" stroke="#000" stroke-width="0.6"/>
<polygon points="490.78,829.51 495.05,833.78 490.78,838.05 486.51,833.78" fill="#000" stroke="#000" stroke-width="0.6"/>
<polygon points="498.69,825.18 502.96,829.45 498.69,833.72 494.43,829.45" fill="#000" stroke="#000" stroke-width="0.6"/>
<polygon points="506.61,811.10 510.88,815.37 506.61,819.64 502.34,815.37" fill="#000" stroke="#000" stroke-width="0.6"/>
<polygon points="514.52,806.05 518.79,810.32 514.52,814.59 510.25,810.32" fill="#000" stroke="#000" stroke-width="0.6"/>
<polygon points="522.43,806.05 526.70,810.32 522.43,814.59 518.16,810.32" fill="#000" stroke="#000" stroke-width="0.6"/>
<polygon points="530.35,807.49 534.62,811.76 530.35,816.03 526.08,811.76" fill="#000" stroke="#000" stroke-width="0.6"/>
<polygon points="538.26,806.05 542.53,810.32 538.26,814.59 533.99,810.32" fill="#000" stroke="#000" stroke-width="0.6"/>
<polygon points="546.17,806.05 550.44,810.32 546.17,814.59 541.90,810.32" fill="#000" stroke="#000" stroke-width="0.6"/>
<polygon points="554.09,799.91 558.36,804.18 554.09,808.45 549.82,804.18" fill="#000" stroke="#000" stroke-width="0.6"/>
<polygon points="562.00,794.86 566.27,799.13 562.00,803.40 557.73,799.13" fill="#000" stroke="#000" stroke-width="0.6"/>
<polygon points="569.91,794.86 574.18,799.13 569.91,803.40 565.64,799.13" fill="#000" stroke="#000" stroke-width="0.6"/>
<polygon points="577.83,796.66 582.10,800.93 577.83,805.20 573.56,800.93" fill="#000" stroke="#000" stroke-width="0.6"/>
<polygon points="585.74,796.66 590.01,800.93 585.74,805.20 581.47,800.93" fill="#000" stroke="#000" stroke-width="0.6"/>
<polygon points="593.65,796.66 597.92,800.93 593.65,805.20 589.38,800.93" fill="#000" stroke="#000" stroke-width="0.6"/>
<polygon points="601.56,797.39 605.83,801.66 601.56,805.93 597.29,801.66" fill="#000" stroke="#000" stroke-width="0.6"/>
<polygon points="609.48,791.61 613.75,795.88 609.48,800.15 605.21,795.88" fill="#000" stroke="#000" stroke-width="0.6"/>
<polygon points="617.39,791.97 621.66,796.24 617.39,800.51 613.12,796.24" fill="#000" stroke="#000" stroke-width="0.6"/>
<polygon points="459.13,905.69 463.03,909.60 459.13,913.50 455.23,909.60" fill="#fff" stroke="#000" stroke-width="1.25"/>
<polygon points="467.04,892.69 470.95,896.60 467.04,900.50 463.14,896.60" fill="#fff" stroke="#000" stroke-width="1.25"/>
<polygon points="474.96,875.01 478.86,878.91 474.96,882.81 471.05,878.91" fill="#fff" stroke="#000" stroke-width="1.25"/>
<polygon points="482.87,854.79 486.77,858.69 482.87,862.60 478.97,858.69" fill="#fff" stroke="#000" stroke-width="1.25"/>
<polygon points="490.78,846.85 494.69,850.75 490.78,854.66 486.88,850.75" fill="#fff" stroke="#000" stroke-width="1.25"/>
<polygon points="498.69,840.71 502.60,844.62 498.69,848.52 494.79,844.62" fill="#fff" stroke="#000" stroke-width="1.25"/>
<polygon points="506.61,828.44 510.51,832.34 506.61,836.25 502.70,832.34" fill="#fff" stroke="#000" stroke-width="1.25"/>
<polygon points="514.52,815.44 518.42,819.35 514.52,823.25 510.62,819.35" fill="#fff" stroke="#000" stroke-width="1.25"/>
<polygon points="522.43,812.55 526.34,816.46 522.43,820.36 518.53,816.46" fill="#fff" stroke="#000" stroke-width="1.25"/>
<polygon points="530.35,810.75 534.25,814.65 530.35,818.56 526.44,814.65" fill="#fff" stroke="#000" stroke-width="1.25"/>
<polygon points="538.26,810.75 542.16,814.65 538.26,818.56 534.36,814.65" fill="#fff" stroke="#000" stroke-width="1.25"/>
<polygon points="546.17,810.75 550.08,814.65 546.17,818.56 542.27,814.65" fill="#fff" stroke="#000" stroke-width="1.25"/>
<polygon points="554.09,810.75 557.99,814.65 554.09,818.56 550.18,814.65" fill="#fff" stroke="#000" stroke-width="1.25"/>
<polygon points="562.00,812.55 565.90,816.46 562.00,820.36 558.10,816.46" fill="#fff" stroke="#000" stroke-width="1.25"/>
<polygon points="569.91,800.28 573.82,804.18 569.91,808.09 566.01,804.18" fill="#fff" stroke="#000" stroke-width="1.25"/>
<polygon points="577.83,799.20 581.73,803.10 577.83,807.00 573.92,803.10" fill="#fff" stroke="#000" stroke-width="1.25"/>
<polygon points="585.74,800.28 589.64,804.18 585.74,808.09 581.83,804.18" fill="#fff" stroke="#000" stroke-width="1.25"/>
<polygon points="593.65,799.20 597.56,803.10 593.65,807.00 589.75,803.10" fill="#fff" stroke="#000" stroke-width="1.25"/>
<polygon points="601.56,795.59 605.47,799.49 601.56,803.39 597.66,799.49" fill="#fff" stroke="#000" stroke-width="1.25"/>
<polygon points="609.48,794.86 613.38,798.77 609.48,802.67 605.57,798.77" fill="#fff" stroke="#000" stroke-width="1.25"/>
<polygon points="617.39,794.86 621.29,798.77 617.39,802.67 613.49,798.77" fill="#fff" stroke="#000" stroke-width="1.25"/>
<rect x="40.6" y="955.6" width="306.8" height="101.4" fill="none" stroke="#000" stroke-width="1.7"/>
<line x1="109.4" y1="955.6" x2="109.4" y2="1057.0" stroke-width="1.7"/>
<line x1="167.6" y1="955.6" x2="167.6" y2="1057.0" stroke-width="1.7"/>
<line x1="220.0" y1="955.6" x2="220.0" y2="1057.0" stroke-width="1.7"/>
<line x1="278.6" y1="955.6" x2="278.6" y2="1057.0" stroke-width="1.7"/>
<line x1="40.6" y1="982.0" x2="347.4" y2="982.0" stroke-width="1.7"/>
<line x1="40.6" y1="1020.0" x2="347.4" y2="1020.0" stroke-width="1.7"/>
<rect x="365.5" y="955.8" width="307.0" height="101.2" fill="none" stroke="#000" stroke-width="1.7"/>
<line x1="433.6" y1="955.8" x2="433.6" y2="1057.0" stroke-width="1.7"/>
<line x1="491.0" y1="955.8" x2="491.0" y2="1057.0" stroke-width="1.7"/>
<line x1="544.3" y1="955.8" x2="544.3" y2="1057.0" stroke-width="1.7"/>
<line x1="603.5" y1="955.8" x2="603.5" y2="1057.0" stroke-width="1.7"/>
<line x1="365.5" y1="981.8" x2="672.5" y2="981.8" stroke-width="1.7"/>
<line x1="365.5" y1="1019.8" x2="672.5" y2="1019.8" stroke-width="1.7"/>
<text x="75.0" y="975.8" font-size="13.2" text-anchor="middle" font-weight="normal" class="tb">Infection</text>
<text x="138.5" y="975.8" font-size="13.2" text-anchor="middle" font-weight="normal" class="tb">Onset</text>
<text x="193.8" y="975.8" font-size="13.2" text-anchor="middle" font-weight="normal" class="tb">Peak</text>
<text x="249.3" y="975.8" font-size="13.2" text-anchor="middle" font-weight="normal" class="tb">Mortality</text>
<text x="313.0" y="975.8" font-size="13.2" text-anchor="middle" font-weight="normal" class="tb">CDI</text>
<text x="75.0" y="999.9" font-size="12.4" text-anchor="middle" font-weight="normal" class="tb">LM-OVA</text>
<text x="75.0" y="1014.5" font-size="12.4" text-anchor="middle" font-weight="normal" class="tb">121-386</text>
<text x="75.0" y="1037.2" font-size="12.4" text-anchor="middle" font-weight="normal" class="tb">LM-PLP</text>
<text x="75.0" y="1051.5" font-size="12.4" text-anchor="middle" font-weight="normal" class="tb">175-194</text>
<text x="138.5" y="1006.6" font-size="11.6" text-anchor="middle" font-weight="normal" class="tb">11 ± 0.2</text>
<text x="193.8" y="1006.6" font-size="11.6" text-anchor="middle" font-weight="normal" class="tb">3.1 ± 0.3</text>
<text x="249.3" y="1006.6" font-size="11.6" text-anchor="middle" font-weight="normal" class="tb">2/14</text>
<text x="313.0" y="1006.6" font-size="11.6" text-anchor="middle" font-weight="normal" class="tb">48.5 ± 5.1</text>
<text x="138.5" y="1043.2" font-size="11.6" text-anchor="middle" font-weight="normal" class="tb">12.1 ± 0.2</text>
<text x="193.8" y="1043.2" font-size="11.6" text-anchor="middle" font-weight="normal" class="tb">3.2 ± 0.3</text>
<text x="249.3" y="1043.2" font-size="11.6" text-anchor="middle" font-weight="normal" class="tb">2/16</text>
<text x="313.0" y="1043.2" font-size="11.6" text-anchor="middle" font-weight="normal" class="tb">42.9 ± 4.9</text>
<text x="399.6" y="975.8" font-size="13.2" text-anchor="middle" font-weight="normal" class="tb">Infection</text>
<text x="462.3" y="975.8" font-size="13.2" text-anchor="middle" font-weight="normal" class="tb">Onset</text>
<text x="517.6" y="975.8" font-size="13.2" text-anchor="middle" font-weight="normal" class="tb">Peak</text>
<text x="573.9" y="975.8" font-size="13.2" text-anchor="middle" font-weight="normal" class="tb">Mortality</text>
<text x="638.0" y="975.8" font-size="13.2" text-anchor="middle" font-weight="normal" class="tb">CDI</text>
<text x="399.6" y="999.9" font-size="12.4" text-anchor="middle" font-weight="normal" class="tb">LM-OVA</text>
<text x="399.6" y="1014.5" font-size="12.4" text-anchor="middle" font-weight="normal" class="tb">121-386</text>
<text x="399.6" y="1037.2" font-size="12.4" text-anchor="middle" font-weight="normal" class="tb">LM-PLP</text>
<text x="399.6" y="1051.5" font-size="12.4" text-anchor="middle" font-weight="normal" class="tb">175-194</text>
<text x="462.3" y="1006.5" font-size="11.4" text-anchor="middle" font-weight="normal" class="tb">11.8 ± 0.4</text>
<text x="517.6" y="1006.5" font-size="11.4" text-anchor="middle" font-weight="normal" class="tb">3.4 ± 0.2</text>
<text x="573.9" y="1006.5" font-size="11.4" text-anchor="middle" font-weight="normal" class="tb">2/14</text>
<text x="638.0" y="1006.5" font-size="11.4" text-anchor="middle" font-weight="normal" class="tb">48.9 ± 3.8</text>
<text x="462.3" y="1043.1" font-size="11.4" text-anchor="middle" font-weight="normal" class="tb">11.9 ± 0.2</text>
<text x="517.6" y="1043.1" font-size="11.4" text-anchor="middle" font-weight="normal" class="tb">3.5 ± 0.3</text>
<text x="573.9" y="1043.1" font-size="11.4" text-anchor="middle" font-weight="normal" class="tb">3/15</text>
<text x="638.0" y="1043.1" font-size="11.4" text-anchor="middle" font-weight="normal" class="tb">51.2 ± 5.5</text>
<text x="0.9" y="1079.3" font-size="25" class="tb">G</text>
<line x1="133.7" y1="1089.0" x2="133.7" y2="1349.2" stroke-width="1.5"/>
<line x1="133.7" y1="1349.2" x2="308.2" y2="1349.2" stroke-width="1.5"/>
<line x1="126.7" y1="1349.2" x2="133.7" y2="1349.2" stroke-width="1.5"/>
<text x="117.5" y="1354.9" font-size="15.8" text-anchor="end" font-weight="normal" letter-spacing="1.2" class="tb">0.0</text>
<line x1="126.7" y1="1262.5" x2="133.7" y2="1262.5" stroke-width="1.5"/>
<text x="117.5" y="1268.1" font-size="15.8" text-anchor="end" font-weight="normal" letter-spacing="1.2" class="tb">0.5</text>
<line x1="126.7" y1="1175.7" x2="133.7" y2="1175.7" stroke-width="1.5"/>
<text x="117.5" y="1181.4" font-size="15.8" text-anchor="end" font-weight="normal" letter-spacing="1.2" class="tb">1.0</text>
<line x1="126.7" y1="1089.0" x2="133.7" y2="1089.0" stroke-width="1.5"/>
<text x="117.5" y="1094.6" font-size="15.8" text-anchor="end" font-weight="normal" letter-spacing="1.2" class="tb">1.5</text>
<text transform="translate(73.8,1219.5) rotate(-90)" x="0" y="0" font-size="16.3" text-anchor="middle" textLength="135.0" lengthAdjust="spacingAndGlyphs">Inflammation Score</text>
<rect x="158.5" y="1202.1" width="49.5" height="147.1" fill="#fff" stroke="#000" stroke-width="1.6"/>
<line x1="183.2" y1="1183.0" x2="183.2" y2="1202.1" stroke-width="1.6"/>
<line x1="170.4" y1="1183.0" x2="196.1" y2="1183.0" stroke-width="1.6"/>
<line x1="183.2" y1="1349.2" x2="183.2" y2="1356.2" stroke-width="1.5"/>
<rect x="232.6" y="1297.2" width="49.8" height="52.0" fill="#111" stroke="#000" stroke-width="1.6"/>
<line x1="257.5" y1="1284.1" x2="257.5" y2="1297.2" stroke-width="1.6"/>
<line x1="244.7" y1="1284.1" x2="270.3" y2="1284.1" stroke-width="1.6"/>
<line x1="257.5" y1="1349.2" x2="257.5" y2="1356.2" stroke-width="1.5"/>
<line x1="183.1" y1="1163.2" x2="250.4" y2="1163.2" stroke-width="1.7"/>
<text x="216.6" y="1163.2" font-size="17" text-anchor="middle" font-weight="normal">***</text>
<text x="183.4" y="1374.1" font-size="15.5" text-anchor="middle" font-weight="normal">LM</text>
<text x="183.4" y="1392.8" font-size="15.5" text-anchor="middle" font-weight="normal">OVA</text>
<text x="259.3" y="1374.1" font-size="15.5" text-anchor="middle" font-weight="normal">LM</text>
<text x="259.3" y="1392.8" font-size="15.5" text-anchor="middle" font-weight="normal">PLP</text>
<text x="355.0" y="1081.8" font-size="25" class="tb">H</text>
<line x1="414.2" y1="1095.5" x2="414.2" y2="1347.8" stroke-width="1.5"/>
<line x1="414.2" y1="1347.8" x2="585.7" y2="1347.8" stroke-width="1.5"/>
<line x1="407.2" y1="1347.8" x2="414.2" y2="1347.8" stroke-width="1.5"/>
<text x="399.0" y="1354.7" font-size="15.8" text-anchor="end" font-weight="normal" letter-spacing="1.2" class="tb">0.0</text>
<line x1="407.2" y1="1263.7" x2="414.2" y2="1263.7" stroke-width="1.5"/>
<text x="399.0" y="1270.6" font-size="15.8" text-anchor="end" font-weight="normal" letter-spacing="1.2" class="tb">0.5</text>
<line x1="407.2" y1="1179.6" x2="414.2" y2="1179.6" stroke-width="1.5"/>
<text x="399.0" y="1186.5" font-size="15.8" text-anchor="end" font-weight="normal" letter-spacing="1.2" class="tb">1.0</text>
<line x1="407.2" y1="1095.5" x2="414.2" y2="1095.5" stroke-width="1.5"/>
<text x="399.0" y="1102.4" font-size="15.8" text-anchor="end" font-weight="normal" letter-spacing="1.2" class="tb">1.5</text>
<text transform="translate(346.1,1213.2) rotate(-90)" x="0" y="0" font-size="16.3" text-anchor="middle" textLength="208.0" lengthAdjust="spacingAndGlyphs">Spheroid / Axon dilation Score</text>
<rect x="439.3" y="1133.7" width="48.1" height="214.1" fill="#fff" stroke="#000" stroke-width="1.6"/>
<line x1="463.4" y1="1114.8" x2="463.4" y2="1133.7" stroke-width="1.6"/>
<line x1="451.0" y1="1114.8" x2="475.8" y2="1114.8" stroke-width="1.6"/>
<line x1="463.4" y1="1347.8" x2="463.4" y2="1354.8" stroke-width="1.5"/>
<rect x="511.2" y="1344.4" width="48.2" height="3.4" fill="#111" stroke="#000" stroke-width="1.6"/>
<line x1="535.3" y1="1340.2" x2="535.3" y2="1344.4" stroke-width="1.6"/>
<line x1="522.9" y1="1340.2" x2="547.7" y2="1340.2" stroke-width="1.6"/>
<line x1="535.3" y1="1347.8" x2="535.3" y2="1354.8" stroke-width="1.5"/>
<line x1="470.0" y1="1094.7" x2="537.5" y2="1094.7" stroke-width="1.7"/>
<text x="502.8" y="1094.3" font-size="17" text-anchor="middle" font-weight="normal">****</text>
<text x="463.0" y="1375.8" font-size="15.5" text-anchor="middle" font-weight="normal">LM</text>
<text x="463.0" y="1394.1" font-size="15.5" text-anchor="middle" font-weight="normal">OVA</text>
<text x="537.5" y="1375.8" font-size="15.5" text-anchor="middle" font-weight="normal">LM</text>
<text x="537.5" y="1394.1" font-size="15.5" text-anchor="middle" font-weight="normal">PLP</text>
</svg>
</body></html>
